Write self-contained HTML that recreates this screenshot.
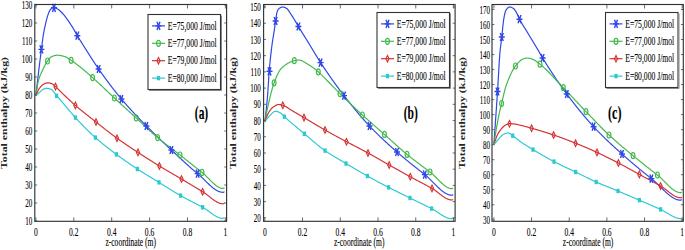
<!DOCTYPE html>
<html><head><meta charset="utf-8"><title>Total enthalpy vs z-coordinate</title>
<style>html,body{margin:0;padding:0;background:#fff;width:685px;height:250px;overflow:hidden}svg{display:block}#w{width:685px;height:250px}text{font-family:"Liberation Serif",serif;fill:#000;stroke:#000;stroke-width:0.12px}</style>
</head><body><div id="w">
<svg width="685" height="250" viewBox="0 0 685 250" font-family='"Liberation Serif", serif' >
<rect width="685" height="250" fill="#fff"/>
<path d="M35.9,95.6 36.15,93.32 36.4,91.05 36.65,88.81 36.9,86.59 37.15,84.38 37.4,82.19 37.65,80.03 37.9,77.87 38.15,75.74 38.4,73.62 38.65,71.52 38.9,69.44 39.15,67.37 39.4,65.32 39.65,63.28 39.9,61.26 40.15,59.25 40.4,57.25 40.65,55.27 40.9,53.3 41.15,51.34 41.4,49.4 41.65,47.45 41.9,45.48 42.15,43.52 42.4,41.6 42.65,39.72 42.9,37.91 43.15,36.2 43.4,34.6 43.65,33.13 43.9,31.75 44.15,30.43 44.4,29.19 44.65,27.99 44.9,26.84 45.15,25.72 45.4,24.62 45.65,23.52 45.9,22.44 46.15,21.38 46.4,20.34 46.65,19.34 46.9,18.38 47.15,17.48 47.4,16.63 47.65,15.84 47.9,15.12 48.15,14.42 48.4,13.73 48.65,13.06 48.9,12.43 49.15,11.82 49.4,11.27 49.65,10.76 49.9,10.31 50.15,9.92 50.4,9.6 50.65,9.32 50.9,9.05 51.15,8.78 51.4,8.53 51.65,8.3 51.9,8.08 52.15,7.89 52.4,7.72 52.65,7.59 52.9,7.49 53.15,7.42 53.4,7.4 53.65,7.41 53.9,7.44 54.15,7.48 54.4,7.54 54.65,7.61 54.9,7.7 55.15,7.8 55.4,7.9 55.65,8.02 55.9,8.14 56.15,8.27 56.4,8.4 56.65,8.54 56.9,8.67 57.15,8.81 57.4,8.95 57.65,9.08 57.9,9.23 58.15,9.39 58.4,9.55 58.65,9.73 58.9,9.92 59.15,10.12 59.4,10.32 59.65,10.54 59.9,10.76 60.15,10.98 60.4,11.22 60.65,11.46 60.9,11.7 61.15,11.95 61.4,12.21 61.65,12.46 61.9,12.72 62.15,12.99 62.4,13.25 62.65,13.51 62.9,13.78 63.15,14.05 63.4,14.32 63.65,14.6 63.9,14.89 64.15,15.19 64.4,15.49 64.65,15.81 64.9,16.13 65.15,16.46 65.4,16.79 65.65,17.12 65.9,17.46 66.15,17.8 66.4,18.14 66.65,18.48 66.9,18.82 67.15,19.17 67.4,19.52 67.65,19.87 67.9,20.23 68.15,20.59 68.4,20.95 68.65,21.32 68.9,21.68 69.15,22.05 69.4,22.43 69.65,22.8 69.9,23.18 70.15,23.56 70.4,23.94 70.65,24.33 70.9,24.72 71.15,25.11 71.4,25.5 71.65,25.9 71.9,26.29 72.15,26.69 72.4,27.1 72.65,27.5 72.9,27.91 73.15,28.32 73.4,28.73 73.65,29.16 73.9,29.59 74.15,30.03 74.4,30.48 74.65,30.93 74.9,31.38 75.15,31.84 75.4,32.3 75.65,32.76 75.9,33.22 76.15,33.67 76.4,34.12 76.65,34.57 76.9,35.01 77.15,35.44 77.4,35.87 77.65,36.29 77.9,36.71 78.15,37.12 78.4,37.54 78.65,37.95 78.9,38.36 79.15,38.77 79.4,39.17 79.65,39.57 79.9,39.98 80.15,40.38 80.4,40.78 80.65,41.17 80.9,41.57 81.15,41.97 81.4,42.36 81.65,42.75 81.9,43.15 82.15,43.54 82.4,43.93 82.65,44.32 82.9,44.71 83.15,45.1 83.4,45.49 83.65,45.88 83.9,46.28 84.15,46.67 84.4,47.06 84.65,47.45 84.9,47.84 85.15,48.24 85.4,48.63 85.65,49.02 85.9,49.42 86.15,49.81 86.4,50.21 86.65,50.6 86.9,51 87.15,51.4 87.4,51.79 87.65,52.19 87.9,52.58 88.15,52.98 88.4,53.38 88.65,53.77 88.9,54.17 89.15,54.57 89.4,54.96 89.65,55.36 89.9,55.75 90.15,56.15 90.4,56.54 90.65,56.94 90.9,57.33 91.15,57.72 91.4,58.11 91.65,58.51 91.9,58.9 92.15,59.29 92.4,59.68 92.65,60.07 92.9,60.46 93.15,60.84 93.4,61.23 93.65,61.62 93.9,62 94.15,62.39 94.4,62.77 94.65,63.15 94.9,63.53 95.15,63.91 95.4,64.29 95.65,64.66 95.9,65.04 96.15,65.41 96.4,65.79 96.65,66.16 96.9,66.53 97.15,66.9 97.4,67.26 97.65,67.63 97.9,67.99 98.15,68.35 98.4,68.71 98.65,69.07 98.9,69.43 99.15,69.79 99.4,70.14 99.65,70.5 99.9,70.85 100.15,71.21 100.4,71.56 100.65,71.91 100.9,72.27 101.15,72.62 101.4,72.97 101.65,73.32 101.9,73.67 102.15,74.02 102.4,74.37 102.65,74.72 102.9,75.07 103.15,75.41 103.4,75.76 103.65,76.11 103.9,76.45 104.15,76.8 104.4,77.14 104.65,77.49 104.9,77.83 105.15,78.17 105.4,78.51 105.65,78.85 105.9,79.2 106.15,79.54 106.4,79.87 106.65,80.21 106.9,80.55 107.15,80.89 107.4,81.23 107.65,81.56 107.9,81.9 108.15,82.23 108.4,82.57 108.65,82.9 108.9,83.23 109.15,83.57 109.4,83.9 109.65,84.23 109.9,84.56 110.15,84.89 110.4,85.22 110.65,85.55 110.9,85.87 111.15,86.2 111.4,86.53 111.65,86.85 111.9,87.18 112.15,87.5 112.4,87.83 112.65,88.15 112.9,88.47 113.15,88.79 113.4,89.11 113.65,89.43 113.9,89.75 114.15,90.07 114.4,90.39 114.65,90.71 114.9,91.02 115.15,91.34 115.4,91.65 115.65,91.97 115.9,92.28 116.15,92.6 116.4,92.91 116.65,93.22 116.9,93.53 117.15,93.84 117.4,94.15 117.65,94.46 117.9,94.77 118.15,95.07 118.4,95.38 118.65,95.69 118.9,95.99 119.15,96.3 119.4,96.6 119.65,96.9 119.9,97.2 120.15,97.51 120.4,97.81 120.65,98.11 120.9,98.4 121.15,98.7 121.4,99 121.65,99.3 121.9,99.59 122.15,99.89 122.4,100.18 122.65,100.48 122.9,100.77 123.15,101.06 123.4,101.35 123.65,101.64 123.9,101.93 124.15,102.22 124.4,102.51 124.65,102.8 124.9,103.09 125.15,103.37 125.4,103.66 125.65,103.94 125.9,104.23 126.15,104.51 126.4,104.8 126.65,105.08 126.9,105.36 127.15,105.64 127.4,105.92 127.65,106.2 127.9,106.48 128.15,106.76 128.4,107.04 128.65,107.32 128.9,107.6 129.15,107.87 129.4,108.15 129.65,108.43 129.9,108.7 130.15,108.98 130.4,109.25 130.65,109.52 130.9,109.8 131.15,110.07 131.4,110.34 131.65,110.61 131.9,110.88 132.15,111.15 132.4,111.43 132.65,111.69 132.9,111.96 133.15,112.23 133.4,112.5 133.65,112.77 133.9,113.04 134.15,113.3 134.4,113.57 134.65,113.84 134.9,114.1 135.15,114.37 135.4,114.63 135.65,114.9 135.9,115.16 136.15,115.42 136.4,115.69 136.65,115.95 136.9,116.21 137.15,116.48 137.4,116.74 137.65,117 137.9,117.26 138.15,117.52 138.4,117.78 138.65,118.04 138.9,118.3 139.15,118.56 139.4,118.82 139.65,119.08 139.9,119.34 140.15,119.6 140.4,119.86 140.65,120.12 140.9,120.37 141.15,120.63 141.4,120.89 141.65,121.15 141.9,121.4 142.15,121.66 142.4,121.92 142.65,122.17 142.9,122.43 143.15,122.69 143.4,122.94 143.65,123.2 143.9,123.45 144.15,123.71 144.4,123.96 144.65,124.22 144.9,124.47 145.15,124.73 145.4,124.98 145.65,125.24 145.9,125.49 146.15,125.75 146.4,126 146.65,126.25 146.9,126.51 147.15,126.76 147.4,127.01 147.65,127.27 147.9,127.52 148.15,127.77 148.4,128.02 148.65,128.27 148.9,128.52 149.15,128.77 149.4,129.02 149.65,129.27 149.9,129.52 150.15,129.77 150.4,130.02 150.65,130.26 150.9,130.51 151.15,130.76 151.4,131 151.65,131.25 151.9,131.5 152.15,131.74 152.4,131.99 152.65,132.23 152.9,132.48 153.15,132.72 153.4,132.97 153.65,133.21 153.9,133.46 154.15,133.7 154.4,133.94 154.65,134.18 154.9,134.43 155.15,134.67 155.4,134.91 155.65,135.15 155.9,135.39 156.15,135.64 156.4,135.88 156.65,136.12 156.9,136.36 157.15,136.6 157.4,136.84 157.65,137.08 157.9,137.32 158.15,137.56 158.4,137.79 158.65,138.03 158.9,138.27 159.15,138.51 159.4,138.75 159.65,138.99 159.9,139.22 160.15,139.46 160.4,139.7 160.65,139.93 160.9,140.17 161.15,140.41 161.4,140.64 161.65,140.88 161.9,141.12 162.15,141.35 162.4,141.59 162.65,141.82 162.9,142.06 163.15,142.3 163.4,142.53 163.65,142.77 163.9,143 164.15,143.24 164.4,143.47 164.65,143.7 164.9,143.94 165.15,144.17 165.4,144.41 165.65,144.64 165.9,144.87 166.15,145.11 166.4,145.34 166.65,145.58 166.9,145.81 167.15,146.04 167.4,146.28 167.65,146.51 167.9,146.74 168.15,146.98 168.4,147.21 168.65,147.44 168.9,147.67 169.15,147.91 169.4,148.14 169.65,148.37 169.9,148.6 170.15,148.84 170.4,149.07 170.65,149.3 170.9,149.54 171.15,149.77 171.4,150 171.65,150.23 171.9,150.47 172.15,150.7 172.4,150.93 172.65,151.16 172.9,151.4 173.15,151.63 173.4,151.86 173.65,152.1 173.9,152.33 174.15,152.56 174.4,152.8 174.65,153.03 174.9,153.26 175.15,153.5 175.4,153.73 175.65,153.97 175.9,154.2 176.15,154.43 176.4,154.67 176.65,154.9 176.9,155.13 177.15,155.37 177.4,155.6 177.65,155.84 177.9,156.07 178.15,156.3 178.4,156.54 178.65,156.77 178.9,157 179.15,157.24 179.4,157.47 179.65,157.7 179.9,157.93 180.15,158.17 180.4,158.4 180.65,158.63 180.9,158.86 181.15,159.1 181.4,159.33 181.65,159.56 181.9,159.79 182.15,160.02 182.4,160.25 182.65,160.49 182.9,160.72 183.15,160.95 183.4,161.18 183.65,161.41 183.9,161.64 184.15,161.87 184.4,162.1 184.65,162.32 184.9,162.55 185.15,162.78 185.4,163.01 185.65,163.24 185.9,163.46 186.15,163.69 186.4,163.92 186.65,164.14 186.9,164.37 187.15,164.6 187.4,164.82 187.65,165.05 187.9,165.27 188.15,165.5 188.4,165.72 188.65,165.94 188.9,166.17 189.15,166.39 189.4,166.61 189.65,166.83 189.9,167.05 190.15,167.27 190.4,167.49 190.65,167.71 190.9,167.93 191.15,168.15 191.4,168.37 191.65,168.59 191.9,168.81 192.15,169.02 192.4,169.24 192.65,169.45 192.9,169.67 193.15,169.88 193.4,170.1 193.65,170.31 193.9,170.52 194.15,170.74 194.4,170.95 194.65,171.16 194.9,171.37 195.15,171.58 195.4,171.79 195.65,172 195.9,172.2 196.15,172.41 196.4,172.62 196.65,172.82 196.9,173.03 197.15,173.23 197.4,173.44 197.65,173.64 197.9,173.85 198.15,174.05 198.4,174.26 198.65,174.48 198.9,174.69 199.15,174.91 199.4,175.13 199.65,175.35 199.9,175.58 200.15,175.8 200.4,176.03 200.65,176.26 200.9,176.5 201.15,176.73 201.4,176.97 201.65,177.2 201.9,177.44 202.15,177.68 202.4,177.92 202.65,178.16 202.9,178.41 203.15,178.65 203.4,178.89 203.65,179.14 203.9,179.38 204.15,179.63 204.4,179.88 204.65,180.12 204.9,180.37 205.15,180.62 205.4,180.86 205.65,181.11 205.9,181.36 206.15,181.6 206.4,181.85 206.65,182.1 206.9,182.34 207.15,182.59 207.4,182.83 207.65,183.07 207.9,183.31 208.15,183.55 208.4,183.79 208.65,184.03 208.9,184.27 209.15,184.5 209.4,184.74 209.65,184.97 209.9,185.2 210.15,185.43 210.4,185.65 210.65,185.88 210.9,186.1 211.15,186.32 211.4,186.54 211.65,186.75 211.9,186.96 212.15,187.17 212.4,187.38 212.65,187.58 212.9,187.78 213.15,187.98 213.4,188.18 213.65,188.37 213.9,188.56 214.15,188.74 214.4,188.92 214.65,189.1 214.9,189.28 215.15,189.45 215.4,189.61 215.65,189.78 215.9,189.93 216.15,190.09 216.4,190.24 216.65,190.38 216.9,190.52 217.15,190.66 217.4,190.79 217.65,190.92 217.9,191.04 218.15,191.16 218.4,191.27 218.65,191.38 218.9,191.48 219.15,191.57 219.4,191.66 219.65,191.75 219.9,191.83 220.15,191.9 220.4,191.97 220.65,192.03 220.9,192.09 221.15,192.14 221.4,192.18 221.65,192.22 221.9,192.25 222.15,192.27 222.4,192.29 222.65,192.3 222.9,192.3 223.15,192.28 223.4,192.21 223.65,192.11 223.9,191.99 224.15,191.87 224.4,191.75 224.5,191.7" stroke="#2f47e6" stroke-width="1.2" fill="none" stroke-linejoin="round"/>
<path d="M35.9,95.6 36.15,93.84 36.4,92.1 36.65,90.41 36.9,88.77 37.15,87.2 37.4,85.71 37.65,84.3 37.9,83 38.15,81.81 38.4,80.75 38.65,79.82 38.9,78.98 39.15,78.19 39.4,77.45 39.65,76.74 39.9,76.08 40.15,75.45 40.4,74.85 40.65,74.28 40.9,73.73 41.15,73.2 41.4,72.68 41.65,72.16 41.9,71.65 42.15,71.14 42.4,70.63 42.65,70.11 42.9,69.57 43.15,69.04 43.4,68.51 43.65,67.99 43.9,67.46 44.15,66.94 44.4,66.43 44.65,65.93 44.9,65.43 45.15,64.94 45.4,64.46 45.65,64 45.9,63.54 46.15,63.1 46.4,62.67 46.65,62.26 46.9,61.87 47.15,61.49 47.4,61.14 47.65,60.8 47.9,60.46 48.15,60.12 48.4,59.78 48.65,59.45 48.9,59.13 49.15,58.82 49.4,58.52 49.65,58.23 49.9,57.96 50.15,57.71 50.4,57.48 50.65,57.27 50.9,57.09 51.15,56.93 51.4,56.8 51.65,56.69 51.9,56.58 52.15,56.47 52.4,56.36 52.65,56.26 52.9,56.16 53.15,56.06 53.4,55.97 53.65,55.88 53.9,55.79 54.15,55.71 54.4,55.64 54.65,55.57 54.9,55.5 55.15,55.44 55.4,55.39 55.65,55.34 55.9,55.3 56.15,55.27 56.4,55.24 56.65,55.22 56.9,55.21 57.15,55.2 57.4,55.2 57.65,55.21 57.9,55.22 58.15,55.23 58.4,55.25 58.65,55.27 58.9,55.29 59.15,55.32 59.4,55.36 59.65,55.39 59.9,55.43 60.15,55.47 60.4,55.51 60.65,55.56 60.9,55.61 61.15,55.66 61.4,55.71 61.65,55.77 61.9,55.83 62.15,55.89 62.4,55.95 62.65,56.01 62.9,56.08 63.15,56.14 63.4,56.21 63.65,56.28 63.9,56.35 64.15,56.42 64.4,56.49 64.65,56.56 64.9,56.63 65.15,56.71 65.4,56.8 65.65,56.9 65.9,57.01 66.15,57.13 66.4,57.25 66.65,57.38 66.9,57.52 67.15,57.67 67.4,57.82 67.65,57.97 67.9,58.13 68.15,58.29 68.4,58.46 68.65,58.63 68.9,58.8 69.15,58.97 69.4,59.14 69.65,59.32 69.9,59.49 70.15,59.66 70.4,59.83 70.65,60 70.9,60.17 71.15,60.33 71.4,60.5 71.65,60.66 71.9,60.83 72.15,61 72.4,61.17 72.65,61.34 72.9,61.51 73.15,61.68 73.4,61.86 73.65,62.04 73.9,62.22 74.15,62.4 74.4,62.58 74.65,62.76 74.9,62.94 75.15,63.13 75.4,63.31 75.65,63.5 75.9,63.69 76.15,63.87 76.4,64.06 76.65,64.25 76.9,64.44 77.15,64.63 77.4,64.83 77.65,65.02 77.9,65.21 78.15,65.4 78.4,65.6 78.65,65.79 78.9,65.99 79.15,66.18 79.4,66.38 79.65,66.57 79.9,66.77 80.15,66.97 80.4,67.17 80.65,67.37 80.9,67.57 81.15,67.77 81.4,67.97 81.65,68.18 81.9,68.38 82.15,68.58 82.4,68.79 82.65,69 82.9,69.2 83.15,69.41 83.4,69.62 83.65,69.83 83.9,70.04 84.15,70.25 84.4,70.46 84.65,70.67 84.9,70.88 85.15,71.09 85.4,71.3 85.65,71.52 85.9,71.73 86.15,71.95 86.4,72.16 86.65,72.38 86.9,72.59 87.15,72.81 87.4,73.03 87.65,73.24 87.9,73.46 88.15,73.68 88.4,73.9 88.65,74.11 88.9,74.33 89.15,74.55 89.4,74.77 89.65,74.99 89.9,75.21 90.15,75.43 90.4,75.65 90.65,75.87 90.9,76.09 91.15,76.32 91.4,76.54 91.65,76.76 91.9,76.98 92.15,77.2 92.4,77.42 92.65,77.64 92.9,77.87 93.15,78.09 93.4,78.31 93.65,78.54 93.9,78.76 94.15,78.99 94.4,79.21 94.65,79.44 94.9,79.66 95.15,79.89 95.4,80.12 95.65,80.35 95.9,80.58 96.15,80.81 96.4,81.04 96.65,81.27 96.9,81.5 97.15,81.73 97.4,81.96 97.65,82.19 97.9,82.42 98.15,82.65 98.4,82.89 98.65,83.12 98.9,83.35 99.15,83.59 99.4,83.82 99.65,84.05 99.9,84.29 100.15,84.52 100.4,84.76 100.65,84.99 100.9,85.23 101.15,85.47 101.4,85.7 101.65,85.94 101.9,86.18 102.15,86.41 102.4,86.65 102.65,86.89 102.9,87.12 103.15,87.36 103.4,87.6 103.65,87.84 103.9,88.07 104.15,88.31 104.4,88.55 104.65,88.79 104.9,89.02 105.15,89.26 105.4,89.5 105.65,89.74 105.9,89.98 106.15,90.22 106.4,90.45 106.65,90.69 106.9,90.93 107.15,91.17 107.4,91.41 107.65,91.64 107.9,91.88 108.15,92.12 108.4,92.36 108.65,92.59 108.9,92.83 109.15,93.07 109.4,93.31 109.65,93.54 109.9,93.78 110.15,94.02 110.4,94.25 110.65,94.49 110.9,94.72 111.15,94.96 111.4,95.2 111.65,95.43 111.9,95.67 112.15,95.9 112.4,96.14 112.65,96.37 112.9,96.6 113.15,96.84 113.4,97.07 113.65,97.3 113.9,97.54 114.15,97.77 114.4,98 114.65,98.23 114.9,98.46 115.15,98.69 115.4,98.93 115.65,99.16 115.9,99.39 116.15,99.62 116.4,99.85 116.65,100.08 116.9,100.31 117.15,100.54 117.4,100.77 117.65,101 117.9,101.23 118.15,101.46 118.4,101.69 118.65,101.92 118.9,102.15 119.15,102.38 119.4,102.61 119.65,102.84 119.9,103.07 120.15,103.3 120.4,103.53 120.65,103.76 120.9,103.99 121.15,104.22 121.4,104.45 121.65,104.68 121.9,104.91 122.15,105.14 122.4,105.37 122.65,105.6 122.9,105.83 123.15,106.06 123.4,106.29 123.65,106.52 123.9,106.74 124.15,106.97 124.4,107.2 124.65,107.43 124.9,107.66 125.15,107.89 125.4,108.12 125.65,108.35 125.9,108.58 126.15,108.8 126.4,109.03 126.65,109.26 126.9,109.49 127.15,109.72 127.4,109.95 127.65,110.18 127.9,110.41 128.15,110.63 128.4,110.86 128.65,111.09 128.9,111.32 129.15,111.55 129.4,111.78 129.65,112.01 129.9,112.23 130.15,112.46 130.4,112.69 130.65,112.92 130.9,113.15 131.15,113.38 131.4,113.61 131.65,113.83 131.9,114.06 132.15,114.29 132.4,114.52 132.65,114.75 132.9,114.98 133.15,115.21 133.4,115.44 133.65,115.66 133.9,115.89 134.15,116.12 134.4,116.35 134.65,116.58 134.9,116.81 135.15,117.04 135.4,117.27 135.65,117.5 135.9,117.73 136.15,117.95 136.4,118.18 136.65,118.41 136.9,118.64 137.15,118.87 137.4,119.1 137.65,119.34 137.9,119.57 138.15,119.8 138.4,120.03 138.65,120.26 138.9,120.5 139.15,120.73 139.4,120.96 139.65,121.2 139.9,121.43 140.15,121.66 140.4,121.9 140.65,122.13 140.9,122.37 141.15,122.6 141.4,122.84 141.65,123.07 141.9,123.31 142.15,123.54 142.4,123.78 142.65,124.01 142.9,124.25 143.15,124.48 143.4,124.72 143.65,124.95 143.9,125.19 144.15,125.42 144.4,125.66 144.65,125.89 144.9,126.13 145.15,126.36 145.4,126.6 145.65,126.83 145.9,127.07 146.15,127.3 146.4,127.53 146.65,127.77 146.9,128 147.15,128.24 147.4,128.47 147.65,128.7 147.9,128.93 148.15,129.17 148.4,129.4 148.65,129.63 148.9,129.86 149.15,130.09 149.4,130.32 149.65,130.55 149.9,130.78 150.15,131.01 150.4,131.24 150.65,131.47 150.9,131.7 151.15,131.93 151.4,132.16 151.65,132.38 151.9,132.61 152.15,132.84 152.4,133.06 152.65,133.29 152.9,133.51 153.15,133.73 153.4,133.96 153.65,134.18 153.9,134.4 154.15,134.62 154.4,134.84 154.65,135.06 154.9,135.28 155.15,135.5 155.4,135.72 155.65,135.93 155.9,136.15 156.15,136.37 156.4,136.58 156.65,136.79 156.9,137.01 157.15,137.22 157.4,137.43 157.65,137.64 157.9,137.85 158.15,138.06 158.4,138.27 158.65,138.48 158.9,138.68 159.15,138.89 159.4,139.1 159.65,139.3 159.9,139.5 160.15,139.71 160.4,139.91 160.65,140.11 160.9,140.31 161.15,140.52 161.4,140.72 161.65,140.92 161.9,141.12 162.15,141.32 162.4,141.51 162.65,141.71 162.9,141.91 163.15,142.11 163.4,142.3 163.65,142.5 163.9,142.69 164.15,142.89 164.4,143.08 164.65,143.28 164.9,143.47 165.15,143.67 165.4,143.86 165.65,144.05 165.9,144.25 166.15,144.44 166.4,144.63 166.65,144.82 166.9,145.01 167.15,145.2 167.4,145.4 167.65,145.59 167.9,145.78 168.15,145.97 168.4,146.16 168.65,146.35 168.9,146.54 169.15,146.73 169.4,146.92 169.65,147.1 169.9,147.29 170.15,147.48 170.4,147.67 170.65,147.86 170.9,148.05 171.15,148.24 171.4,148.43 171.65,148.62 171.9,148.81 172.15,148.99 172.4,149.18 172.65,149.37 172.9,149.56 173.15,149.75 173.4,149.94 173.65,150.13 173.9,150.32 174.15,150.51 174.4,150.7 174.65,150.89 174.9,151.07 175.15,151.26 175.4,151.45 175.65,151.64 175.9,151.84 176.15,152.03 176.4,152.22 176.65,152.41 176.9,152.6 177.15,152.79 177.4,152.98 177.65,153.18 177.9,153.37 178.15,153.56 178.4,153.75 178.65,153.95 178.9,154.14 179.15,154.34 179.4,154.53 179.65,154.73 179.9,154.92 180.15,155.12 180.4,155.31 180.65,155.51 180.9,155.71 181.15,155.9 181.4,156.1 181.65,156.3 181.9,156.49 182.15,156.69 182.4,156.89 182.65,157.08 182.9,157.28 183.15,157.48 183.4,157.68 183.65,157.88 183.9,158.07 184.15,158.27 184.4,158.47 184.65,158.67 184.9,158.87 185.15,159.06 185.4,159.26 185.65,159.46 185.9,159.66 186.15,159.86 186.4,160.06 186.65,160.25 186.9,160.45 187.15,160.65 187.4,160.85 187.65,161.05 187.9,161.25 188.15,161.45 188.4,161.65 188.65,161.85 188.9,162.04 189.15,162.24 189.4,162.44 189.65,162.64 189.9,162.84 190.15,163.04 190.4,163.24 190.65,163.44 190.9,163.64 191.15,163.84 191.4,164.03 191.65,164.23 191.9,164.43 192.15,164.63 192.4,164.83 192.65,165.03 192.9,165.23 193.15,165.43 193.4,165.63 193.65,165.82 193.9,166.02 194.15,166.22 194.4,166.42 194.65,166.62 194.9,166.82 195.15,167.01 195.4,167.21 195.65,167.41 195.9,167.61 196.15,167.81 196.4,168 196.65,168.2 196.9,168.4 197.15,168.6 197.4,168.79 197.65,168.99 197.9,169.19 198.15,169.39 198.4,169.58 198.65,169.78 198.9,169.98 199.15,170.17 199.4,170.37 199.65,170.56 199.9,170.76 200.15,170.96 200.4,171.15 200.65,171.35 200.9,171.54 201.15,171.74 201.4,171.93 201.65,172.13 201.9,172.32 202.15,172.52 202.4,172.72 202.65,172.92 202.9,173.13 203.15,173.34 203.4,173.55 203.65,173.77 203.9,173.99 204.15,174.22 204.4,174.45 204.65,174.68 204.9,174.91 205.15,175.15 205.4,175.39 205.65,175.63 205.9,175.87 206.15,176.12 206.4,176.36 206.65,176.61 206.9,176.86 207.15,177.11 207.4,177.36 207.65,177.62 207.9,177.87 208.15,178.12 208.4,178.38 208.65,178.63 208.9,178.89 209.15,179.14 209.4,179.4 209.65,179.65 209.9,179.91 210.15,180.16 210.4,180.41 210.65,180.67 210.9,180.92 211.15,181.16 211.4,181.41 211.65,181.66 211.9,181.9 212.15,182.14 212.4,182.38 212.65,182.62 212.9,182.86 213.15,183.09 213.4,183.32 213.65,183.55 213.9,183.77 214.15,183.99 214.4,184.21 214.65,184.42 214.9,184.63 215.15,184.84 215.4,185.04 215.65,185.24 215.9,185.43 216.15,185.62 216.4,185.8 216.65,185.98 216.9,186.16 217.15,186.33 217.4,186.49 217.65,186.65 217.9,186.8 218.15,186.95 218.4,187.09 218.65,187.22 218.9,187.35 219.15,187.47 219.4,187.58 219.65,187.69 219.9,187.79 220.15,187.89 220.4,187.97 220.65,188.05 220.9,188.12 221.15,188.19 221.4,188.24 221.65,188.29 221.9,188.33 222.15,188.36 222.4,188.38 222.65,188.4 222.9,188.4 223.15,188.38 223.4,188.31 223.65,188.21 223.9,188.1 224.15,187.97 224.4,187.85 224.5,187.8" stroke="#43b94e" stroke-width="1.2" fill="none" stroke-linejoin="round"/>
<path d="M35.9,95.6 36.15,94.97 36.4,94.36 36.65,93.76 36.9,93.17 37.15,92.6 37.4,92.04 37.65,91.51 37.9,90.99 38.15,90.49 38.4,90.02 38.65,89.56 38.9,89.13 39.15,88.73 39.4,88.35 39.65,88 39.9,87.67 40.15,87.36 40.4,87.05 40.65,86.76 40.9,86.47 41.15,86.19 41.4,85.93 41.65,85.67 41.9,85.43 42.15,85.21 42.4,85 42.65,84.8 42.9,84.62 43.15,84.45 43.4,84.3 43.65,84.18 43.9,84.05 44.15,83.93 44.4,83.81 44.65,83.69 44.9,83.58 45.15,83.47 45.4,83.37 45.65,83.27 45.9,83.19 46.15,83.11 46.4,83.04 46.65,82.99 46.9,82.94 47.15,82.92 47.4,82.9 47.65,82.9 47.9,82.91 48.15,82.92 48.4,82.94 48.65,82.97 48.9,83.01 49.15,83.04 49.4,83.09 49.65,83.14 49.9,83.19 50.15,83.25 50.4,83.31 50.65,83.37 50.9,83.44 51.15,83.51 51.4,83.58 51.65,83.65 51.9,83.73 52.15,83.83 52.4,83.96 52.65,84.11 52.9,84.28 53.15,84.47 53.4,84.68 53.65,84.89 53.9,85.12 54.15,85.35 54.4,85.59 54.65,85.82 54.9,86.06 55.15,86.29 55.4,86.51 55.65,86.73 55.9,86.95 56.15,87.18 56.4,87.41 56.65,87.64 56.9,87.87 57.15,88.11 57.4,88.36 57.65,88.6 57.9,88.85 58.15,89.1 58.4,89.35 58.65,89.6 58.9,89.86 59.15,90.12 59.4,90.37 59.65,90.63 59.9,90.89 60.15,91.14 60.4,91.4 60.65,91.66 60.9,91.91 61.15,92.17 61.4,92.42 61.65,92.67 61.9,92.92 62.15,93.17 62.4,93.41 62.65,93.66 62.9,93.9 63.15,94.13 63.4,94.37 63.65,94.61 63.9,94.85 64.15,95.09 64.4,95.33 64.65,95.56 64.9,95.8 65.15,96.04 65.4,96.27 65.65,96.51 65.9,96.75 66.15,96.98 66.4,97.22 66.65,97.45 66.9,97.69 67.15,97.92 67.4,98.16 67.65,98.39 67.9,98.63 68.15,98.86 68.4,99.09 68.65,99.33 68.9,99.56 69.15,99.79 69.4,100.02 69.65,100.25 69.9,100.48 70.15,100.71 70.4,100.94 70.65,101.17 70.9,101.4 71.15,101.63 71.4,101.85 71.65,102.08 71.9,102.31 72.15,102.53 72.4,102.76 72.65,102.98 72.9,103.2 73.15,103.43 73.4,103.65 73.65,103.87 73.9,104.09 74.15,104.31 74.4,104.53 74.65,104.75 74.9,104.97 75.15,105.18 75.4,105.4 75.65,105.62 75.9,105.83 76.15,106.05 76.4,106.26 76.65,106.47 76.9,106.69 77.15,106.9 77.4,107.11 77.65,107.32 77.9,107.53 78.15,107.74 78.4,107.95 78.65,108.16 78.9,108.37 79.15,108.58 79.4,108.79 79.65,108.99 79.9,109.2 80.15,109.41 80.4,109.61 80.65,109.82 80.9,110.02 81.15,110.23 81.4,110.43 81.65,110.64 81.9,110.84 82.15,111.04 82.4,111.25 82.65,111.45 82.9,111.65 83.15,111.85 83.4,112.05 83.65,112.26 83.9,112.46 84.15,112.66 84.4,112.86 84.65,113.06 84.9,113.26 85.15,113.46 85.4,113.66 85.65,113.86 85.9,114.05 86.15,114.25 86.4,114.45 86.65,114.65 86.9,114.85 87.15,115.05 87.4,115.24 87.65,115.44 87.9,115.64 88.15,115.83 88.4,116.03 88.65,116.23 88.9,116.43 89.15,116.62 89.4,116.82 89.65,117.02 89.9,117.21 90.15,117.41 90.4,117.6 90.65,117.8 90.9,118 91.15,118.19 91.4,118.39 91.65,118.58 91.9,118.78 92.15,118.98 92.4,119.17 92.65,119.37 92.9,119.56 93.15,119.76 93.4,119.96 93.65,120.15 93.9,120.35 94.15,120.54 94.4,120.74 94.65,120.94 94.9,121.13 95.15,121.33 95.4,121.53 95.65,121.72 95.9,121.92 96.15,122.12 96.4,122.32 96.65,122.51 96.9,122.71 97.15,122.91 97.4,123.11 97.65,123.3 97.9,123.5 98.15,123.7 98.4,123.9 98.65,124.09 98.9,124.29 99.15,124.49 99.4,124.69 99.65,124.88 99.9,125.08 100.15,125.28 100.4,125.48 100.65,125.68 100.9,125.87 101.15,126.07 101.4,126.27 101.65,126.47 101.9,126.66 102.15,126.86 102.4,127.06 102.65,127.26 102.9,127.45 103.15,127.65 103.4,127.85 103.65,128.04 103.9,128.24 104.15,128.44 104.4,128.63 104.65,128.83 104.9,129.03 105.15,129.22 105.4,129.42 105.65,129.61 105.9,129.81 106.15,130 106.4,130.2 106.65,130.39 106.9,130.59 107.15,130.78 107.4,130.98 107.65,131.17 107.9,131.37 108.15,131.56 108.4,131.75 108.65,131.95 108.9,132.14 109.15,132.33 109.4,132.52 109.65,132.72 109.9,132.91 110.15,133.1 110.4,133.29 110.65,133.48 110.9,133.67 111.15,133.86 111.4,134.05 111.65,134.24 111.9,134.43 112.15,134.62 112.4,134.81 112.65,135 112.9,135.18 113.15,135.37 113.4,135.56 113.65,135.74 113.9,135.93 114.15,136.12 114.4,136.3 114.65,136.49 114.9,136.67 115.15,136.85 115.4,137.04 115.65,137.22 115.9,137.4 116.15,137.58 116.4,137.77 116.65,137.95 116.9,138.13 117.15,138.31 117.4,138.49 117.65,138.67 117.9,138.85 118.15,139.02 118.4,139.2 118.65,139.38 118.9,139.56 119.15,139.74 119.4,139.91 119.65,140.09 119.9,140.26 120.15,140.44 120.4,140.61 120.65,140.79 120.9,140.96 121.15,141.14 121.4,141.31 121.65,141.49 121.9,141.66 122.15,141.83 122.4,142.01 122.65,142.18 122.9,142.35 123.15,142.52 123.4,142.69 123.65,142.86 123.9,143.04 124.15,143.21 124.4,143.38 124.65,143.55 124.9,143.72 125.15,143.89 125.4,144.06 125.65,144.23 125.9,144.39 126.15,144.56 126.4,144.73 126.65,144.9 126.9,145.07 127.15,145.24 127.4,145.4 127.65,145.57 127.9,145.74 128.15,145.91 128.4,146.07 128.65,146.24 128.9,146.41 129.15,146.57 129.4,146.74 129.65,146.91 129.9,147.07 130.15,147.24 130.4,147.4 130.65,147.57 130.9,147.73 131.15,147.9 131.4,148.07 131.65,148.23 131.9,148.4 132.15,148.56 132.4,148.73 132.65,148.89 132.9,149.05 133.15,149.22 133.4,149.38 133.65,149.55 133.9,149.71 134.15,149.88 134.4,150.04 134.65,150.2 134.9,150.37 135.15,150.53 135.4,150.7 135.65,150.86 135.9,151.02 136.15,151.19 136.4,151.35 136.65,151.52 136.9,151.68 137.15,151.84 137.4,152.01 137.65,152.17 137.9,152.33 138.15,152.5 138.4,152.66 138.65,152.83 138.9,152.99 139.15,153.15 139.4,153.32 139.65,153.48 139.9,153.64 140.15,153.81 140.4,153.97 140.65,154.13 140.9,154.29 141.15,154.46 141.4,154.62 141.65,154.78 141.9,154.94 142.15,155.11 142.4,155.27 142.65,155.43 142.9,155.59 143.15,155.75 143.4,155.92 143.65,156.08 143.9,156.24 144.15,156.4 144.4,156.56 144.65,156.72 144.9,156.88 145.15,157.05 145.4,157.21 145.65,157.37 145.9,157.53 146.15,157.69 146.4,157.85 146.65,158.01 146.9,158.17 147.15,158.33 147.4,158.49 147.65,158.65 147.9,158.81 148.15,158.97 148.4,159.13 148.65,159.29 148.9,159.45 149.15,159.6 149.4,159.76 149.65,159.92 149.9,160.08 150.15,160.24 150.4,160.4 150.65,160.56 150.9,160.71 151.15,160.87 151.4,161.03 151.65,161.19 151.9,161.34 152.15,161.5 152.4,161.66 152.65,161.82 152.9,161.97 153.15,162.13 153.4,162.29 153.65,162.44 153.9,162.6 154.15,162.76 154.4,162.91 154.65,163.07 154.9,163.22 155.15,163.38 155.4,163.53 155.65,163.69 155.9,163.84 156.15,164 156.4,164.15 156.65,164.31 156.9,164.46 157.15,164.62 157.4,164.77 157.65,164.93 157.9,165.08 158.15,165.23 158.4,165.39 158.65,165.54 158.9,165.69 159.15,165.85 159.4,166 159.65,166.15 159.9,166.3 160.15,166.46 160.4,166.61 160.65,166.76 160.9,166.91 161.15,167.06 161.4,167.21 161.65,167.36 161.9,167.51 162.15,167.66 162.4,167.81 162.65,167.96 162.9,168.11 163.15,168.26 163.4,168.41 163.65,168.56 163.9,168.71 164.15,168.86 164.4,169 164.65,169.15 164.9,169.3 165.15,169.45 165.4,169.59 165.65,169.74 165.9,169.89 166.15,170.04 166.4,170.18 166.65,170.33 166.9,170.48 167.15,170.62 167.4,170.77 167.65,170.91 167.9,171.06 168.15,171.21 168.4,171.35 168.65,171.5 168.9,171.64 169.15,171.79 169.4,171.93 169.65,172.08 169.9,172.22 170.15,172.37 170.4,172.52 170.65,172.66 170.9,172.81 171.15,172.95 171.4,173.1 171.65,173.24 171.9,173.39 172.15,173.53 172.4,173.68 172.65,173.82 172.9,173.97 173.15,174.11 173.4,174.26 173.65,174.4 173.9,174.55 174.15,174.69 174.4,174.84 174.65,174.98 174.9,175.13 175.15,175.27 175.4,175.42 175.65,175.56 175.9,175.71 176.15,175.85 176.4,176 176.65,176.15 176.9,176.29 177.15,176.44 177.4,176.58 177.65,176.73 177.9,176.88 178.15,177.02 178.4,177.17 178.65,177.32 178.9,177.46 179.15,177.61 179.4,177.76 179.65,177.9 179.9,178.05 180.15,178.2 180.4,178.35 180.65,178.5 180.9,178.64 181.15,178.79 181.4,178.94 181.65,179.09 181.9,179.24 182.15,179.39 182.4,179.54 182.65,179.69 182.9,179.83 183.15,179.98 183.4,180.13 183.65,180.28 183.9,180.43 184.15,180.58 184.4,180.73 184.65,180.88 184.9,181.03 185.15,181.18 185.4,181.33 185.65,181.48 185.9,181.63 186.15,181.78 186.4,181.93 186.65,182.08 186.9,182.23 187.15,182.38 187.4,182.53 187.65,182.68 187.9,182.83 188.15,182.99 188.4,183.14 188.65,183.29 188.9,183.44 189.15,183.59 189.4,183.74 189.65,183.89 189.9,184.04 190.15,184.19 190.4,184.34 190.65,184.49 190.9,184.64 191.15,184.8 191.4,184.95 191.65,185.1 191.9,185.25 192.15,185.4 192.4,185.55 192.65,185.7 192.9,185.85 193.15,186 193.4,186.16 193.65,186.31 193.9,186.46 194.15,186.61 194.4,186.76 194.65,186.91 194.9,187.06 195.15,187.21 195.4,187.36 195.65,187.52 195.9,187.67 196.15,187.82 196.4,187.97 196.65,188.12 196.9,188.27 197.15,188.42 197.4,188.57 197.65,188.72 197.9,188.87 198.15,189.02 198.4,189.18 198.65,189.33 198.9,189.48 199.15,189.63 199.4,189.78 199.65,189.93 199.9,190.08 200.15,190.23 200.4,190.38 200.65,190.53 200.9,190.68 201.15,190.83 201.4,190.98 201.65,191.13 201.9,191.28 202.15,191.43 202.4,191.58 202.65,191.73 202.9,191.88 203.15,192.04 203.4,192.2 203.65,192.36 203.9,192.52 204.15,192.69 204.4,192.86 204.65,193.04 204.9,193.21 205.15,193.39 205.4,193.57 205.65,193.76 205.9,193.94 206.15,194.13 206.4,194.32 206.65,194.51 206.9,194.7 207.15,194.89 207.4,195.09 207.65,195.28 207.9,195.48 208.15,195.67 208.4,195.87 208.65,196.07 208.9,196.27 209.15,196.47 209.4,196.66 209.65,196.86 209.9,197.06 210.15,197.26 210.4,197.46 210.65,197.65 210.9,197.85 211.15,198.05 211.4,198.24 211.65,198.44 211.9,198.63 212.15,198.82 212.4,199.01 212.65,199.2 212.9,199.38 213.15,199.57 213.4,199.75 213.65,199.93 213.9,200.1 214.15,200.28 214.4,200.45 214.65,200.62 214.9,200.79 215.15,200.95 215.4,201.11 215.65,201.27 215.9,201.42 216.15,201.57 216.4,201.72 216.65,201.86 216.9,202 217.15,202.14 217.4,202.27 217.65,202.39 217.9,202.52 218.15,202.63 218.4,202.74 218.65,202.85 218.9,202.95 219.15,203.05 219.4,203.14 219.65,203.23 219.9,203.31 220.15,203.39 220.4,203.46 220.65,203.52 220.9,203.58 221.15,203.63 221.4,203.67 221.65,203.71 221.9,203.74 222.15,203.77 222.4,203.79 222.65,203.8 222.9,203.8 223.15,203.77 223.4,203.69 223.65,203.57 223.9,203.42 224.15,203.26 224.4,203.09 224.65,202.93 224.7,202.9" stroke="#d53030" stroke-width="1.2" fill="none" stroke-linejoin="round"/>
<path d="M35.9,95.6 36.15,95.37 36.4,95.13 36.65,94.9 36.9,94.67 37.15,94.44 37.4,94.22 37.65,93.99 37.9,93.76 38.15,93.54 38.4,93.32 38.65,93.1 38.9,92.88 39.15,92.66 39.4,92.44 39.65,92.23 39.9,92.01 40.15,91.79 40.4,91.55 40.65,91.31 40.9,91.07 41.15,90.83 41.4,90.58 41.65,90.35 41.9,90.12 42.15,89.9 42.4,89.69 42.65,89.51 42.9,89.34 43.15,89.19 43.4,89.07 43.65,88.98 43.9,88.9 44.15,88.83 44.4,88.75 44.65,88.68 44.9,88.61 45.15,88.55 45.4,88.49 45.65,88.44 45.9,88.39 46.15,88.36 46.4,88.33 46.65,88.31 46.9,88.3 47.15,88.3 47.4,88.31 47.65,88.34 47.9,88.37 48.15,88.41 48.4,88.46 48.65,88.52 48.9,88.59 49.15,88.66 49.4,88.74 49.65,88.83 49.9,88.92 50.15,89.02 50.4,89.12 50.65,89.22 50.9,89.33 51.15,89.43 51.4,89.55 51.65,89.69 51.9,89.86 52.15,90.07 52.4,90.3 52.65,90.56 52.9,90.83 53.15,91.13 53.4,91.44 53.65,91.77 53.9,92.11 54.15,92.46 54.4,92.82 54.65,93.17 54.9,93.53 55.15,93.89 55.4,94.24 55.65,94.59 55.9,94.93 56.15,95.25 56.4,95.56 56.65,95.86 56.9,96.14 57.15,96.43 57.4,96.71 57.65,96.99 57.9,97.26 58.15,97.54 58.4,97.82 58.65,98.09 58.9,98.37 59.15,98.65 59.4,98.92 59.65,99.2 59.9,99.49 60.15,99.77 60.4,100.06 60.65,100.34 60.9,100.63 61.15,100.92 61.4,101.21 61.65,101.5 61.9,101.79 62.15,102.09 62.4,102.38 62.65,102.67 62.9,102.97 63.15,103.26 63.4,103.56 63.65,103.86 63.9,104.15 64.15,104.45 64.4,104.75 64.65,105.05 64.9,105.35 65.15,105.65 65.4,105.95 65.65,106.25 65.9,106.55 66.15,106.85 66.4,107.15 66.65,107.45 66.9,107.75 67.15,108.05 67.4,108.35 67.65,108.65 67.9,108.95 68.15,109.25 68.4,109.55 68.65,109.84 68.9,110.14 69.15,110.44 69.4,110.74 69.65,111.03 69.9,111.33 70.15,111.63 70.4,111.92 70.65,112.21 70.9,112.51 71.15,112.8 71.4,113.09 71.65,113.38 71.9,113.67 72.15,113.96 72.4,114.25 72.65,114.54 72.9,114.82 73.15,115.1 73.4,115.39 73.65,115.67 73.9,115.95 74.15,116.23 74.4,116.51 74.65,116.78 74.9,117.06 75.15,117.33 75.4,117.6 75.65,117.87 75.9,118.14 76.15,118.41 76.4,118.68 76.65,118.95 76.9,119.22 77.15,119.48 77.4,119.75 77.65,120.02 77.9,120.29 78.15,120.55 78.4,120.82 78.65,121.08 78.9,121.35 79.15,121.61 79.4,121.88 79.65,122.14 79.9,122.41 80.15,122.67 80.4,122.93 80.65,123.19 80.9,123.46 81.15,123.72 81.4,123.98 81.65,124.24 81.9,124.5 82.15,124.76 82.4,125.02 82.65,125.27 82.9,125.53 83.15,125.79 83.4,126.05 83.65,126.3 83.9,126.56 84.15,126.81 84.4,127.07 84.65,127.32 84.9,127.57 85.15,127.83 85.4,128.08 85.65,128.33 85.9,128.58 86.15,128.83 86.4,129.08 86.65,129.33 86.9,129.58 87.15,129.83 87.4,130.07 87.65,130.32 87.9,130.57 88.15,130.81 88.4,131.06 88.65,131.3 88.9,131.54 89.15,131.79 89.4,132.03 89.65,132.27 89.9,132.51 90.15,132.75 90.4,132.99 90.65,133.22 90.9,133.46 91.15,133.7 91.4,133.93 91.65,134.17 91.9,134.4 92.15,134.64 92.4,134.87 92.65,135.1 92.9,135.33 93.15,135.56 93.4,135.79 93.65,136.02 93.9,136.25 94.15,136.48 94.4,136.7 94.65,136.93 94.9,137.15 95.15,137.38 95.4,137.6 95.65,137.82 95.9,138.04 96.15,138.26 96.4,138.48 96.65,138.7 96.9,138.92 97.15,139.14 97.4,139.36 97.65,139.57 97.9,139.79 98.15,140 98.4,140.22 98.65,140.43 98.9,140.65 99.15,140.86 99.4,141.07 99.65,141.28 99.9,141.49 100.15,141.7 100.4,141.91 100.65,142.12 100.9,142.33 101.15,142.54 101.4,142.74 101.65,142.95 101.9,143.16 102.15,143.36 102.4,143.57 102.65,143.77 102.9,143.97 103.15,144.18 103.4,144.38 103.65,144.58 103.9,144.78 104.15,144.99 104.4,145.19 104.65,145.39 104.9,145.59 105.15,145.79 105.4,145.99 105.65,146.18 105.9,146.38 106.15,146.58 106.4,146.78 106.65,146.97 106.9,147.17 107.15,147.37 107.4,147.56 107.65,147.76 107.9,147.95 108.15,148.15 108.4,148.34 108.65,148.53 108.9,148.73 109.15,148.92 109.4,149.11 109.65,149.31 109.9,149.5 110.15,149.69 110.4,149.88 110.65,150.07 110.9,150.26 111.15,150.45 111.4,150.64 111.65,150.83 111.9,151.02 112.15,151.21 112.4,151.4 112.65,151.59 112.9,151.78 113.15,151.97 113.4,152.16 113.65,152.34 113.9,152.53 114.15,152.72 114.4,152.91 114.65,153.09 114.9,153.28 115.15,153.47 115.4,153.65 115.65,153.84 115.9,154.03 116.15,154.21 116.4,154.4 116.65,154.59 116.9,154.77 117.15,154.96 117.4,155.14 117.65,155.33 117.9,155.51 118.15,155.69 118.4,155.88 118.65,156.06 118.9,156.24 119.15,156.43 119.4,156.61 119.65,156.79 119.9,156.97 120.15,157.15 120.4,157.33 120.65,157.51 120.9,157.69 121.15,157.87 121.4,158.05 121.65,158.23 121.9,158.41 122.15,158.59 122.4,158.77 122.65,158.95 122.9,159.12 123.15,159.3 123.4,159.48 123.65,159.66 123.9,159.83 124.15,160.01 124.4,160.19 124.65,160.36 124.9,160.54 125.15,160.71 125.4,160.89 125.65,161.06 125.9,161.24 126.15,161.41 126.4,161.58 126.65,161.76 126.9,161.93 127.15,162.1 127.4,162.28 127.65,162.45 127.9,162.62 128.15,162.79 128.4,162.97 128.65,163.14 128.9,163.31 129.15,163.48 129.4,163.65 129.65,163.82 129.9,163.99 130.15,164.16 130.4,164.33 130.65,164.5 130.9,164.67 131.15,164.84 131.4,165.01 131.65,165.18 131.9,165.35 132.15,165.51 132.4,165.68 132.65,165.85 132.9,166.02 133.15,166.19 133.4,166.35 133.65,166.52 133.9,166.69 134.15,166.85 134.4,167.02 134.65,167.19 134.9,167.35 135.15,167.52 135.4,167.68 135.65,167.85 135.9,168.01 136.15,168.18 136.4,168.34 136.65,168.51 136.9,168.67 137.15,168.84 137.4,169 137.65,169.16 137.9,169.33 138.15,169.49 138.4,169.65 138.65,169.82 138.9,169.98 139.15,170.14 139.4,170.3 139.65,170.46 139.9,170.62 140.15,170.78 140.4,170.94 140.65,171.1 140.9,171.26 141.15,171.42 141.4,171.58 141.65,171.74 141.9,171.9 142.15,172.05 142.4,172.21 142.65,172.37 142.9,172.53 143.15,172.68 143.4,172.84 143.65,173 143.9,173.15 144.15,173.31 144.4,173.46 144.65,173.62 144.9,173.77 145.15,173.93 145.4,174.08 145.65,174.24 145.9,174.39 146.15,174.55 146.4,174.7 146.65,174.86 146.9,175.01 147.15,175.16 147.4,175.32 147.65,175.47 147.9,175.62 148.15,175.78 148.4,175.93 148.65,176.08 148.9,176.24 149.15,176.39 149.4,176.54 149.65,176.7 149.9,176.85 150.15,177 150.4,177.15 150.65,177.3 150.9,177.46 151.15,177.61 151.4,177.76 151.65,177.91 151.9,178.07 152.15,178.22 152.4,178.37 152.65,178.52 152.9,178.67 153.15,178.83 153.4,178.98 153.65,179.13 153.9,179.28 154.15,179.43 154.4,179.59 154.65,179.74 154.9,179.89 155.15,180.04 155.4,180.2 155.65,180.35 155.9,180.5 156.15,180.65 156.4,180.81 156.65,180.96 156.9,181.11 157.15,181.26 157.4,181.42 157.65,181.57 157.9,181.72 158.15,181.88 158.4,182.03 158.65,182.18 158.9,182.34 159.15,182.49 159.4,182.65 159.65,182.8 159.9,182.96 160.15,183.11 160.4,183.26 160.65,183.42 160.9,183.57 161.15,183.73 161.4,183.89 161.65,184.04 161.9,184.2 162.15,184.35 162.4,184.51 162.65,184.66 162.9,184.82 163.15,184.98 163.4,185.13 163.65,185.29 163.9,185.44 164.15,185.6 164.4,185.76 164.65,185.91 164.9,186.07 165.15,186.23 165.4,186.38 165.65,186.54 165.9,186.69 166.15,186.85 166.4,187.01 166.65,187.16 166.9,187.32 167.15,187.48 167.4,187.63 167.65,187.79 167.9,187.94 168.15,188.1 168.4,188.26 168.65,188.41 168.9,188.57 169.15,188.72 169.4,188.88 169.65,189.03 169.9,189.19 170.15,189.34 170.4,189.5 170.65,189.65 170.9,189.81 171.15,189.96 171.4,190.12 171.65,190.27 171.9,190.42 172.15,190.58 172.4,190.73 172.65,190.88 172.9,191.04 173.15,191.19 173.4,191.34 173.65,191.49 173.9,191.65 174.15,191.8 174.4,191.95 174.65,192.1 174.9,192.25 175.15,192.4 175.4,192.55 175.65,192.7 175.9,192.85 176.15,193 176.4,193.15 176.65,193.3 176.9,193.45 177.15,193.6 177.4,193.74 177.65,193.89 177.9,194.04 178.15,194.19 178.4,194.33 178.65,194.48 178.9,194.62 179.15,194.77 179.4,194.91 179.65,195.06 179.9,195.2 180.15,195.34 180.4,195.49 180.65,195.63 180.9,195.77 181.15,195.91 181.4,196.05 181.65,196.19 181.9,196.33 182.15,196.47 182.4,196.61 182.65,196.75 182.9,196.89 183.15,197.03 183.4,197.17 183.65,197.3 183.9,197.44 184.15,197.58 184.4,197.71 184.65,197.85 184.9,197.98 185.15,198.12 185.4,198.26 185.65,198.39 185.9,198.52 186.15,198.66 186.4,198.79 186.65,198.93 186.9,199.06 187.15,199.19 187.4,199.33 187.65,199.46 187.9,199.59 188.15,199.72 188.4,199.86 188.65,199.99 188.9,200.12 189.15,200.25 189.4,200.38 189.65,200.51 189.9,200.64 190.15,200.77 190.4,200.91 190.65,201.04 190.9,201.17 191.15,201.3 191.4,201.43 191.65,201.56 191.9,201.69 192.15,201.82 192.4,201.95 192.65,202.08 192.9,202.21 193.15,202.34 193.4,202.47 193.65,202.6 193.9,202.73 194.15,202.86 194.4,202.99 194.65,203.12 194.9,203.25 195.15,203.38 195.4,203.51 195.65,203.64 195.9,203.77 196.15,203.9 196.4,204.03 196.65,204.16 196.9,204.29 197.15,204.42 197.4,204.55 197.65,204.68 197.9,204.81 198.15,204.94 198.4,205.07 198.65,205.2 198.9,205.33 199.15,205.46 199.4,205.6 199.65,205.73 199.9,205.86 200.15,205.99 200.4,206.12 200.65,206.26 200.9,206.39 201.15,206.52 201.4,206.66 201.65,206.79 201.9,206.92 202.15,207.06 202.4,207.19 202.65,207.33 202.9,207.46 203.15,207.6 203.4,207.75 203.65,207.9 203.9,208.04 204.15,208.2 204.4,208.35 204.65,208.51 204.9,208.67 205.15,208.83 205.4,209 205.65,209.16 205.9,209.33 206.15,209.5 206.4,209.68 206.65,209.85 206.9,210.02 207.15,210.2 207.4,210.38 207.65,210.56 207.9,210.74 208.15,210.92 208.4,211.1 208.65,211.28 208.9,211.46 209.15,211.64 209.4,211.82 209.65,212.01 209.9,212.19 210.15,212.37 210.4,212.55 210.65,212.73 210.9,212.91 211.15,213.09 211.4,213.27 211.65,213.45 211.9,213.63 212.15,213.8 212.4,213.98 212.65,214.15 212.9,214.32 213.15,214.49 213.4,214.66 213.65,214.82 213.9,214.99 214.15,215.15 214.4,215.31 214.65,215.46 214.9,215.62 215.15,215.77 215.4,215.92 215.65,216.06 215.9,216.2 216.15,216.34 216.4,216.48 216.65,216.61 216.9,216.74 217.15,216.86 217.4,216.98 217.65,217.1 217.9,217.21 218.15,217.32 218.4,217.42 218.65,217.52 218.9,217.62 219.15,217.71 219.4,217.79 219.65,217.87 219.9,217.95 220.15,218.02 220.4,218.08 220.65,218.14 220.9,218.19 221.15,218.24 221.4,218.28 221.65,218.32 221.9,218.35 222.15,218.37 222.4,218.39 222.65,218.4 222.9,218.4 223.15,218.36 223.4,218.26 223.65,218.11 223.9,217.94 224.15,217.75 224.4,217.57 224.5,217.5" stroke="#2cc9d1" stroke-width="1.2" fill="none" stroke-linejoin="round"/>
<path d="M38.4,49.4L44.4,49.4 M39.9,45.3L42.9,53.5 M39.9,53.5L42.9,45.3" stroke="#2f47e6" stroke-width="1.4" fill="none"/>
<path d="M51,7.8L57,7.8 M52.5,3.7L55.5,11.9 M52.5,11.9L55.5,3.7" stroke="#2f47e6" stroke-width="1.4" fill="none"/>
<path d="M74.3,35.7L80.3,35.7 M75.8,31.6L78.8,39.8 M75.8,39.8L78.8,31.6" stroke="#2f47e6" stroke-width="1.4" fill="none"/>
<path d="M95.6,69L101.6,69 M97.1,64.9L100.1,73.1 M97.1,73.1L100.1,64.9" stroke="#2f47e6" stroke-width="1.4" fill="none"/>
<path d="M118.4,99L124.4,99 M119.9,94.9L122.9,103.1 M119.9,103.1L122.9,94.9" stroke="#2f47e6" stroke-width="1.4" fill="none"/>
<path d="M143.4,126L149.4,126 M144.9,121.9L147.9,130.1 M144.9,130.1L147.9,121.9" stroke="#2f47e6" stroke-width="1.4" fill="none"/>
<path d="M168.4,150L174.4,150 M169.9,145.9L172.9,154.1 M169.9,154.1L172.9,145.9" stroke="#2f47e6" stroke-width="1.4" fill="none"/>
<path d="M194.6,173.6L200.6,173.6 M196.1,169.5L199.1,177.7 M196.1,177.7L199.1,169.5" stroke="#2f47e6" stroke-width="1.4" fill="none"/>
<ellipse cx="47.5" cy="61" rx="1.9" ry="3.0" stroke="#43b94e" stroke-width="1.2" fill="none"/>
<ellipse cx="71.1" cy="60.3" rx="1.9" ry="3.0" stroke="#43b94e" stroke-width="1.2" fill="none"/>
<ellipse cx="92.6" cy="77.6" rx="1.9" ry="3.0" stroke="#43b94e" stroke-width="1.2" fill="none"/>
<ellipse cx="114.4" cy="98" rx="1.9" ry="3.0" stroke="#43b94e" stroke-width="1.2" fill="none"/>
<ellipse cx="136.2" cy="118" rx="1.9" ry="3.0" stroke="#43b94e" stroke-width="1.2" fill="none"/>
<ellipse cx="157.6" cy="137.6" rx="1.9" ry="3.0" stroke="#43b94e" stroke-width="1.2" fill="none"/>
<ellipse cx="180" cy="155" rx="1.9" ry="3.0" stroke="#43b94e" stroke-width="1.2" fill="none"/>
<ellipse cx="202" cy="172.4" rx="1.9" ry="3.0" stroke="#43b94e" stroke-width="1.2" fill="none"/>
<path d="M55.5,83.3L57.1,86.6L55.5,89.9L53.9,86.6Z" stroke="#d53030" stroke-width="1.1" fill="none"/>
<path d="M75.4,102.1L77,105.4L75.4,108.7L73.8,105.4Z" stroke="#d53030" stroke-width="1.1" fill="none"/>
<path d="M96,118.7L97.6,122L96,125.3L94.4,122Z" stroke="#d53030" stroke-width="1.1" fill="none"/>
<path d="M117,134.9L118.6,138.2L117,141.5L115.4,138.2Z" stroke="#d53030" stroke-width="1.1" fill="none"/>
<path d="M138,149.1L139.6,152.4L138,155.7L136.4,152.4Z" stroke="#d53030" stroke-width="1.1" fill="none"/>
<path d="M159.4,162.7L161,166L159.4,169.3L157.8,166Z" stroke="#d53030" stroke-width="1.1" fill="none"/>
<path d="M181.5,175.7L183.1,179L181.5,182.3L179.9,179Z" stroke="#d53030" stroke-width="1.1" fill="none"/>
<path d="M202.6,188.4L204.2,191.7L202.6,195L201,191.7Z" stroke="#d53030" stroke-width="1.1" fill="none"/>
<rect x="55" y="93.6" width="3.2" height="4.4" fill="#2cc9d1"/>
<rect x="73.8" y="115.4" width="3.2" height="4.4" fill="#2cc9d1"/>
<rect x="93.8" y="135.4" width="3.2" height="4.4" fill="#2cc9d1"/>
<rect x="114.8" y="152.2" width="3.2" height="4.4" fill="#2cc9d1"/>
<rect x="135.8" y="166.8" width="3.2" height="4.4" fill="#2cc9d1"/>
<rect x="157.4" y="180.2" width="3.2" height="4.4" fill="#2cc9d1"/>
<rect x="179" y="193.4" width="3.2" height="4.4" fill="#2cc9d1"/>
<rect x="201" y="205.1" width="3.2" height="4.4" fill="#2cc9d1"/>
<path d="M34.8,221h2.4M226.6,221h-2.4M34.8,203h2.4M226.6,203h-2.4M34.8,185h2.4M226.6,185h-2.4M34.8,167h2.4M226.6,167h-2.4M34.8,149h2.4M226.6,149h-2.4M34.8,131h2.4M226.6,131h-2.4M34.8,113h2.4M226.6,113h-2.4M34.8,95h2.4M226.6,95h-2.4M34.8,77h2.4M226.6,77h-2.4M34.8,59h2.4M226.6,59h-2.4M34.8,41h2.4M226.6,41h-2.4M34.8,23h2.4M226.6,23h-2.4M34.8,5h2.4M226.6,5h-2.4M35.9,221.3v-4M35.9,4.5v4M73.8,221.3v-4M73.8,4.5v4M111.7,221.3v-4M111.7,4.5v4M149.6,221.3v-4M149.6,4.5v4M187.5,221.3v-4M187.5,4.5v4M225.4,221.3v-4M225.4,4.5v4" stroke="#666" stroke-width="0.95" fill="none"/>
<rect x="34.8" y="4.5" width="191.8" height="216.8" fill="none" stroke="#333" stroke-width="1.15"/>
<text transform="translate(32.4,225.1) scale(0.57,1)" font-size="12.4" text-anchor="end">10</text>
<text transform="translate(32.4,207.1) scale(0.57,1)" font-size="12.4" text-anchor="end">20</text>
<text transform="translate(32.4,189.1) scale(0.57,1)" font-size="12.4" text-anchor="end">30</text>
<text transform="translate(32.4,171.1) scale(0.57,1)" font-size="12.4" text-anchor="end">40</text>
<text transform="translate(32.4,153.1) scale(0.57,1)" font-size="12.4" text-anchor="end">50</text>
<text transform="translate(32.4,135.1) scale(0.57,1)" font-size="12.4" text-anchor="end">60</text>
<text transform="translate(32.4,117.1) scale(0.57,1)" font-size="12.4" text-anchor="end">70</text>
<text transform="translate(32.4,99.1) scale(0.57,1)" font-size="12.4" text-anchor="end">80</text>
<text transform="translate(32.4,81.1) scale(0.57,1)" font-size="12.4" text-anchor="end">90</text>
<text transform="translate(32.4,63.1) scale(0.57,1)" font-size="12.4" text-anchor="end">100</text>
<text transform="translate(32.4,45.1) scale(0.57,1)" font-size="12.4" text-anchor="end">110</text>
<text transform="translate(32.4,27.1) scale(0.57,1)" font-size="12.4" text-anchor="end">120</text>
<text transform="translate(32.4,9.1) scale(0.57,1)" font-size="12.4" text-anchor="end">130</text>
<text transform="translate(35.9,235.6) scale(0.61,1)" font-size="12.4" text-anchor="middle">0</text>
<text transform="translate(73.8,235.6) scale(0.61,1)" font-size="12.4" text-anchor="middle">0.2</text>
<text transform="translate(111.7,235.6) scale(0.61,1)" font-size="12.4" text-anchor="middle">0.4</text>
<text transform="translate(149.6,235.6) scale(0.61,1)" font-size="12.4" text-anchor="middle">0.6</text>
<text transform="translate(187.5,235.6) scale(0.61,1)" font-size="12.4" text-anchor="middle">0.8</text>
<text transform="translate(225.4,235.6) scale(0.61,1)" font-size="12.4" text-anchor="middle">1</text>
<text transform="translate(130.65,246) scale(0.63,1)" font-size="11.5" text-anchor="middle" textLength="80.16" lengthAdjust="spacingAndGlyphs">z-coordinate (m)</text>
<text transform="translate(7.4,169) scale(0.68,1) rotate(-90)" font-size="11.7" font-weight="bold" style="stroke-width:0;fill:#262626" textLength="112" lengthAdjust="spacingAndGlyphs">Total enthalpy (kJ/kg)</text>
<rect x="148" y="14.5" width="72.5" height="75" fill="#fff" stroke="#333" stroke-width="1.1"/>
<path d="M149,90.5h72.5v-75" stroke="#888" stroke-width="1" fill="none"/>
<path d="M152,25.9h13" stroke="#2f47e6" stroke-width="1.2"/>
<path d="M155.5,25.9L161.5,25.9 M157,21.8L160,30 M157,30L160,21.8" stroke="#2f47e6" stroke-width="1.4" fill="none"/>
<text transform="translate(167.8,29.5) scale(0.63,1)" font-size="13" textLength="77.62" lengthAdjust="spacingAndGlyphs">E=75,000 J/mol</text>
<path d="M152,43.3h13" stroke="#43b94e" stroke-width="1.2"/>
<ellipse cx="158.5" cy="43.3" rx="1.9" ry="3.0" stroke="#43b94e" stroke-width="1.2" fill="none"/>
<text transform="translate(167.8,46.9) scale(0.63,1)" font-size="13" textLength="77.62" lengthAdjust="spacingAndGlyphs">E=77,000 J/mol</text>
<path d="M152,60.7h13" stroke="#d53030" stroke-width="1.2"/>
<path d="M158.5,57.4L160.1,60.7L158.5,64L156.9,60.7Z" stroke="#d53030" stroke-width="1.1" fill="none"/>
<text transform="translate(167.8,64.3) scale(0.63,1)" font-size="13" textLength="77.62" lengthAdjust="spacingAndGlyphs">E=79,000 J/mol</text>
<path d="M152,78.1h13" stroke="#2cc9d1" stroke-width="1.2"/>
<rect x="156.9" y="75.9" width="3.2" height="4.4" fill="#2cc9d1"/>
<text transform="translate(167.8,81.7) scale(0.63,1)" font-size="13" textLength="77.62" lengthAdjust="spacingAndGlyphs">E=80,000 J/mol</text>
<text transform="translate(201.5,119.2) scale(0.7,1)" font-size="17.8" font-weight="bold" text-anchor="middle" textLength="19.14" lengthAdjust="spacingAndGlyphs">(a)</text>
<path d="M264.8,121.8 265.05,120.15 265.3,118.31 265.55,116.3 265.8,114.13 266.05,111.82 266.3,109.38 266.55,106.81 266.8,104.14 267.05,101.37 267.3,98.51 267.55,95.59 267.8,92.42 268.05,88.74 268.3,84.75 268.55,80.69 268.8,76.75 269.05,73.18 269.3,70.14 269.55,67.32 269.8,64.62 270.05,62.03 270.3,59.55 270.55,57.17 270.8,54.88 271.05,52.68 271.3,50.56 271.55,48.51 271.8,46.54 272.05,44.62 272.3,42.82 272.55,41.13 272.8,39.52 273.05,37.97 273.3,36.45 273.55,34.93 273.8,33.39 274.05,31.79 274.3,30.12 274.55,28.36 274.8,26.56 275.05,24.76 275.3,23 275.55,21.32 275.8,19.67 276.05,17.94 276.3,16.21 276.55,14.59 276.8,13.18 277.05,12.07 277.3,11.34 277.55,10.75 277.8,10.22 278.05,9.76 278.3,9.37 278.55,9.04 278.8,8.77 279.05,8.56 279.3,8.38 279.55,8.2 279.8,8.04 280.05,7.88 280.3,7.73 280.55,7.59 280.8,7.46 281.05,7.35 281.3,7.25 281.55,7.17 281.8,7.1 282.05,7.05 282.3,7.01 282.55,7 282.8,7.01 283.05,7.03 283.3,7.06 283.55,7.11 283.8,7.17 284.05,7.24 284.3,7.33 284.55,7.42 284.8,7.53 285.05,7.64 285.3,7.76 285.55,7.89 285.8,8.02 286.05,8.16 286.3,8.3 286.55,8.45 286.8,8.6 287.05,8.77 287.3,8.99 287.55,9.24 287.8,9.53 288.05,9.85 288.3,10.19 288.55,10.55 288.8,10.92 289.05,11.31 289.3,11.71 289.55,12.1 289.8,12.49 290.05,12.88 290.3,13.25 290.55,13.62 290.8,13.98 291.05,14.35 291.3,14.73 291.55,15.11 291.8,15.5 292.05,15.89 292.3,16.28 292.55,16.67 292.8,17.07 293.05,17.47 293.3,17.88 293.55,18.28 293.8,18.69 294.05,19.1 294.3,19.51 294.55,19.92 294.8,20.33 295.05,20.75 295.3,21.17 295.55,21.59 295.8,22.02 296.05,22.46 296.3,22.89 296.55,23.32 296.8,23.76 297.05,24.19 297.3,24.63 297.55,25.06 297.8,25.49 298.05,25.91 298.3,26.33 298.55,26.75 298.8,27.17 299.05,27.58 299.3,27.99 299.55,28.4 299.8,28.81 300.05,29.22 300.3,29.63 300.55,30.04 300.8,30.44 301.05,30.85 301.3,31.25 301.55,31.66 301.8,32.06 302.05,32.46 302.3,32.86 302.55,33.26 302.8,33.66 303.05,34.06 303.3,34.46 303.55,34.86 303.8,35.26 304.05,35.66 304.3,36.06 304.55,36.46 304.8,36.86 305.05,37.26 305.3,37.66 305.55,38.06 305.8,38.46 306.05,38.86 306.3,39.26 306.55,39.66 306.8,40.06 307.05,40.46 307.3,40.87 307.55,41.27 307.8,41.68 308.05,42.08 308.3,42.49 308.55,42.9 308.8,43.31 309.05,43.72 309.3,44.13 309.55,44.54 309.8,44.95 310.05,45.37 310.3,45.78 310.55,46.2 310.8,46.61 311.05,47.03 311.3,47.45 311.55,47.86 311.8,48.28 312.05,48.7 312.3,49.12 312.55,49.53 312.8,49.95 313.05,50.37 313.3,50.79 313.55,51.2 313.8,51.62 314.05,52.04 314.3,52.46 314.55,52.87 314.8,53.29 315.05,53.7 315.3,54.12 315.55,54.53 315.8,54.94 316.05,55.35 316.3,55.76 316.55,56.17 316.8,56.58 317.05,56.99 317.3,57.39 317.55,57.8 317.8,58.2 318.05,58.6 318.3,59 318.55,59.4 318.8,59.8 319.05,60.19 319.3,60.59 319.55,60.98 319.8,61.37 320.05,61.76 320.3,62.14 320.55,62.52 320.8,62.9 321.05,63.29 321.3,63.67 321.55,64.04 321.8,64.42 322.05,64.8 322.3,65.18 322.55,65.56 322.8,65.93 323.05,66.31 323.3,66.68 323.55,67.06 323.8,67.43 324.05,67.81 324.3,68.18 324.55,68.55 324.8,68.92 325.05,69.29 325.3,69.66 325.55,70.03 325.8,70.4 326.05,70.77 326.3,71.14 326.55,71.5 326.8,71.87 327.05,72.24 327.3,72.6 327.55,72.97 327.8,73.33 328.05,73.69 328.3,74.06 328.55,74.42 328.8,74.78 329.05,75.14 329.3,75.5 329.55,75.86 329.8,76.22 330.05,76.58 330.3,76.94 330.55,77.29 330.8,77.65 331.05,78.01 331.3,78.36 331.55,78.72 331.8,79.07 332.05,79.43 332.3,79.78 332.55,80.13 332.8,80.48 333.05,80.83 333.3,81.18 333.55,81.53 333.8,81.88 334.05,82.23 334.3,82.58 334.55,82.93 334.8,83.27 335.05,83.62 335.3,83.97 335.55,84.31 335.8,84.65 336.05,85 336.3,85.34 336.55,85.68 336.8,86.03 337.05,86.37 337.3,86.71 337.55,87.05 337.8,87.39 338.05,87.72 338.3,88.06 338.55,88.4 338.8,88.74 339.05,89.07 339.3,89.41 339.55,89.74 339.8,90.08 340.05,90.41 340.3,90.74 340.55,91.08 340.8,91.41 341.05,91.74 341.3,92.07 341.55,92.4 341.8,92.73 342.05,93.06 342.3,93.39 342.55,93.71 342.8,94.04 343.05,94.37 343.3,94.69 343.55,95.02 343.8,95.34 344.05,95.66 344.3,95.99 344.55,96.31 344.8,96.63 345.05,96.96 345.3,97.28 345.55,97.6 345.8,97.92 346.05,98.24 346.3,98.56 346.55,98.88 346.8,99.2 347.05,99.52 347.3,99.84 347.55,100.16 347.8,100.47 348.05,100.79 348.3,101.11 348.55,101.43 348.8,101.74 349.05,102.06 349.3,102.37 349.55,102.69 349.8,103 350.05,103.32 350.3,103.63 350.55,103.95 350.8,104.26 351.05,104.57 351.3,104.88 351.55,105.19 351.8,105.51 352.05,105.82 352.3,106.13 352.55,106.44 352.8,106.74 353.05,107.05 353.3,107.36 353.55,107.67 353.8,107.98 354.05,108.28 354.3,108.59 354.55,108.89 354.8,109.2 355.05,109.5 355.3,109.81 355.55,110.11 355.8,110.41 356.05,110.71 356.3,111.02 356.55,111.32 356.8,111.62 357.05,111.92 357.3,112.22 357.55,112.51 357.8,112.81 358.05,113.11 358.3,113.41 358.55,113.7 358.8,114 359.05,114.29 359.3,114.59 359.55,114.88 359.8,115.17 360.05,115.47 360.3,115.76 360.55,116.05 360.8,116.34 361.05,116.63 361.3,116.92 361.55,117.21 361.8,117.5 362.05,117.78 362.3,118.07 362.55,118.35 362.8,118.64 363.05,118.92 363.3,119.21 363.55,119.49 363.8,119.77 364.05,120.05 364.3,120.33 364.55,120.61 364.8,120.89 365.05,121.17 365.3,121.45 365.55,121.73 365.8,122 366.05,122.28 366.3,122.55 366.55,122.83 366.8,123.1 367.05,123.37 367.3,123.64 367.55,123.92 367.8,124.19 368.05,124.45 368.3,124.72 368.55,124.99 368.8,125.26 369.05,125.52 369.3,125.79 369.55,126.05 369.8,126.32 370.05,126.58 370.3,126.84 370.55,127.1 370.8,127.36 371.05,127.62 371.3,127.88 371.55,128.14 371.8,128.4 372.05,128.66 372.3,128.92 372.55,129.17 372.8,129.43 373.05,129.68 373.3,129.94 373.55,130.19 373.8,130.44 374.05,130.7 374.3,130.95 374.55,131.2 374.8,131.45 375.05,131.7 375.3,131.95 375.55,132.2 375.8,132.45 376.05,132.7 376.3,132.95 376.55,133.19 376.8,133.44 377.05,133.68 377.3,133.93 377.55,134.18 377.8,134.42 378.05,134.66 378.3,134.91 378.55,135.15 378.8,135.39 379.05,135.63 379.3,135.87 379.55,136.12 379.8,136.36 380.05,136.6 380.3,136.83 380.55,137.07 380.8,137.31 381.05,137.55 381.3,137.79 381.55,138.02 381.8,138.26 382.05,138.5 382.3,138.73 382.55,138.97 382.8,139.2 383.05,139.44 383.3,139.67 383.55,139.91 383.8,140.14 384.05,140.37 384.3,140.6 384.55,140.84 384.8,141.07 385.05,141.3 385.3,141.53 385.55,141.76 385.8,141.99 386.05,142.22 386.3,142.45 386.55,142.68 386.8,142.91 387.05,143.14 387.3,143.36 387.55,143.59 387.8,143.82 388.05,144.05 388.3,144.27 388.55,144.5 388.8,144.72 389.05,144.95 389.3,145.18 389.55,145.4 389.8,145.63 390.05,145.85 390.3,146.07 390.55,146.3 390.8,146.52 391.05,146.75 391.3,146.97 391.55,147.19 391.8,147.42 392.05,147.64 392.3,147.86 392.55,148.08 392.8,148.3 393.05,148.53 393.3,148.75 393.55,148.97 393.8,149.19 394.05,149.41 394.3,149.63 394.55,149.85 394.8,150.07 395.05,150.29 395.3,150.51 395.55,150.73 395.8,150.95 396.05,151.17 396.3,151.39 396.55,151.61 396.8,151.83 397.05,152.04 397.3,152.26 397.55,152.48 397.8,152.7 398.05,152.91 398.3,153.13 398.55,153.35 398.8,153.56 399.05,153.78 399.3,153.99 399.55,154.21 399.8,154.42 400.05,154.64 400.3,154.85 400.55,155.06 400.8,155.27 401.05,155.49 401.3,155.7 401.55,155.91 401.8,156.12 402.05,156.33 402.3,156.54 402.55,156.75 402.8,156.96 403.05,157.17 403.3,157.38 403.55,157.59 403.8,157.8 404.05,158.01 404.3,158.21 404.55,158.42 404.8,158.63 405.05,158.84 405.3,159.04 405.55,159.25 405.8,159.46 406.05,159.66 406.3,159.87 406.55,160.07 406.8,160.28 407.05,160.48 407.3,160.69 407.55,160.89 407.8,161.09 408.05,161.3 408.3,161.5 408.55,161.7 408.8,161.91 409.05,162.11 409.3,162.31 409.55,162.51 409.8,162.72 410.05,162.92 410.3,163.12 410.55,163.32 410.8,163.52 411.05,163.72 411.3,163.92 411.55,164.13 411.8,164.33 412.05,164.53 412.3,164.73 412.55,164.93 412.8,165.13 413.05,165.33 413.3,165.52 413.55,165.72 413.8,165.92 414.05,166.12 414.3,166.32 414.55,166.52 414.8,166.72 415.05,166.92 415.3,167.11 415.55,167.31 415.8,167.51 416.05,167.71 416.3,167.91 416.55,168.1 416.8,168.3 417.05,168.5 417.3,168.7 417.55,168.89 417.8,169.09 418.05,169.29 418.3,169.49 418.55,169.68 418.8,169.88 419.05,170.08 419.3,170.27 419.55,170.47 419.8,170.67 420.05,170.86 420.3,171.06 420.55,171.26 420.8,171.45 421.05,171.65 421.3,171.85 421.55,172.04 421.8,172.24 422.05,172.44 422.3,172.63 422.55,172.83 422.8,173.03 423.05,173.22 423.3,173.42 423.55,173.62 423.8,173.81 424.05,174.01 424.3,174.21 424.55,174.4 424.8,174.6 425.05,174.8 425.3,175 425.55,175.2 425.8,175.41 426.05,175.62 426.3,175.84 426.55,176.05 426.8,176.27 427.05,176.49 427.3,176.72 427.55,176.94 427.8,177.17 428.05,177.4 428.3,177.64 428.55,177.87 428.8,178.11 429.05,178.35 429.3,178.59 429.55,178.83 429.8,179.07 430.05,179.32 430.3,179.56 430.55,179.81 430.8,180.06 431.05,180.31 431.3,180.56 431.55,180.81 431.8,181.06 432.05,181.31 432.3,181.56 432.55,181.82 432.8,182.07 433.05,182.33 433.3,182.58 433.55,182.83 433.8,183.09 434.05,183.34 434.3,183.6 434.55,183.85 434.8,184.1 435.05,184.36 435.3,184.61 435.55,184.86 435.8,185.11 436.05,185.36 436.3,185.61 436.55,185.86 436.8,186.11 437.05,186.35 437.3,186.6 437.55,186.84 437.8,187.08 438.05,187.32 438.3,187.56 438.55,187.79 438.8,188.03 439.05,188.26 439.3,188.49 439.55,188.72 439.8,188.94 440.05,189.16 440.3,189.39 440.55,189.6 440.8,189.82 441.05,190.03 441.3,190.24 441.55,190.45 441.8,190.65 442.05,190.85 442.3,191.05 442.55,191.24 442.8,191.43 443.05,191.62 443.3,191.8 443.55,191.98 443.8,192.16 444.05,192.33 444.3,192.5 444.55,192.66 444.8,192.82 445.05,192.98 445.3,193.13 445.55,193.27 445.8,193.42 446.05,193.55 446.3,193.69 446.55,193.81 446.8,193.94 447.05,194.05 447.3,194.17 447.55,194.27 447.8,194.37 448.05,194.47 448.3,194.56 448.55,194.65 448.8,194.73 449.05,194.8 449.3,194.87 449.55,194.93 449.8,194.99 450.05,195.04 450.3,195.08 450.55,195.12 450.8,195.15 451.05,195.17 451.3,195.19 451.55,195.2 451.8,195.2 452.05,195.17 452.3,195.1 452.55,195 452.8,194.88 453.05,194.77 453.2,194.7" stroke="#2f47e6" stroke-width="1.2" fill="none" stroke-linejoin="round"/>
<path d="M264.8,121.8 265.05,120.47 265.3,119.16 265.55,117.87 265.8,116.58 266.05,115.31 266.3,114.06 266.55,112.82 266.8,111.6 267.05,110.4 267.3,109.2 267.55,108.03 267.8,106.87 268.05,105.73 268.3,104.6 268.55,103.49 268.8,102.4 269.05,101.32 269.3,100.26 269.55,99.22 269.8,98.2 270.05,97.19 270.3,96.17 270.55,95.17 270.8,94.17 271.05,93.18 271.3,92.2 271.55,91.23 271.8,90.29 272.05,89.36 272.3,88.45 272.55,87.57 272.8,86.72 273.05,85.89 273.3,85.1 273.55,84.34 273.8,83.62 274.05,82.93 274.3,82.28 274.55,81.63 274.8,80.98 275.05,80.35 275.3,79.72 275.55,79.09 275.8,78.48 276.05,77.87 276.3,77.27 276.55,76.69 276.8,76.11 277.05,75.55 277.3,74.99 277.55,74.45 277.8,73.93 278.05,73.42 278.3,72.92 278.55,72.44 278.8,71.98 279.05,71.53 279.3,71.1 279.55,70.69 279.8,70.3 280.05,69.93 280.3,69.58 280.55,69.25 280.8,68.94 281.05,68.66 281.3,68.4 281.55,68.16 281.8,67.92 282.05,67.69 282.3,67.46 282.55,67.24 282.8,67.02 283.05,66.8 283.3,66.59 283.55,66.38 283.8,66.17 284.05,65.97 284.3,65.77 284.55,65.57 284.8,65.38 285.05,65.19 285.3,65.01 285.55,64.83 285.8,64.65 286.05,64.48 286.3,64.3 286.55,64.14 286.8,63.97 287.05,63.81 287.3,63.66 287.55,63.51 287.8,63.36 288.05,63.21 288.3,63.07 288.55,62.93 288.8,62.79 289.05,62.66 289.3,62.53 289.55,62.41 289.8,62.29 290.05,62.17 290.3,62.06 290.55,61.95 290.8,61.84 291.05,61.73 291.3,61.63 291.55,61.54 291.8,61.44 292.05,61.35 292.3,61.27 292.55,61.18 292.8,61.11 293.05,61.03 293.3,60.96 293.55,60.89 293.8,60.82 294.05,60.76 294.3,60.7 294.55,60.64 294.8,60.58 295.05,60.53 295.3,60.47 295.55,60.42 295.8,60.36 296.05,60.31 296.3,60.26 296.55,60.22 296.8,60.17 297.05,60.13 297.3,60.1 297.55,60.07 297.8,60.04 298.05,60.02 298.3,60.01 298.55,60 298.8,60 299.05,60.01 299.3,60.03 299.55,60.06 299.8,60.1 300.05,60.15 300.3,60.21 300.55,60.27 300.8,60.35 301.05,60.43 301.3,60.52 301.55,60.62 301.8,60.72 302.05,60.83 302.3,60.94 302.55,61.06 302.8,61.19 303.05,61.32 303.3,61.46 303.55,61.59 303.8,61.74 304.05,61.88 304.3,62.03 304.55,62.18 304.8,62.34 305.05,62.49 305.3,62.65 305.55,62.81 305.8,62.96 306.05,63.12 306.3,63.28 306.55,63.44 306.8,63.6 307.05,63.75 307.3,63.91 307.55,64.06 307.8,64.21 308.05,64.36 308.3,64.5 308.55,64.64 308.8,64.79 309.05,64.94 309.3,65.09 309.55,65.24 309.8,65.4 310.05,65.56 310.3,65.72 310.55,65.88 310.8,66.05 311.05,66.21 311.3,66.38 311.55,66.55 311.8,66.73 312.05,66.9 312.3,67.08 312.55,67.26 312.8,67.44 313.05,67.62 313.3,67.81 313.55,67.99 313.8,68.18 314.05,68.37 314.3,68.56 314.55,68.75 314.8,68.95 315.05,69.14 315.3,69.34 315.55,69.54 315.8,69.74 316.05,69.94 316.3,70.14 316.55,70.34 316.8,70.55 317.05,70.76 317.3,70.96 317.55,71.17 317.8,71.38 318.05,71.59 318.3,71.8 318.55,72.01 318.8,72.23 319.05,72.45 319.3,72.68 319.55,72.91 319.8,73.14 320.05,73.38 320.3,73.62 320.55,73.86 320.8,74.11 321.05,74.35 321.3,74.6 321.55,74.85 321.8,75.11 322.05,75.36 322.3,75.62 322.55,75.87 322.8,76.13 323.05,76.39 323.3,76.65 323.55,76.91 323.8,77.17 324.05,77.42 324.3,77.68 324.55,77.94 324.8,78.19 325.05,78.45 325.3,78.7 325.55,78.95 325.8,79.2 326.05,79.45 326.3,79.7 326.55,79.95 326.8,80.2 327.05,80.46 327.3,80.71 327.55,80.96 327.8,81.21 328.05,81.47 328.3,81.72 328.55,81.98 328.8,82.23 329.05,82.48 329.3,82.74 329.55,82.99 329.8,83.25 330.05,83.51 330.3,83.76 330.55,84.02 330.8,84.27 331.05,84.53 331.3,84.79 331.55,85.04 331.8,85.3 332.05,85.55 332.3,85.81 332.55,86.07 332.8,86.32 333.05,86.58 333.3,86.83 333.55,87.09 333.8,87.35 334.05,87.6 334.3,87.86 334.55,88.11 334.8,88.37 335.05,88.62 335.3,88.88 335.55,89.13 335.8,89.39 336.05,89.64 336.3,89.89 336.55,90.15 336.8,90.4 337.05,90.65 337.3,90.91 337.55,91.16 337.8,91.41 338.05,91.66 338.3,91.91 338.55,92.16 338.8,92.41 339.05,92.66 339.3,92.91 339.55,93.16 339.8,93.4 340.05,93.65 340.3,93.9 340.55,94.14 340.8,94.39 341.05,94.63 341.3,94.88 341.55,95.13 341.8,95.37 342.05,95.62 342.3,95.86 342.55,96.11 342.8,96.35 343.05,96.6 343.3,96.84 343.55,97.09 343.8,97.33 344.05,97.58 344.3,97.82 344.55,98.06 344.8,98.31 345.05,98.55 345.3,98.79 345.55,99.04 345.8,99.28 346.05,99.52 346.3,99.77 346.55,100.01 346.8,100.25 347.05,100.49 347.3,100.74 347.55,100.98 347.8,101.22 348.05,101.46 348.3,101.7 348.55,101.95 348.8,102.19 349.05,102.43 349.3,102.67 349.55,102.91 349.8,103.15 350.05,103.39 350.3,103.63 350.55,103.87 350.8,104.11 351.05,104.35 351.3,104.59 351.55,104.83 351.8,105.07 352.05,105.31 352.3,105.54 352.55,105.78 352.8,106.02 353.05,106.26 353.3,106.5 353.55,106.73 353.8,106.97 354.05,107.21 354.3,107.45 354.55,107.68 354.8,107.92 355.05,108.15 355.3,108.39 355.55,108.63 355.8,108.86 356.05,109.1 356.3,109.33 356.55,109.57 356.8,109.8 357.05,110.04 357.3,110.27 357.55,110.51 357.8,110.74 358.05,110.97 358.3,111.21 358.55,111.44 358.8,111.67 359.05,111.91 359.3,112.14 359.55,112.37 359.8,112.6 360.05,112.83 360.3,113.07 360.55,113.3 360.8,113.53 361.05,113.76 361.3,113.99 361.55,114.22 361.8,114.45 362.05,114.68 362.3,114.91 362.55,115.14 362.8,115.37 363.05,115.59 363.3,115.82 363.55,116.05 363.8,116.28 364.05,116.5 364.3,116.73 364.55,116.96 364.8,117.18 365.05,117.41 365.3,117.63 365.55,117.86 365.8,118.08 366.05,118.31 366.3,118.53 366.55,118.75 366.8,118.98 367.05,119.2 367.3,119.42 367.55,119.65 367.8,119.87 368.05,120.09 368.3,120.31 368.55,120.53 368.8,120.75 369.05,120.98 369.3,121.2 369.55,121.42 369.8,121.64 370.05,121.86 370.3,122.08 370.55,122.3 370.8,122.52 371.05,122.74 371.3,122.96 371.55,123.18 371.8,123.39 372.05,123.61 372.3,123.83 372.55,124.05 372.8,124.27 373.05,124.49 373.3,124.71 373.55,124.92 373.8,125.14 374.05,125.36 374.3,125.58 374.55,125.8 374.8,126.01 375.05,126.23 375.3,126.45 375.55,126.67 375.8,126.88 376.05,127.1 376.3,127.32 376.55,127.54 376.8,127.75 377.05,127.97 377.3,128.19 377.55,128.41 377.8,128.62 378.05,128.84 378.3,129.06 378.55,129.28 378.8,129.49 379.05,129.71 379.3,129.93 379.55,130.15 379.8,130.37 380.05,130.58 380.3,130.8 380.55,131.02 380.8,131.24 381.05,131.46 381.3,131.68 381.55,131.89 381.8,132.11 382.05,132.33 382.3,132.55 382.55,132.77 382.8,132.99 383.05,133.21 383.3,133.43 383.55,133.65 383.8,133.87 384.05,134.09 384.3,134.31 384.55,134.53 384.8,134.75 385.05,134.98 385.3,135.2 385.55,135.42 385.8,135.64 386.05,135.87 386.3,136.09 386.55,136.31 386.8,136.54 387.05,136.76 387.3,136.98 387.55,137.21 387.8,137.43 388.05,137.66 388.3,137.88 388.55,138.11 388.8,138.33 389.05,138.56 389.3,138.78 389.55,139.01 389.8,139.24 390.05,139.46 390.3,139.69 390.55,139.92 390.8,140.14 391.05,140.37 391.3,140.59 391.55,140.82 391.8,141.05 392.05,141.27 392.3,141.5 392.55,141.73 392.8,141.95 393.05,142.18 393.3,142.41 393.55,142.63 393.8,142.86 394.05,143.09 394.3,143.31 394.55,143.54 394.8,143.76 395.05,143.99 395.3,144.22 395.55,144.44 395.8,144.67 396.05,144.89 396.3,145.12 396.55,145.34 396.8,145.57 397.05,145.79 397.3,146.01 397.55,146.24 397.8,146.46 398.05,146.69 398.3,146.91 398.55,147.13 398.8,147.35 399.05,147.58 399.3,147.8 399.55,148.02 399.8,148.24 400.05,148.46 400.3,148.68 400.55,148.9 400.8,149.12 401.05,149.34 401.3,149.56 401.55,149.78 401.8,149.99 402.05,150.21 402.3,150.43 402.55,150.64 402.8,150.86 403.05,151.08 403.3,151.29 403.55,151.5 403.8,151.72 404.05,151.93 404.3,152.14 404.55,152.36 404.8,152.57 405.05,152.78 405.3,152.99 405.55,153.2 405.8,153.41 406.05,153.62 406.3,153.82 406.55,154.03 406.8,154.24 407.05,154.44 407.3,154.65 407.55,154.85 407.8,155.05 408.05,155.26 408.3,155.46 408.55,155.66 408.8,155.86 409.05,156.06 409.3,156.26 409.55,156.46 409.8,156.66 410.05,156.86 410.3,157.06 410.55,157.26 410.8,157.46 411.05,157.65 411.3,157.85 411.55,158.05 411.8,158.24 412.05,158.44 412.3,158.63 412.55,158.83 412.8,159.02 413.05,159.21 413.3,159.41 413.55,159.6 413.8,159.79 414.05,159.99 414.3,160.18 414.55,160.37 414.8,160.56 415.05,160.75 415.3,160.94 415.55,161.13 415.8,161.32 416.05,161.51 416.3,161.7 416.55,161.89 416.8,162.08 417.05,162.27 417.3,162.46 417.55,162.65 417.8,162.84 418.05,163.03 418.3,163.22 418.55,163.4 418.8,163.59 419.05,163.78 419.3,163.97 419.55,164.15 419.8,164.34 420.05,164.53 420.3,164.72 420.55,164.9 420.8,165.09 421.05,165.28 421.3,165.46 421.55,165.65 421.8,165.84 422.05,166.02 422.3,166.21 422.55,166.4 422.8,166.58 423.05,166.77 423.3,166.96 423.55,167.14 423.8,167.33 424.05,167.52 424.3,167.7 424.55,167.89 424.8,168.08 425.05,168.26 425.3,168.45 425.55,168.64 425.8,168.83 426.05,169.01 426.3,169.2 426.55,169.39 426.8,169.58 427.05,169.77 427.3,169.95 427.55,170.14 427.8,170.33 428.05,170.52 428.3,170.71 428.55,170.9 428.8,171.09 429.05,171.28 429.3,171.47 429.55,171.66 429.8,171.85 430.05,172.04 430.3,172.23 430.55,172.43 430.8,172.63 431.05,172.84 431.3,173.05 431.55,173.26 431.8,173.48 432.05,173.7 432.3,173.92 432.55,174.15 432.8,174.37 433.05,174.61 433.3,174.84 433.55,175.08 433.8,175.31 434.05,175.56 434.3,175.8 434.55,176.04 434.8,176.29 435.05,176.54 435.3,176.78 435.55,177.03 435.8,177.28 436.05,177.54 436.3,177.79 436.55,178.04 436.8,178.3 437.05,178.55 437.3,178.8 437.55,179.06 437.8,179.31 438.05,179.56 438.3,179.82 438.55,180.07 438.8,180.32 439.05,180.57 439.3,180.82 439.55,181.07 439.8,181.31 440.05,181.56 440.3,181.8 440.55,182.04 440.8,182.28 441.05,182.52 441.3,182.76 441.55,182.99 441.8,183.22 442.05,183.45 442.3,183.67 442.55,183.89 442.8,184.11 443.05,184.33 443.3,184.54 443.55,184.75 443.8,184.95 444.05,185.15 444.3,185.35 444.55,185.54 444.8,185.73 445.05,185.91 445.3,186.09 445.55,186.26 445.8,186.43 446.05,186.6 446.3,186.76 446.55,186.91 446.8,187.06 447.05,187.2 447.3,187.33 447.55,187.46 447.8,187.59 448.05,187.7 448.3,187.81 448.55,187.92 448.8,188.02 449.05,188.11 449.3,188.19 449.55,188.26 449.8,188.33 450.05,188.39 450.3,188.45 450.55,188.49 450.8,188.53 451.05,188.56 451.3,188.58 451.55,188.6 451.8,188.6 452.05,188.57 452.3,188.5 452.55,188.4 452.8,188.29 453.05,188.17 453.2,188.1" stroke="#43b94e" stroke-width="1.2" fill="none" stroke-linejoin="round"/>
<path d="M264.8,121.8 265.05,121.08 265.3,120.38 265.55,119.68 265.8,119.01 266.05,118.34 266.3,117.7 266.55,117.07 266.8,116.45 267.05,115.86 267.3,115.29 267.55,114.73 267.8,114.2 268.05,113.69 268.3,113.2 268.55,112.74 268.8,112.3 269.05,111.89 269.3,111.5 269.55,111.13 269.8,110.77 270.05,110.42 270.3,110.08 270.55,109.75 270.8,109.43 271.05,109.12 271.3,108.83 271.55,108.55 271.8,108.28 272.05,108.03 272.3,107.78 272.55,107.56 272.8,107.35 273.05,107.15 273.3,106.97 273.55,106.8 273.8,106.63 274.05,106.47 274.3,106.3 274.55,106.14 274.8,105.97 275.05,105.82 275.3,105.66 275.55,105.52 275.8,105.38 276.05,105.24 276.3,105.12 276.55,105 276.8,104.89 277.05,104.8 277.3,104.71 277.55,104.64 277.8,104.58 278.05,104.54 278.3,104.51 278.55,104.5 278.8,104.5 279.05,104.51 279.3,104.53 279.55,104.56 279.8,104.59 280.05,104.63 280.3,104.68 280.55,104.73 280.8,104.78 281.05,104.84 281.3,104.9 281.55,104.96 281.8,105.03 282.05,105.1 282.3,105.16 282.55,105.23 282.8,105.3 283.05,105.37 283.3,105.45 283.55,105.53 283.8,105.63 284.05,105.73 284.3,105.83 284.55,105.94 284.8,106.06 285.05,106.18 285.3,106.31 285.55,106.44 285.8,106.58 286.05,106.72 286.3,106.86 286.55,107.01 286.8,107.16 287.05,107.32 287.3,107.47 287.55,107.63 287.8,107.8 288.05,107.96 288.3,108.13 288.55,108.29 288.8,108.46 289.05,108.63 289.3,108.8 289.55,108.97 289.8,109.14 290.05,109.31 290.3,109.48 290.55,109.64 290.8,109.81 291.05,109.97 291.3,110.14 291.55,110.3 291.8,110.46 292.05,110.61 292.3,110.76 292.55,110.91 292.8,111.06 293.05,111.2 293.3,111.35 293.55,111.49 293.8,111.64 294.05,111.78 294.3,111.93 294.55,112.07 294.8,112.22 295.05,112.37 295.3,112.51 295.55,112.66 295.8,112.8 296.05,112.95 296.3,113.09 296.55,113.24 296.8,113.38 297.05,113.53 297.3,113.68 297.55,113.82 297.8,113.97 298.05,114.11 298.3,114.26 298.55,114.41 298.8,114.55 299.05,114.7 299.3,114.85 299.55,114.99 299.8,115.14 300.05,115.28 300.3,115.43 300.55,115.58 300.8,115.72 301.05,115.87 301.3,116.02 301.55,116.16 301.8,116.31 302.05,116.46 302.3,116.6 302.55,116.75 302.8,116.9 303.05,117.04 303.3,117.19 303.55,117.34 303.8,117.48 304.05,117.63 304.3,117.78 304.55,117.92 304.8,118.07 305.05,118.22 305.3,118.37 305.55,118.51 305.8,118.66 306.05,118.81 306.3,118.96 306.55,119.11 306.8,119.25 307.05,119.4 307.3,119.55 307.55,119.7 307.8,119.85 308.05,120 308.3,120.15 308.55,120.3 308.8,120.44 309.05,120.59 309.3,120.74 309.55,120.89 309.8,121.04 310.05,121.19 310.3,121.34 310.55,121.49 310.8,121.64 311.05,121.79 311.3,121.94 311.55,122.09 311.8,122.24 312.05,122.39 312.3,122.54 312.55,122.69 312.8,122.84 313.05,122.99 313.3,123.14 313.55,123.29 313.8,123.44 314.05,123.58 314.3,123.73 314.55,123.88 314.8,124.03 315.05,124.18 315.3,124.33 315.55,124.48 315.8,124.63 316.05,124.78 316.3,124.93 316.55,125.08 316.8,125.22 317.05,125.37 317.3,125.52 317.55,125.67 317.8,125.82 318.05,125.97 318.3,126.11 318.55,126.26 318.8,126.41 319.05,126.56 319.3,126.7 319.55,126.85 319.8,127 320.05,127.14 320.3,127.29 320.55,127.44 320.8,127.58 321.05,127.73 321.3,127.87 321.55,128.02 321.8,128.16 322.05,128.31 322.3,128.45 322.55,128.6 322.8,128.74 323.05,128.89 323.3,129.03 323.55,129.17 323.8,129.32 324.05,129.46 324.3,129.6 324.55,129.74 324.8,129.89 325.05,130.03 325.3,130.17 325.55,130.31 325.8,130.45 326.05,130.59 326.3,130.73 326.55,130.87 326.8,131.01 327.05,131.15 327.3,131.29 327.55,131.43 327.8,131.57 328.05,131.71 328.3,131.85 328.55,131.99 328.8,132.13 329.05,132.27 329.3,132.41 329.55,132.55 329.8,132.68 330.05,132.82 330.3,132.96 330.55,133.1 330.8,133.24 331.05,133.37 331.3,133.51 331.55,133.65 331.8,133.79 332.05,133.92 332.3,134.06 332.55,134.2 332.8,134.33 333.05,134.47 333.3,134.61 333.55,134.74 333.8,134.88 334.05,135.01 334.3,135.15 334.55,135.29 334.8,135.42 335.05,135.56 335.3,135.69 335.55,135.83 335.8,135.96 336.05,136.1 336.3,136.23 336.55,136.37 336.8,136.5 337.05,136.64 337.3,136.77 337.55,136.91 337.8,137.04 338.05,137.18 338.3,137.31 338.55,137.44 338.8,137.58 339.05,137.71 339.3,137.85 339.55,137.98 339.8,138.12 340.05,138.25 340.3,138.38 340.55,138.52 340.8,138.65 341.05,138.79 341.3,138.92 341.55,139.05 341.8,139.19 342.05,139.32 342.3,139.45 342.55,139.59 342.8,139.72 343.05,139.86 343.3,139.99 343.55,140.12 343.8,140.26 344.05,140.39 344.3,140.52 344.55,140.66 344.8,140.79 345.05,140.92 345.3,141.06 345.55,141.19 345.8,141.33 346.05,141.46 346.3,141.59 346.55,141.73 346.8,141.86 347.05,141.99 347.3,142.13 347.55,142.26 347.8,142.39 348.05,142.52 348.3,142.66 348.55,142.79 348.8,142.92 349.05,143.05 349.3,143.18 349.55,143.32 349.8,143.45 350.05,143.58 350.3,143.71 350.55,143.84 350.8,143.97 351.05,144.1 351.3,144.23 351.55,144.36 351.8,144.49 352.05,144.62 352.3,144.75 352.55,144.88 352.8,145.01 353.05,145.14 353.3,145.27 353.55,145.4 353.8,145.53 354.05,145.66 354.3,145.79 354.55,145.92 354.8,146.05 355.05,146.18 355.3,146.31 355.55,146.44 355.8,146.57 356.05,146.7 356.3,146.83 356.55,146.96 356.8,147.09 357.05,147.22 357.3,147.35 357.55,147.48 357.8,147.61 358.05,147.74 358.3,147.87 358.55,148 358.8,148.13 359.05,148.26 359.3,148.39 359.55,148.52 359.8,148.65 360.05,148.78 360.3,148.91 360.55,149.04 360.8,149.17 361.05,149.3 361.3,149.43 361.55,149.56 361.8,149.69 362.05,149.82 362.3,149.95 362.55,150.09 362.8,150.22 363.05,150.35 363.3,150.48 363.55,150.61 363.8,150.75 364.05,150.88 364.3,151.01 364.55,151.14 364.8,151.28 365.05,151.41 365.3,151.54 365.55,151.68 365.8,151.81 366.05,151.95 366.3,152.08 366.55,152.21 366.8,152.35 367.05,152.48 367.3,152.62 367.55,152.76 367.8,152.89 368.05,153.03 368.3,153.16 368.55,153.3 368.8,153.44 369.05,153.57 369.3,153.71 369.55,153.85 369.8,153.99 370.05,154.13 370.3,154.26 370.55,154.4 370.8,154.54 371.05,154.68 371.3,154.82 371.55,154.96 371.8,155.1 372.05,155.24 372.3,155.38 372.55,155.52 372.8,155.66 373.05,155.8 373.3,155.94 373.55,156.08 373.8,156.22 374.05,156.36 374.3,156.51 374.55,156.65 374.8,156.79 375.05,156.93 375.3,157.07 375.55,157.21 375.8,157.36 376.05,157.5 376.3,157.64 376.55,157.78 376.8,157.93 377.05,158.07 377.3,158.21 377.55,158.35 377.8,158.5 378.05,158.64 378.3,158.78 378.55,158.92 378.8,159.07 379.05,159.21 379.3,159.35 379.55,159.5 379.8,159.64 380.05,159.78 380.3,159.93 380.55,160.07 380.8,160.21 381.05,160.36 381.3,160.5 381.55,160.64 381.8,160.79 382.05,160.93 382.3,161.07 382.55,161.22 382.8,161.36 383.05,161.5 383.3,161.65 383.55,161.79 383.8,161.93 384.05,162.08 384.3,162.22 384.55,162.36 384.8,162.5 385.05,162.65 385.3,162.79 385.55,162.93 385.8,163.07 386.05,163.22 386.3,163.36 386.55,163.5 386.8,163.64 387.05,163.78 387.3,163.93 387.55,164.07 387.8,164.21 388.05,164.35 388.3,164.49 388.55,164.63 388.8,164.77 389.05,164.92 389.3,165.06 389.55,165.2 389.8,165.34 390.05,165.48 390.3,165.62 390.55,165.76 390.8,165.9 391.05,166.04 391.3,166.18 391.55,166.32 391.8,166.46 392.05,166.61 392.3,166.75 392.55,166.89 392.8,167.03 393.05,167.17 393.3,167.31 393.55,167.45 393.8,167.59 394.05,167.73 394.3,167.87 394.55,168.01 394.8,168.16 395.05,168.3 395.3,168.44 395.55,168.58 395.8,168.72 396.05,168.86 396.3,169 396.55,169.14 396.8,169.28 397.05,169.42 397.3,169.56 397.55,169.71 397.8,169.85 398.05,169.99 398.3,170.13 398.55,170.27 398.8,170.41 399.05,170.55 399.3,170.69 399.55,170.83 399.8,170.97 400.05,171.11 400.3,171.25 400.55,171.39 400.8,171.53 401.05,171.67 401.3,171.81 401.55,171.95 401.8,172.09 402.05,172.23 402.3,172.37 402.55,172.51 402.8,172.65 403.05,172.79 403.3,172.93 403.55,173.07 403.8,173.21 404.05,173.35 404.3,173.49 404.55,173.63 404.8,173.77 405.05,173.9 405.3,174.04 405.55,174.18 405.8,174.32 406.05,174.46 406.3,174.6 406.55,174.74 406.8,174.87 407.05,175.01 407.3,175.15 407.55,175.29 407.8,175.43 408.05,175.56 408.3,175.7 408.55,175.84 408.8,175.98 409.05,176.12 409.3,176.25 409.55,176.39 409.8,176.53 410.05,176.66 410.3,176.8 410.55,176.94 410.8,177.07 411.05,177.21 411.3,177.34 411.55,177.48 411.8,177.62 412.05,177.75 412.3,177.88 412.55,178.02 412.8,178.15 413.05,178.29 413.3,178.42 413.55,178.56 413.8,178.69 414.05,178.82 414.3,178.96 414.55,179.09 414.8,179.22 415.05,179.35 415.3,179.49 415.55,179.62 415.8,179.75 416.05,179.88 416.3,180.02 416.55,180.15 416.8,180.28 417.05,180.41 417.3,180.54 417.55,180.67 417.8,180.81 418.05,180.94 418.3,181.07 418.55,181.2 418.8,181.33 419.05,181.46 419.3,181.59 419.55,181.73 419.8,181.86 420.05,181.99 420.3,182.12 420.55,182.25 420.8,182.38 421.05,182.51 421.3,182.64 421.55,182.78 421.8,182.91 422.05,183.04 422.3,183.17 422.55,183.3 422.8,183.43 423.05,183.57 423.3,183.7 423.55,183.83 423.8,183.96 424.05,184.09 424.3,184.23 424.55,184.36 424.8,184.49 425.05,184.62 425.3,184.76 425.55,184.89 425.8,185.02 426.05,185.16 426.3,185.29 426.55,185.42 426.8,185.56 427.05,185.69 427.3,185.83 427.55,185.96 427.8,186.09 428.05,186.23 428.3,186.37 428.55,186.5 428.8,186.64 429.05,186.77 429.3,186.91 429.55,187.05 429.8,187.18 430.05,187.32 430.3,187.46 430.55,187.59 430.8,187.73 431.05,187.87 431.3,188.01 431.55,188.15 431.8,188.29 432.05,188.43 432.3,188.57 432.55,188.72 432.8,188.87 433.05,189.02 433.3,189.18 433.55,189.34 433.8,189.5 434.05,189.67 434.3,189.84 434.55,190.01 434.8,190.19 435.05,190.36 435.3,190.54 435.55,190.72 435.8,190.91 436.05,191.09 436.3,191.28 436.55,191.47 436.8,191.66 437.05,191.85 437.3,192.04 437.55,192.23 437.8,192.43 438.05,192.62 438.3,192.81 438.55,193.01 438.8,193.2 439.05,193.4 439.3,193.6 439.55,193.79 439.8,193.98 440.05,194.18 440.3,194.37 440.55,194.57 440.8,194.76 441.05,194.95 441.3,195.14 441.55,195.32 441.8,195.51 442.05,195.7 442.3,195.88 442.55,196.06 442.8,196.24 443.05,196.41 443.3,196.59 443.55,196.76 443.8,196.93 444.05,197.09 444.3,197.26 444.55,197.41 444.8,197.57 445.05,197.72 445.3,197.87 445.55,198.02 445.8,198.16 446.05,198.3 446.3,198.43 446.55,198.56 446.8,198.68 447.05,198.8 447.3,198.92 447.55,199.03 447.8,199.13 448.05,199.23 448.3,199.33 448.55,199.41 448.8,199.5 449.05,199.57 449.3,199.65 449.55,199.71 449.8,199.77 450.05,199.82 450.3,199.87 450.55,199.91 450.8,199.94 451.05,199.97 451.3,199.99 451.55,200 451.8,200 452.05,199.97 452.3,199.9 452.55,199.8 452.8,199.68 453.05,199.57 453.2,199.5" stroke="#d53030" stroke-width="1.2" fill="none" stroke-linejoin="round"/>
<path d="M264.8,121.8 265.05,121.44 265.3,121.09 265.55,120.74 265.8,120.39 266.05,120.05 266.3,119.72 266.55,119.39 266.8,119.06 267.05,118.74 267.3,118.43 267.55,118.12 267.8,117.83 268.05,117.53 268.3,117.25 268.55,116.97 268.8,116.71 269.05,116.45 269.3,116.2 269.55,115.95 269.8,115.7 270.05,115.44 270.3,115.17 270.55,114.9 270.8,114.64 271.05,114.37 271.3,114.1 271.55,113.84 271.8,113.58 272.05,113.33 272.3,113.09 272.55,112.85 272.8,112.63 273.05,112.42 273.3,112.22 273.55,112.04 273.8,111.87 274.05,111.72 274.3,111.6 274.55,111.49 274.8,111.4 275.05,111.34 275.3,111.31 275.55,111.3 275.8,111.31 276.05,111.33 276.3,111.36 276.55,111.4 276.8,111.45 277.05,111.51 277.3,111.58 277.55,111.66 277.8,111.75 278.05,111.84 278.3,111.94 278.55,112.04 278.8,112.15 279.05,112.27 279.3,112.39 279.55,112.51 279.8,112.63 280.05,112.76 280.3,112.89 280.55,113.02 280.8,113.15 281.05,113.31 281.3,113.5 281.55,113.71 281.8,113.94 282.05,114.18 282.3,114.44 282.55,114.71 282.8,114.99 283.05,115.27 283.3,115.55 283.55,115.83 283.8,116.1 284.05,116.36 284.3,116.61 284.55,116.84 284.8,117.07 285.05,117.3 285.3,117.52 285.55,117.75 285.8,117.97 286.05,118.2 286.3,118.42 286.55,118.64 286.8,118.86 287.05,119.08 287.3,119.3 287.55,119.52 287.8,119.73 288.05,119.95 288.3,120.17 288.55,120.38 288.8,120.59 289.05,120.81 289.3,121.02 289.55,121.24 289.8,121.45 290.05,121.66 290.3,121.88 290.55,122.09 290.8,122.3 291.05,122.52 291.3,122.73 291.55,122.94 291.8,123.16 292.05,123.37 292.3,123.59 292.55,123.8 292.8,124.01 293.05,124.23 293.3,124.44 293.55,124.66 293.8,124.87 294.05,125.08 294.3,125.3 294.55,125.51 294.8,125.72 295.05,125.94 295.3,126.15 295.55,126.36 295.8,126.58 296.05,126.79 296.3,127 296.55,127.21 296.8,127.42 297.05,127.64 297.3,127.85 297.55,128.06 297.8,128.27 298.05,128.48 298.3,128.69 298.55,128.9 298.8,129.11 299.05,129.32 299.3,129.54 299.55,129.75 299.8,129.96 300.05,130.17 300.3,130.38 300.55,130.59 300.8,130.8 301.05,131.01 301.3,131.21 301.55,131.42 301.8,131.63 302.05,131.84 302.3,132.05 302.55,132.26 302.8,132.47 303.05,132.68 303.3,132.88 303.55,133.09 303.8,133.3 304.05,133.51 304.3,133.72 304.55,133.92 304.8,134.13 305.05,134.34 305.3,134.55 305.55,134.76 305.8,134.97 306.05,135.18 306.3,135.39 306.55,135.6 306.8,135.81 307.05,136.03 307.3,136.24 307.55,136.45 307.8,136.66 308.05,136.88 308.3,137.09 308.55,137.3 308.8,137.51 309.05,137.73 309.3,137.94 309.55,138.15 309.8,138.37 310.05,138.58 310.3,138.8 310.55,139.01 310.8,139.22 311.05,139.44 311.3,139.65 311.55,139.86 311.8,140.08 312.05,140.29 312.3,140.5 312.55,140.72 312.8,140.93 313.05,141.14 313.3,141.35 313.55,141.56 313.8,141.78 314.05,141.99 314.3,142.2 314.55,142.41 314.8,142.62 315.05,142.83 315.3,143.04 315.55,143.25 315.8,143.45 316.05,143.66 316.3,143.87 316.55,144.08 316.8,144.28 317.05,144.49 317.3,144.69 317.55,144.9 317.8,145.1 318.05,145.31 318.3,145.51 318.55,145.71 318.8,145.91 319.05,146.11 319.3,146.31 319.55,146.51 319.8,146.71 320.05,146.9 320.3,147.1 320.55,147.3 320.8,147.49 321.05,147.68 321.3,147.88 321.55,148.07 321.8,148.26 322.05,148.45 322.3,148.64 322.55,148.82 322.8,149.01 323.05,149.2 323.3,149.38 323.55,149.56 323.8,149.74 324.05,149.92 324.3,150.1 324.55,150.28 324.8,150.46 325.05,150.64 325.3,150.81 325.55,150.98 325.8,151.16 326.05,151.33 326.3,151.5 326.55,151.67 326.8,151.84 327.05,152.01 327.3,152.17 327.55,152.34 327.8,152.51 328.05,152.67 328.3,152.84 328.55,153 328.8,153.16 329.05,153.33 329.3,153.49 329.55,153.65 329.8,153.81 330.05,153.97 330.3,154.13 330.55,154.29 330.8,154.44 331.05,154.6 331.3,154.76 331.55,154.91 331.8,155.07 332.05,155.22 332.3,155.38 332.55,155.53 332.8,155.69 333.05,155.84 333.3,155.99 333.55,156.14 333.8,156.3 334.05,156.45 334.3,156.6 334.55,156.75 334.8,156.9 335.05,157.05 335.3,157.2 335.55,157.35 335.8,157.5 336.05,157.65 336.3,157.79 336.55,157.94 336.8,158.09 337.05,158.24 337.3,158.38 337.55,158.53 337.8,158.68 338.05,158.83 338.3,158.97 338.55,159.12 338.8,159.27 339.05,159.41 339.3,159.56 339.55,159.7 339.8,159.85 340.05,160 340.3,160.14 340.55,160.29 340.8,160.44 341.05,160.58 341.3,160.73 341.55,160.87 341.8,161.02 342.05,161.17 342.3,161.31 342.55,161.46 342.8,161.61 343.05,161.75 343.3,161.9 343.55,162.05 343.8,162.19 344.05,162.34 344.3,162.49 344.55,162.64 344.8,162.78 345.05,162.93 345.3,163.08 345.55,163.23 345.8,163.38 346.05,163.53 346.3,163.68 346.55,163.83 346.8,163.98 347.05,164.13 347.3,164.28 347.55,164.43 347.8,164.58 348.05,164.73 348.3,164.88 348.55,165.03 348.8,165.17 349.05,165.32 349.3,165.47 349.55,165.62 349.8,165.77 350.05,165.92 350.3,166.07 350.55,166.22 350.8,166.37 351.05,166.52 351.3,166.66 351.55,166.81 351.8,166.96 352.05,167.11 352.3,167.26 352.55,167.41 352.8,167.55 353.05,167.7 353.3,167.85 353.55,168 353.8,168.15 354.05,168.29 354.3,168.44 354.55,168.59 354.8,168.74 355.05,168.88 355.3,169.03 355.55,169.18 355.8,169.33 356.05,169.47 356.3,169.62 356.55,169.77 356.8,169.91 357.05,170.06 357.3,170.21 357.55,170.35 357.8,170.5 358.05,170.64 358.3,170.79 358.55,170.94 358.8,171.08 359.05,171.23 359.3,171.37 359.55,171.52 359.8,171.66 360.05,171.81 360.3,171.95 360.55,172.1 360.8,172.24 361.05,172.39 361.3,172.53 361.55,172.67 361.8,172.82 362.05,172.96 362.3,173.11 362.55,173.25 362.8,173.39 363.05,173.54 363.3,173.68 363.55,173.82 363.8,173.96 364.05,174.11 364.3,174.25 364.55,174.39 364.8,174.53 365.05,174.68 365.3,174.82 365.55,174.96 365.8,175.1 366.05,175.24 366.3,175.38 366.55,175.52 366.8,175.66 367.05,175.8 367.3,175.94 367.55,176.08 367.8,176.22 368.05,176.36 368.3,176.5 368.55,176.64 368.8,176.78 369.05,176.92 369.3,177.06 369.55,177.2 369.8,177.34 370.05,177.48 370.3,177.61 370.55,177.75 370.8,177.89 371.05,178.03 371.3,178.17 371.55,178.31 371.8,178.44 372.05,178.58 372.3,178.72 372.55,178.86 372.8,178.99 373.05,179.13 373.3,179.27 373.55,179.4 373.8,179.54 374.05,179.68 374.3,179.81 374.55,179.95 374.8,180.09 375.05,180.22 375.3,180.36 375.55,180.49 375.8,180.63 376.05,180.76 376.3,180.9 376.55,181.04 376.8,181.17 377.05,181.31 377.3,181.44 377.55,181.58 377.8,181.71 378.05,181.84 378.3,181.98 378.55,182.11 378.8,182.25 379.05,182.38 379.3,182.51 379.55,182.65 379.8,182.78 380.05,182.92 380.3,183.05 380.55,183.18 380.8,183.31 381.05,183.45 381.3,183.58 381.55,183.71 381.8,183.85 382.05,183.98 382.3,184.11 382.55,184.24 382.8,184.37 383.05,184.51 383.3,184.64 383.55,184.77 383.8,184.9 384.05,185.03 384.3,185.16 384.55,185.29 384.8,185.43 385.05,185.56 385.3,185.69 385.55,185.82 385.8,185.95 386.05,186.08 386.3,186.21 386.55,186.34 386.8,186.47 387.05,186.6 387.3,186.73 387.55,186.86 387.8,186.99 388.05,187.12 388.3,187.25 388.55,187.37 388.8,187.5 389.05,187.63 389.3,187.76 389.55,187.89 389.8,188.02 390.05,188.14 390.3,188.27 390.55,188.4 390.8,188.53 391.05,188.65 391.3,188.78 391.55,188.91 391.8,189.03 392.05,189.16 392.3,189.29 392.55,189.41 392.8,189.54 393.05,189.66 393.3,189.79 393.55,189.91 393.8,190.04 394.05,190.16 394.3,190.29 394.55,190.41 394.8,190.54 395.05,190.66 395.3,190.79 395.55,190.91 395.8,191.03 396.05,191.16 396.3,191.28 396.55,191.41 396.8,191.53 397.05,191.65 397.3,191.78 397.55,191.9 397.8,192.02 398.05,192.15 398.3,192.27 398.55,192.39 398.8,192.52 399.05,192.64 399.3,192.76 399.55,192.88 399.8,193.01 400.05,193.13 400.3,193.25 400.55,193.37 400.8,193.5 401.05,193.62 401.3,193.74 401.55,193.86 401.8,193.98 402.05,194.11 402.3,194.23 402.55,194.35 402.8,194.47 403.05,194.6 403.3,194.72 403.55,194.84 403.8,194.96 404.05,195.08 404.3,195.21 404.55,195.33 404.8,195.45 405.05,195.57 405.3,195.69 405.55,195.82 405.8,195.94 406.05,196.06 406.3,196.18 406.55,196.31 406.8,196.43 407.05,196.55 407.3,196.67 407.55,196.8 407.8,196.92 408.05,197.04 408.3,197.16 408.55,197.29 408.8,197.41 409.05,197.53 409.3,197.66 409.55,197.78 409.8,197.9 410.05,198.02 410.3,198.15 410.55,198.27 410.8,198.39 411.05,198.52 411.3,198.64 411.55,198.76 411.8,198.89 412.05,199.01 412.3,199.13 412.55,199.25 412.8,199.38 413.05,199.5 413.3,199.62 413.55,199.74 413.8,199.87 414.05,199.99 414.3,200.11 414.55,200.23 414.8,200.36 415.05,200.48 415.3,200.6 415.55,200.72 415.8,200.84 416.05,200.97 416.3,201.09 416.55,201.21 416.8,201.33 417.05,201.45 417.3,201.58 417.55,201.7 417.8,201.82 418.05,201.94 418.3,202.06 418.55,202.19 418.8,202.31 419.05,202.43 419.3,202.55 419.55,202.67 419.8,202.8 420.05,202.92 420.3,203.04 420.55,203.16 420.8,203.28 421.05,203.41 421.3,203.53 421.55,203.65 421.8,203.77 422.05,203.89 422.3,204.02 422.55,204.14 422.8,204.26 423.05,204.38 423.3,204.5 423.55,204.63 423.8,204.75 424.05,204.87 424.3,204.99 424.55,205.12 424.8,205.24 425.05,205.36 425.3,205.48 425.55,205.61 425.8,205.73 426.05,205.85 426.3,205.98 426.55,206.1 426.8,206.22 427.05,206.35 427.3,206.47 427.55,206.59 427.8,206.71 428.05,206.84 428.3,206.96 428.55,207.09 428.8,207.21 429.05,207.33 429.3,207.46 429.55,207.58 429.8,207.7 430.05,207.83 430.3,207.95 430.55,208.08 430.8,208.2 431.05,208.33 431.3,208.45 431.55,208.58 431.8,208.7 432.05,208.83 432.3,208.96 432.55,209.1 432.8,209.23 433.05,209.38 433.3,209.52 433.55,209.66 433.8,209.81 434.05,209.96 434.3,210.11 434.55,210.27 434.8,210.42 435.05,210.58 435.3,210.74 435.55,210.9 435.8,211.06 436.05,211.23 436.3,211.39 436.55,211.56 436.8,211.72 437.05,211.89 437.3,212.06 437.55,212.23 437.8,212.4 438.05,212.57 438.3,212.74 438.55,212.9 438.8,213.07 439.05,213.24 439.3,213.41 439.55,213.58 439.8,213.75 440.05,213.91 440.3,214.08 440.55,214.24 440.8,214.41 441.05,214.57 441.3,214.73 441.55,214.89 441.8,215.05 442.05,215.21 442.3,215.36 442.55,215.51 442.8,215.67 443.05,215.81 443.3,215.96 443.55,216.1 443.8,216.25 444.05,216.38 444.3,216.52 444.55,216.65 444.8,216.78 445.05,216.91 445.3,217.03 445.55,217.15 445.8,217.27 446.05,217.38 446.3,217.49 446.55,217.6 446.8,217.7 447.05,217.8 447.3,217.89 447.55,217.98 447.8,218.06 448.05,218.14 448.3,218.22 448.55,218.29 448.8,218.35 449.05,218.41 449.3,218.46 449.55,218.51 449.8,218.56 450.05,218.6 450.3,218.63 450.55,218.65 450.8,218.68 451.05,218.69 451.3,218.7 451.55,218.7 451.8,218.67 452.05,218.6 452.3,218.5 452.55,218.38 452.8,218.25 453.05,218.12 453.3,218" stroke="#2cc9d1" stroke-width="1.2" fill="none" stroke-linejoin="round"/>
<path d="M266.5,71.3L272.5,71.3 M268,67.2L271,75.4 M268,75.4L271,67.2" stroke="#2f47e6" stroke-width="1.4" fill="none"/>
<path d="M272.6,21L278.6,21 M274.1,16.9L277.1,25.1 M274.1,25.1L277.1,16.9" stroke="#2f47e6" stroke-width="1.4" fill="none"/>
<path d="M295.4,26.5L301.4,26.5 M296.9,22.4L299.9,30.6 M296.9,30.6L299.9,22.4" stroke="#2f47e6" stroke-width="1.4" fill="none"/>
<path d="M317.6,62.6L323.6,62.6 M319.1,58.5L322.1,66.7 M319.1,66.7L322.1,58.5" stroke="#2f47e6" stroke-width="1.4" fill="none"/>
<path d="M341,95.6L347,95.6 M342.5,91.5L345.5,99.7 M342.5,99.7L345.5,91.5" stroke="#2f47e6" stroke-width="1.4" fill="none"/>
<path d="M366.5,126L372.5,126 M368,121.9L371,130.1 M368,130.1L371,121.9" stroke="#2f47e6" stroke-width="1.4" fill="none"/>
<path d="M394,152L400,152 M395.5,147.9L398.5,156.1 M395.5,156.1L398.5,147.9" stroke="#2f47e6" stroke-width="1.4" fill="none"/>
<path d="M421.8,174.6L427.8,174.6 M423.3,170.5L426.3,178.7 M423.3,178.7L426.3,170.5" stroke="#2f47e6" stroke-width="1.4" fill="none"/>
<ellipse cx="274.1" cy="82.8" rx="1.9" ry="3.0" stroke="#43b94e" stroke-width="1.2" fill="none"/>
<ellipse cx="294.3" cy="60.7" rx="1.9" ry="3.0" stroke="#43b94e" stroke-width="1.2" fill="none"/>
<ellipse cx="318.3" cy="71.8" rx="1.9" ry="3.0" stroke="#43b94e" stroke-width="1.2" fill="none"/>
<ellipse cx="340" cy="93.6" rx="1.9" ry="3.0" stroke="#43b94e" stroke-width="1.2" fill="none"/>
<ellipse cx="362.4" cy="115" rx="1.9" ry="3.0" stroke="#43b94e" stroke-width="1.2" fill="none"/>
<ellipse cx="384.4" cy="134.4" rx="1.9" ry="3.0" stroke="#43b94e" stroke-width="1.2" fill="none"/>
<ellipse cx="407" cy="154.4" rx="1.9" ry="3.0" stroke="#43b94e" stroke-width="1.2" fill="none"/>
<ellipse cx="430" cy="172" rx="1.9" ry="3.0" stroke="#43b94e" stroke-width="1.2" fill="none"/>
<path d="M282.8,102L284.4,105.3L282.8,108.6L281.2,105.3Z" stroke="#d53030" stroke-width="1.1" fill="none"/>
<path d="M304,114.3L305.6,117.6L304,120.9L302.4,117.6Z" stroke="#d53030" stroke-width="1.1" fill="none"/>
<path d="M325,126.7L326.6,130L325,133.3L323.4,130Z" stroke="#d53030" stroke-width="1.1" fill="none"/>
<path d="M346.5,138.4L348.1,141.7L346.5,145L344.9,141.7Z" stroke="#d53030" stroke-width="1.1" fill="none"/>
<path d="M368,149.7L369.6,153L368,156.3L366.4,153Z" stroke="#d53030" stroke-width="1.1" fill="none"/>
<path d="M389.2,161.7L390.8,165L389.2,168.3L387.6,165Z" stroke="#d53030" stroke-width="1.1" fill="none"/>
<path d="M410.3,173.5L411.9,176.8L410.3,180.1L408.7,176.8Z" stroke="#d53030" stroke-width="1.1" fill="none"/>
<path d="M432,185.1L433.6,188.4L432,191.7L430.4,188.4Z" stroke="#d53030" stroke-width="1.1" fill="none"/>
<rect x="282.8" y="114.5" width="3.2" height="4.4" fill="#2cc9d1"/>
<rect x="302.8" y="131.6" width="3.2" height="4.4" fill="#2cc9d1"/>
<rect x="323.4" y="148.4" width="3.2" height="4.4" fill="#2cc9d1"/>
<rect x="344.4" y="161.3" width="3.2" height="4.4" fill="#2cc9d1"/>
<rect x="365.8" y="173.8" width="3.2" height="4.4" fill="#2cc9d1"/>
<rect x="387" y="185.2" width="3.2" height="4.4" fill="#2cc9d1"/>
<rect x="408.4" y="195.8" width="3.2" height="4.4" fill="#2cc9d1"/>
<rect x="430" y="206.4" width="3.2" height="4.4" fill="#2cc9d1"/>
<path d="M263.6,217.86h2.4M455.1,217.86h-2.4M263.6,201.64h2.4M455.1,201.64h-2.4M263.6,185.42h2.4M455.1,185.42h-2.4M263.6,169.2h2.4M455.1,169.2h-2.4M263.6,152.98h2.4M455.1,152.98h-2.4M263.6,136.76h2.4M455.1,136.76h-2.4M263.6,120.54h2.4M455.1,120.54h-2.4M263.6,104.32h2.4M455.1,104.32h-2.4M263.6,88.1h2.4M455.1,88.1h-2.4M263.6,71.88h2.4M455.1,71.88h-2.4M263.6,55.66h2.4M455.1,55.66h-2.4M263.6,39.44h2.4M455.1,39.44h-2.4M263.6,23.22h2.4M455.1,23.22h-2.4M263.6,7h2.4M455.1,7h-2.4M264.8,221.3v-4M264.8,4.5v4M302.54,221.3v-4M302.54,4.5v4M340.28,221.3v-4M340.28,4.5v4M378.02,221.3v-4M378.02,4.5v4M415.76,221.3v-4M415.76,4.5v4M453.5,221.3v-4M453.5,4.5v4" stroke="#666" stroke-width="0.95" fill="none"/>
<rect x="263.6" y="4.5" width="191.5" height="216.8" fill="none" stroke="#333" stroke-width="1.15"/>
<text transform="translate(260.8,221.96) scale(0.57,1)" font-size="12.4" text-anchor="end">20</text>
<text transform="translate(260.8,205.74) scale(0.57,1)" font-size="12.4" text-anchor="end">30</text>
<text transform="translate(260.8,189.52) scale(0.57,1)" font-size="12.4" text-anchor="end">40</text>
<text transform="translate(260.8,173.3) scale(0.57,1)" font-size="12.4" text-anchor="end">50</text>
<text transform="translate(260.8,157.08) scale(0.57,1)" font-size="12.4" text-anchor="end">60</text>
<text transform="translate(260.8,140.86) scale(0.57,1)" font-size="12.4" text-anchor="end">70</text>
<text transform="translate(260.8,124.64) scale(0.57,1)" font-size="12.4" text-anchor="end">80</text>
<text transform="translate(260.8,108.42) scale(0.57,1)" font-size="12.4" text-anchor="end">90</text>
<text transform="translate(260.8,92.2) scale(0.57,1)" font-size="12.4" text-anchor="end">100</text>
<text transform="translate(260.8,75.98) scale(0.57,1)" font-size="12.4" text-anchor="end">110</text>
<text transform="translate(260.8,59.76) scale(0.57,1)" font-size="12.4" text-anchor="end">120</text>
<text transform="translate(260.8,43.54) scale(0.57,1)" font-size="12.4" text-anchor="end">130</text>
<text transform="translate(260.8,27.32) scale(0.57,1)" font-size="12.4" text-anchor="end">140</text>
<text transform="translate(260.8,11.1) scale(0.57,1)" font-size="12.4" text-anchor="end">150</text>
<text transform="translate(264.8,235.6) scale(0.61,1)" font-size="12.4" text-anchor="middle">0</text>
<text transform="translate(302.54,235.6) scale(0.61,1)" font-size="12.4" text-anchor="middle">0.2</text>
<text transform="translate(340.28,235.6) scale(0.61,1)" font-size="12.4" text-anchor="middle">0.4</text>
<text transform="translate(378.02,235.6) scale(0.61,1)" font-size="12.4" text-anchor="middle">0.6</text>
<text transform="translate(415.76,235.6) scale(0.61,1)" font-size="12.4" text-anchor="middle">0.8</text>
<text transform="translate(453.5,235.6) scale(0.61,1)" font-size="12.4" text-anchor="middle">1</text>
<text transform="translate(359.15,246) scale(0.63,1)" font-size="11.5" text-anchor="middle" textLength="80.16" lengthAdjust="spacingAndGlyphs">z-coordinate (m)</text>
<text transform="translate(236,169) scale(0.68,1) rotate(-90)" font-size="11.7" font-weight="bold" style="stroke-width:0;fill:#262626" textLength="112" lengthAdjust="spacingAndGlyphs">Total enthalpy (kJ/kg)</text>
<rect x="377" y="12.5" width="72.5" height="75" fill="#fff" stroke="#333" stroke-width="1.1"/>
<path d="M378,88.5h72.5v-75" stroke="#888" stroke-width="1" fill="none"/>
<path d="M381,23.9h13" stroke="#2f47e6" stroke-width="1.2"/>
<path d="M384.5,23.9L390.5,23.9 M386,19.8L389,28 M386,28L389,19.8" stroke="#2f47e6" stroke-width="1.4" fill="none"/>
<text transform="translate(396.8,27.5) scale(0.63,1)" font-size="13" textLength="77.62" lengthAdjust="spacingAndGlyphs">E=75,000 J/mol</text>
<path d="M381,41.3h13" stroke="#43b94e" stroke-width="1.2"/>
<ellipse cx="387.5" cy="41.3" rx="1.9" ry="3.0" stroke="#43b94e" stroke-width="1.2" fill="none"/>
<text transform="translate(396.8,44.9) scale(0.63,1)" font-size="13" textLength="77.62" lengthAdjust="spacingAndGlyphs">E=77,000 J/mol</text>
<path d="M381,58.7h13" stroke="#d53030" stroke-width="1.2"/>
<path d="M387.5,55.4L389.1,58.7L387.5,62L385.9,58.7Z" stroke="#d53030" stroke-width="1.1" fill="none"/>
<text transform="translate(396.8,62.3) scale(0.63,1)" font-size="13" textLength="77.62" lengthAdjust="spacingAndGlyphs">E=79,000 J/mol</text>
<path d="M381,76.1h13" stroke="#2cc9d1" stroke-width="1.2"/>
<rect x="385.9" y="73.9" width="3.2" height="4.4" fill="#2cc9d1"/>
<text transform="translate(396.8,79.7) scale(0.63,1)" font-size="13" textLength="77.62" lengthAdjust="spacingAndGlyphs">E=80,000 J/mol</text>
<text transform="translate(410.75,119.2) scale(0.7,1)" font-size="17.8" font-weight="bold" text-anchor="middle" textLength="20.14" lengthAdjust="spacingAndGlyphs">(b)</text>
<path d="M493.8,145 494.05,141.57 494.3,138.11 494.55,134.62 494.8,131.1 495.05,127.56 495.3,123.98 495.55,120.38 495.8,116.76 496.05,113.11 496.3,109.44 496.55,105.74 496.8,102.02 497.05,98.28 497.3,94.52 497.55,90.74 497.8,86.75 498.05,82.55 498.3,78.22 498.55,73.85 498.8,69.51 499.05,65.31 499.3,61.31 499.55,57.62 499.8,54.31 500.05,51.47 500.3,49.03 500.55,46.88 500.8,44.9 501.05,43.02 501.3,41.14 501.55,39.16 501.8,37 502.05,34.57 502.3,31.96 502.55,29.32 502.8,26.81 503.05,24.58 503.3,22.49 503.55,20.53 503.8,18.78 504.05,17.33 504.3,16.02 504.55,14.75 504.8,13.58 505.05,12.52 505.3,11.62 505.55,10.9 505.8,10.4 506.05,10.03 506.3,9.67 506.55,9.33 506.8,9.01 507.05,8.71 507.3,8.43 507.55,8.17 507.8,7.94 508.05,7.73 508.3,7.54 508.55,7.38 508.8,7.24 509.05,7.14 509.3,7.06 509.55,7.02 509.8,7 510.05,7.01 510.3,7.04 510.55,7.08 510.8,7.15 511.05,7.22 511.3,7.31 511.55,7.42 511.8,7.53 512.05,7.66 512.3,7.79 512.55,7.94 512.8,8.09 513.05,8.24 513.3,8.4 513.55,8.57 513.8,8.75 514.05,8.97 514.3,9.24 514.55,9.54 514.8,9.87 515.05,10.23 515.3,10.61 515.55,11.01 515.8,11.43 516.05,11.85 516.3,12.28 516.55,12.71 516.8,13.16 517.05,13.65 517.3,14.18 517.55,14.74 517.8,15.32 518.05,15.92 518.3,16.52 518.55,17.11 518.8,17.7 519.05,18.26 519.3,18.8 519.55,19.3 519.8,19.78 520.05,20.25 520.3,20.71 520.55,21.16 520.8,21.61 521.05,22.05 521.3,22.49 521.55,22.91 521.8,23.34 522.05,23.76 522.3,24.17 522.55,24.58 522.8,24.99 523.05,25.39 523.3,25.79 523.55,26.19 523.8,26.59 524.05,26.98 524.3,27.38 524.55,27.77 524.8,28.17 525.05,28.57 525.3,28.96 525.55,29.36 525.8,29.76 526.05,30.17 526.3,30.58 526.55,30.99 526.8,31.4 527.05,31.82 527.3,32.23 527.55,32.65 527.8,33.06 528.05,33.48 528.3,33.89 528.55,34.3 528.8,34.72 529.05,35.13 529.3,35.54 529.55,35.95 529.8,36.37 530.05,36.78 530.3,37.19 530.55,37.6 530.8,38.01 531.05,38.42 531.3,38.83 531.55,39.25 531.8,39.66 532.05,40.07 532.3,40.48 532.55,40.89 532.8,41.31 533.05,41.72 533.3,42.13 533.55,42.55 533.8,42.96 534.05,43.37 534.3,43.79 534.55,44.2 534.8,44.62 535.05,45.03 535.3,45.45 535.55,45.87 535.8,46.29 536.05,46.7 536.3,47.12 536.55,47.54 536.8,47.97 537.05,48.39 537.3,48.81 537.55,49.23 537.8,49.66 538.05,50.09 538.3,50.51 538.55,50.95 538.8,51.38 539.05,51.82 539.3,52.27 539.55,52.71 539.8,53.15 540.05,53.6 540.3,54.04 540.55,54.48 540.8,54.93 541.05,55.37 541.3,55.8 541.55,56.23 541.8,56.66 542.05,57.09 542.3,57.51 542.55,57.92 542.8,58.33 543.05,58.73 543.3,59.14 543.55,59.55 543.8,59.95 544.05,60.35 544.3,60.76 544.55,61.16 544.8,61.56 545.05,61.96 545.3,62.36 545.55,62.76 545.8,63.16 546.05,63.56 546.3,63.96 546.55,64.35 546.8,64.75 547.05,65.15 547.3,65.54 547.55,65.93 547.8,66.33 548.05,66.72 548.3,67.11 548.55,67.5 548.8,67.89 549.05,68.28 549.3,68.67 549.55,69.06 549.8,69.44 550.05,69.83 550.3,70.21 550.55,70.6 550.8,70.98 551.05,71.37 551.3,71.75 551.55,72.13 551.8,72.51 552.05,72.89 552.3,73.27 552.55,73.65 552.8,74.03 553.05,74.4 553.3,74.78 553.55,75.16 553.8,75.53 554.05,75.91 554.3,76.28 554.55,76.65 554.8,77.02 555.05,77.4 555.3,77.77 555.55,78.14 555.8,78.5 556.05,78.87 556.3,79.24 556.55,79.61 556.8,79.97 557.05,80.34 557.3,80.7 557.55,81.07 557.8,81.43 558.05,81.79 558.3,82.15 558.55,82.51 558.8,82.87 559.05,83.23 559.3,83.59 559.55,83.95 559.8,84.31 560.05,84.66 560.3,85.02 560.55,85.37 560.8,85.73 561.05,86.08 561.3,86.43 561.55,86.79 561.8,87.14 562.05,87.49 562.3,87.84 562.55,88.18 562.8,88.53 563.05,88.88 563.3,89.23 563.55,89.57 563.8,89.92 564.05,90.26 564.3,90.61 564.55,90.95 564.8,91.29 565.05,91.63 565.3,91.97 565.55,92.31 565.8,92.65 566.05,92.99 566.3,93.33 566.55,93.66 566.8,94 567.05,94.34 567.3,94.67 567.55,95.01 567.8,95.34 568.05,95.67 568.3,96.01 568.55,96.34 568.8,96.67 569.05,97 569.3,97.33 569.55,97.66 569.8,97.99 570.05,98.32 570.3,98.65 570.55,98.98 570.8,99.31 571.05,99.64 571.3,99.96 571.55,100.29 571.8,100.62 572.05,100.94 572.3,101.27 572.55,101.59 572.8,101.91 573.05,102.24 573.3,102.56 573.55,102.88 573.8,103.2 574.05,103.53 574.3,103.85 574.55,104.17 574.8,104.49 575.05,104.8 575.3,105.12 575.55,105.44 575.8,105.76 576.05,106.07 576.3,106.39 576.55,106.7 576.8,107.02 577.05,107.33 577.3,107.65 577.55,107.96 577.8,108.27 578.05,108.59 578.3,108.9 578.55,109.21 578.8,109.52 579.05,109.83 579.3,110.14 579.55,110.44 579.8,110.75 580.05,111.06 580.3,111.36 580.55,111.67 580.8,111.98 581.05,112.28 581.3,112.58 581.55,112.89 581.8,113.19 582.05,113.49 582.3,113.79 582.55,114.09 582.8,114.39 583.05,114.69 583.3,114.99 583.55,115.29 583.8,115.59 584.05,115.88 584.3,116.18 584.55,116.48 584.8,116.77 585.05,117.06 585.3,117.36 585.55,117.65 585.8,117.94 586.05,118.23 586.3,118.53 586.55,118.82 586.8,119.1 587.05,119.39 587.3,119.68 587.55,119.97 587.8,120.26 588.05,120.54 588.3,120.83 588.55,121.11 588.8,121.39 589.05,121.68 589.3,121.96 589.55,122.24 589.8,122.52 590.05,122.8 590.3,123.08 590.55,123.36 590.8,123.64 591.05,123.92 591.3,124.19 591.55,124.47 591.8,124.74 592.05,125.02 592.3,125.29 592.55,125.56 592.8,125.83 593.05,126.11 593.3,126.38 593.55,126.65 593.8,126.92 594.05,127.18 594.3,127.45 594.55,127.72 594.8,127.98 595.05,128.25 595.3,128.51 595.55,128.78 595.8,129.04 596.05,129.3 596.3,129.57 596.55,129.83 596.8,130.09 597.05,130.35 597.3,130.61 597.55,130.87 597.8,131.12 598.05,131.38 598.3,131.64 598.55,131.89 598.8,132.15 599.05,132.41 599.3,132.66 599.55,132.91 599.8,133.17 600.05,133.42 600.3,133.67 600.55,133.92 600.8,134.17 601.05,134.42 601.3,134.67 601.55,134.92 601.8,135.17 602.05,135.42 602.3,135.67 602.55,135.92 602.8,136.16 603.05,136.41 603.3,136.65 603.55,136.9 603.8,137.14 604.05,137.39 604.3,137.63 604.55,137.87 604.8,138.12 605.05,138.36 605.3,138.6 605.55,138.84 605.8,139.08 606.05,139.32 606.3,139.56 606.55,139.8 606.8,140.04 607.05,140.28 607.3,140.52 607.55,140.76 607.8,140.99 608.05,141.23 608.3,141.47 608.55,141.7 608.8,141.94 609.05,142.18 609.3,142.41 609.55,142.65 609.8,142.88 610.05,143.11 610.3,143.35 610.55,143.58 610.8,143.81 611.05,144.05 611.3,144.28 611.55,144.51 611.8,144.74 612.05,144.97 612.3,145.21 612.55,145.44 612.8,145.67 613.05,145.9 613.3,146.13 613.55,146.36 613.8,146.59 614.05,146.82 614.3,147.04 614.55,147.27 614.8,147.5 615.05,147.73 615.3,147.96 615.55,148.19 615.8,148.41 616.05,148.64 616.3,148.87 616.55,149.09 616.8,149.32 617.05,149.55 617.3,149.77 617.55,150 617.8,150.23 618.05,150.45 618.3,150.68 618.55,150.9 618.8,151.13 619.05,151.35 619.3,151.58 619.55,151.8 619.8,152.03 620.05,152.25 620.3,152.48 620.55,152.7 620.8,152.92 621.05,153.15 621.3,153.37 621.55,153.6 621.8,153.82 622.05,154.04 622.3,154.27 622.55,154.49 622.8,154.71 623.05,154.94 623.3,155.16 623.55,155.38 623.8,155.6 624.05,155.83 624.3,156.05 624.55,156.27 624.8,156.49 625.05,156.71 625.3,156.93 625.55,157.15 625.8,157.37 626.05,157.59 626.3,157.81 626.55,158.03 626.8,158.25 627.05,158.46 627.3,158.68 627.55,158.9 627.8,159.12 628.05,159.34 628.3,159.55 628.55,159.77 628.8,159.99 629.05,160.2 629.3,160.42 629.55,160.63 629.8,160.85 630.05,161.07 630.3,161.28 630.55,161.5 630.8,161.71 631.05,161.92 631.3,162.14 631.55,162.35 631.8,162.57 632.05,162.78 632.3,162.99 632.55,163.21 632.8,163.42 633.05,163.63 633.3,163.84 633.55,164.05 633.8,164.27 634.05,164.48 634.3,164.69 634.55,164.9 634.8,165.11 635.05,165.32 635.3,165.53 635.55,165.74 635.8,165.95 636.05,166.16 636.3,166.37 636.55,166.58 636.8,166.79 637.05,167 637.3,167.2 637.55,167.41 637.8,167.62 638.05,167.83 638.3,168.04 638.55,168.24 638.8,168.45 639.05,168.66 639.3,168.86 639.55,169.07 639.8,169.27 640.05,169.48 640.3,169.69 640.55,169.89 640.8,170.1 641.05,170.3 641.3,170.51 641.55,170.71 641.8,170.91 642.05,171.12 642.3,171.32 642.55,171.53 642.8,171.73 643.05,171.93 643.3,172.14 643.55,172.34 643.8,172.54 644.05,172.74 644.3,172.95 644.55,173.15 644.8,173.35 645.05,173.55 645.3,173.75 645.55,173.95 645.8,174.15 646.05,174.35 646.3,174.55 646.55,174.76 646.8,174.96 647.05,175.15 647.3,175.35 647.55,175.55 647.8,175.75 648.05,175.95 648.3,176.15 648.55,176.35 648.8,176.55 649.05,176.75 649.3,176.94 649.55,177.14 649.8,177.34 650.05,177.54 650.3,177.73 650.55,177.93 650.8,178.13 651.05,178.32 651.3,178.52 651.55,178.72 651.8,178.92 652.05,179.12 652.3,179.32 652.55,179.53 652.8,179.74 653.05,179.95 653.3,180.17 653.55,180.38 653.8,180.6 654.05,180.82 654.3,181.04 654.55,181.27 654.8,181.49 655.05,181.72 655.3,181.95 655.55,182.18 655.8,182.42 656.05,182.65 656.3,182.89 656.55,183.12 656.8,183.36 657.05,183.6 657.3,183.84 657.55,184.08 657.8,184.32 658.05,184.56 658.3,184.81 658.55,185.05 658.8,185.3 659.05,185.54 659.3,185.79 659.55,186.03 659.8,186.28 660.05,186.53 660.3,186.77 660.55,187.02 660.8,187.27 661.05,187.51 661.3,187.76 661.55,188.01 661.8,188.25 662.05,188.5 662.3,188.74 662.55,188.99 662.8,189.23 663.05,189.48 663.3,189.72 663.55,189.96 663.8,190.2 664.05,190.44 664.3,190.68 664.55,190.92 664.8,191.15 665.05,191.39 665.3,191.62 665.55,191.85 665.8,192.08 666.05,192.31 666.3,192.54 666.55,192.76 666.8,192.99 667.05,193.21 667.3,193.43 667.55,193.65 667.8,193.86 668.05,194.07 668.3,194.29 668.55,194.49 668.8,194.7 669.05,194.9 669.3,195.1 669.55,195.3 669.8,195.5 670.05,195.69 670.3,195.88 670.55,196.07 670.8,196.25 671.05,196.43 671.3,196.61 671.55,196.78 671.8,196.95 672.05,197.12 672.3,197.28 672.55,197.44 672.8,197.6 673.05,197.75 673.3,197.9 673.55,198.04 673.8,198.19 674.05,198.32 674.3,198.45 674.55,198.58 674.8,198.71 675.05,198.83 675.3,198.94 675.55,199.05 675.8,199.16 676.05,199.26 676.3,199.36 676.55,199.45 676.8,199.54 677.05,199.62 677.3,199.69 677.55,199.77 677.8,199.83 678.05,199.89 678.3,199.95 678.55,200 678.8,200.05 679.05,200.09 679.3,200.12 679.55,200.15 679.8,200.17 680.05,200.19 680.3,200.2 680.55,200.2 680.8,200.17 681.05,200.05 681.3,199.87 681.55,199.68 681.8,199.5" stroke="#2f47e6" stroke-width="1.2" fill="none" stroke-linejoin="round"/>
<path d="M493.8,145 494.05,143.28 494.3,141.59 494.55,139.92 494.8,138.28 495.05,136.66 495.3,135.08 495.55,133.51 495.8,131.97 496.05,130.46 496.3,128.98 496.55,127.51 496.8,126.08 497.05,124.67 497.3,123.29 497.55,121.93 497.8,120.59 498.05,119.28 498.3,118 498.55,116.74 498.8,115.51 499.05,114.32 499.3,113.16 499.55,112.04 499.8,110.95 500.05,109.88 500.3,108.83 500.55,107.79 500.8,106.77 501.05,105.75 501.3,104.73 501.55,103.71 501.8,102.67 502.05,101.63 502.3,100.57 502.55,99.5 502.8,98.43 503.05,97.36 503.3,96.29 503.55,95.24 503.8,94.19 504.05,93.15 504.3,92.13 504.55,91.14 504.8,90.17 505.05,89.23 505.3,88.32 505.55,87.45 505.8,86.61 506.05,85.83 506.3,85.08 506.55,84.38 506.8,83.7 507.05,83.02 507.3,82.35 507.55,81.69 507.8,81.04 508.05,80.4 508.3,79.76 508.55,79.14 508.8,78.53 509.05,77.92 509.3,77.33 509.55,76.75 509.8,76.17 510.05,75.61 510.3,75.05 510.55,74.51 510.8,73.98 511.05,73.46 511.3,72.94 511.55,72.44 511.8,71.95 512.05,71.47 512.3,71 512.55,70.54 512.8,70.1 513.05,69.66 513.3,69.24 513.55,68.82 513.8,68.42 514.05,68.03 514.3,67.65 514.55,67.29 514.8,66.93 515.05,66.59 515.3,66.26 515.55,65.94 515.8,65.62 516.05,65.31 516.3,65 516.55,64.69 516.8,64.39 517.05,64.09 517.3,63.79 517.55,63.49 517.8,63.21 518.05,62.92 518.3,62.64 518.55,62.37 518.8,62.11 519.05,61.85 519.3,61.6 519.55,61.35 519.8,61.11 520.05,60.89 520.3,60.67 520.55,60.46 520.8,60.26 521.05,60.07 521.3,59.89 521.55,59.72 521.8,59.56 522.05,59.41 522.3,59.28 522.55,59.16 522.8,59.05 523.05,58.95 523.3,58.87 523.55,58.79 523.8,58.71 524.05,58.63 524.3,58.56 524.55,58.48 524.8,58.42 525.05,58.35 525.3,58.29 525.55,58.23 525.8,58.18 526.05,58.13 526.3,58.09 526.55,58.06 526.8,58.03 527.05,58.01 527.3,58 527.55,58 527.8,58.01 528.05,58.02 528.3,58.05 528.55,58.08 528.8,58.12 529.05,58.17 529.3,58.23 529.55,58.29 529.8,58.35 530.05,58.43 530.3,58.5 530.55,58.58 530.8,58.67 531.05,58.76 531.3,58.85 531.55,58.94 531.8,59.04 532.05,59.13 532.3,59.23 532.55,59.33 532.8,59.42 533.05,59.52 533.3,59.62 533.55,59.73 533.8,59.85 534.05,59.97 534.3,60.1 534.55,60.24 534.8,60.38 535.05,60.53 535.3,60.69 535.55,60.85 535.8,61.02 536.05,61.19 536.3,61.36 536.55,61.54 536.8,61.72 537.05,61.91 537.3,62.09 537.55,62.28 537.8,62.47 538.05,62.67 538.3,62.86 538.55,63.06 538.8,63.26 539.05,63.45 539.3,63.65 539.55,63.85 539.8,64.04 540.05,64.24 540.3,64.44 540.55,64.63 540.8,64.83 541.05,65.04 541.3,65.24 541.55,65.45 541.8,65.66 542.05,65.87 542.3,66.08 542.55,66.3 542.8,66.52 543.05,66.74 543.3,66.96 543.55,67.18 543.8,67.41 544.05,67.64 544.3,67.86 544.55,68.09 544.8,68.33 545.05,68.56 545.3,68.8 545.55,69.03 545.8,69.27 546.05,69.51 546.3,69.75 546.55,70 546.8,70.24 547.05,70.49 547.3,70.74 547.55,70.98 547.8,71.23 548.05,71.48 548.3,71.74 548.55,71.99 548.8,72.25 549.05,72.5 549.3,72.76 549.55,73.02 549.8,73.27 550.05,73.53 550.3,73.79 550.55,74.06 550.8,74.32 551.05,74.58 551.3,74.84 551.55,75.11 551.8,75.37 552.05,75.64 552.3,75.91 552.55,76.17 552.8,76.44 553.05,76.71 553.3,76.98 553.55,77.25 553.8,77.52 554.05,77.79 554.3,78.06 554.55,78.33 554.8,78.6 555.05,78.87 555.3,79.14 555.55,79.41 555.8,79.68 556.05,79.95 556.3,80.23 556.55,80.5 556.8,80.77 557.05,81.04 557.3,81.31 557.55,81.58 557.8,81.85 558.05,82.13 558.3,82.4 558.55,82.67 558.8,82.94 559.05,83.21 559.3,83.47 559.55,83.74 559.8,84.01 560.05,84.28 560.3,84.55 560.55,84.81 560.8,85.08 561.05,85.35 561.3,85.61 561.55,85.87 561.8,86.14 562.05,86.4 562.3,86.66 562.55,86.92 562.8,87.18 563.05,87.44 563.3,87.7 563.55,87.96 563.8,88.22 564.05,88.47 564.3,88.73 564.55,88.99 564.8,89.25 565.05,89.51 565.3,89.77 565.55,90.03 565.8,90.29 566.05,90.55 566.3,90.81 566.55,91.08 566.8,91.34 567.05,91.6 567.3,91.86 567.55,92.12 567.8,92.39 568.05,92.65 568.3,92.91 568.55,93.17 568.8,93.44 569.05,93.7 569.3,93.97 569.55,94.23 569.8,94.49 570.05,94.76 570.3,95.02 570.55,95.29 570.8,95.55 571.05,95.82 571.3,96.08 571.55,96.35 571.8,96.61 572.05,96.88 572.3,97.14 572.55,97.41 572.8,97.67 573.05,97.94 573.3,98.2 573.55,98.47 573.8,98.73 574.05,99 574.3,99.27 574.55,99.53 574.8,99.8 575.05,100.06 575.3,100.33 575.55,100.59 575.8,100.86 576.05,101.13 576.3,101.39 576.55,101.66 576.8,101.92 577.05,102.19 577.3,102.45 577.55,102.72 577.8,102.98 578.05,103.25 578.3,103.51 578.55,103.78 578.8,104.04 579.05,104.31 579.3,104.57 579.55,104.84 579.8,105.1 580.05,105.37 580.3,105.63 580.55,105.9 580.8,106.16 581.05,106.42 581.3,106.69 581.55,106.95 581.8,107.21 582.05,107.48 582.3,107.74 582.55,108 582.8,108.26 583.05,108.53 583.3,108.79 583.55,109.05 583.8,109.31 584.05,109.57 584.3,109.83 584.55,110.09 584.8,110.35 585.05,110.61 585.3,110.87 585.55,111.13 585.8,111.39 586.05,111.65 586.3,111.91 586.55,112.17 586.8,112.43 587.05,112.69 587.3,112.95 587.55,113.21 587.8,113.47 588.05,113.73 588.3,113.99 588.55,114.25 588.8,114.51 589.05,114.77 589.3,115.03 589.55,115.3 589.8,115.56 590.05,115.82 590.3,116.08 590.55,116.34 590.8,116.6 591.05,116.87 591.3,117.13 591.55,117.39 591.8,117.65 592.05,117.91 592.3,118.17 592.55,118.44 592.8,118.7 593.05,118.96 593.3,119.22 593.55,119.48 593.8,119.75 594.05,120.01 594.3,120.27 594.55,120.53 594.8,120.79 595.05,121.05 595.3,121.31 595.55,121.57 595.8,121.83 596.05,122.09 596.3,122.35 596.55,122.61 596.8,122.87 597.05,123.13 597.3,123.39 597.55,123.65 597.8,123.91 598.05,124.16 598.3,124.42 598.55,124.68 598.8,124.94 599.05,125.19 599.3,125.45 599.55,125.71 599.8,125.96 600.05,126.22 600.3,126.47 600.55,126.73 600.8,126.98 601.05,127.23 601.3,127.49 601.55,127.74 601.8,127.99 602.05,128.24 602.3,128.5 602.55,128.75 602.8,129 603.05,129.25 603.3,129.5 603.55,129.74 603.8,129.99 604.05,130.24 604.3,130.49 604.55,130.73 604.8,130.98 605.05,131.22 605.3,131.47 605.55,131.71 605.8,131.95 606.05,132.2 606.3,132.44 606.55,132.68 606.8,132.92 607.05,133.16 607.3,133.4 607.55,133.64 607.8,133.87 608.05,134.11 608.3,134.34 608.55,134.58 608.8,134.81 609.05,135.05 609.3,135.28 609.55,135.51 609.8,135.74 610.05,135.97 610.3,136.2 610.55,136.43 610.8,136.66 611.05,136.89 611.3,137.12 611.55,137.35 611.8,137.57 612.05,137.8 612.3,138.03 612.55,138.25 612.8,138.48 613.05,138.7 613.3,138.92 613.55,139.15 613.8,139.37 614.05,139.59 614.3,139.82 614.55,140.04 614.8,140.26 615.05,140.48 615.3,140.7 615.55,140.92 615.8,141.14 616.05,141.36 616.3,141.58 616.55,141.79 616.8,142.01 617.05,142.23 617.3,142.45 617.55,142.66 617.8,142.88 618.05,143.1 618.3,143.31 618.55,143.53 618.8,143.74 619.05,143.96 619.3,144.17 619.55,144.38 619.8,144.6 620.05,144.81 620.3,145.02 620.55,145.24 620.8,145.45 621.05,145.66 621.3,145.87 621.55,146.08 621.8,146.3 622.05,146.51 622.3,146.72 622.55,146.93 622.8,147.14 623.05,147.35 623.3,147.56 623.55,147.77 623.8,147.98 624.05,148.19 624.3,148.4 624.55,148.6 624.8,148.81 625.05,149.02 625.3,149.23 625.55,149.44 625.8,149.65 626.05,149.85 626.3,150.06 626.55,150.27 626.8,150.48 627.05,150.68 627.3,150.89 627.55,151.1 627.8,151.31 628.05,151.51 628.3,151.72 628.55,151.93 628.8,152.13 629.05,152.34 629.3,152.55 629.55,152.75 629.8,152.96 630.05,153.17 630.3,153.37 630.55,153.58 630.8,153.78 631.05,153.99 631.3,154.2 631.55,154.4 631.8,154.61 632.05,154.82 632.3,155.02 632.55,155.23 632.8,155.43 633.05,155.64 633.3,155.85 633.55,156.05 633.8,156.26 634.05,156.46 634.3,156.67 634.55,156.88 634.8,157.08 635.05,157.29 635.3,157.49 635.55,157.69 635.8,157.9 636.05,158.1 636.3,158.31 636.55,158.51 636.8,158.71 637.05,158.92 637.3,159.12 637.55,159.32 637.8,159.53 638.05,159.73 638.3,159.93 638.55,160.13 638.8,160.33 639.05,160.54 639.3,160.74 639.55,160.94 639.8,161.14 640.05,161.34 640.3,161.54 640.55,161.74 640.8,161.94 641.05,162.14 641.3,162.34 641.55,162.54 641.8,162.74 642.05,162.94 642.3,163.14 642.55,163.34 642.8,163.54 643.05,163.74 643.3,163.94 643.55,164.14 643.8,164.34 644.05,164.54 644.3,164.74 644.55,164.94 644.8,165.13 645.05,165.33 645.3,165.53 645.55,165.73 645.8,165.93 646.05,166.12 646.3,166.32 646.55,166.52 646.8,166.72 647.05,166.91 647.3,167.11 647.55,167.31 647.8,167.5 648.05,167.7 648.3,167.9 648.55,168.09 648.8,168.29 649.05,168.49 649.3,168.68 649.55,168.88 649.8,169.07 650.05,169.27 650.3,169.47 650.55,169.66 650.8,169.86 651.05,170.05 651.3,170.25 651.55,170.44 651.8,170.64 652.05,170.84 652.3,171.03 652.55,171.23 652.8,171.42 653.05,171.62 653.3,171.81 653.55,172.01 653.8,172.2 654.05,172.4 654.3,172.59 654.55,172.78 654.8,172.98 655.05,173.17 655.3,173.37 655.55,173.56 655.8,173.76 656.05,173.95 656.3,174.15 656.55,174.34 656.8,174.53 657.05,174.73 657.3,174.92 657.55,175.12 657.8,175.32 658.05,175.52 658.3,175.72 658.55,175.93 658.8,176.14 659.05,176.36 659.3,176.58 659.55,176.8 659.8,177.02 660.05,177.25 660.3,177.48 660.55,177.71 660.8,177.95 661.05,178.18 661.3,178.42 661.55,178.66 661.8,178.9 662.05,179.15 662.3,179.39 662.55,179.64 662.8,179.88 663.05,180.13 663.3,180.38 663.55,180.63 663.8,180.88 664.05,181.14 664.3,181.39 664.55,181.64 664.8,181.89 665.05,182.15 665.3,182.4 665.55,182.65 665.8,182.9 666.05,183.16 666.3,183.41 666.55,183.66 666.8,183.91 667.05,184.16 667.3,184.41 667.55,184.65 667.8,184.9 668.05,185.14 668.3,185.38 668.55,185.62 668.8,185.86 669.05,186.1 669.3,186.33 669.55,186.57 669.8,186.79 670.05,187.02 670.3,187.25 670.55,187.47 670.8,187.69 671.05,187.9 671.3,188.12 671.55,188.33 671.8,188.53 672.05,188.74 672.3,188.93 672.55,189.13 672.8,189.32 673.05,189.51 673.3,189.69 673.55,189.87 673.8,190.04 674.05,190.21 674.3,190.38 674.55,190.54 674.8,190.69 675.05,190.84 675.3,190.99 675.55,191.13 675.8,191.26 676.05,191.39 676.3,191.51 676.55,191.63 676.8,191.74 677.05,191.85 677.3,191.95 677.55,192.04 677.8,192.12 678.05,192.2 678.3,192.27 678.55,192.34 678.8,192.4 679.05,192.45 679.3,192.49 679.55,192.53 679.8,192.56 680.05,192.58 680.3,192.59 680.55,192.6 680.8,192.57 681.05,192.47 681.3,192.32 681.55,192.16 681.8,192" stroke="#43b94e" stroke-width="1.2" fill="none" stroke-linejoin="round"/>
<path d="M493.8,145 494.05,144.18 494.3,143.36 494.55,142.57 494.8,141.79 495.05,141.03 495.3,140.29 495.55,139.57 495.8,138.87 496.05,138.19 496.3,137.54 496.55,136.92 496.8,136.32 497.05,135.75 497.3,135.21 497.55,134.7 497.8,134.21 498.05,133.75 498.3,133.29 498.55,132.85 498.8,132.42 499.05,132.01 499.3,131.61 499.55,131.22 499.8,130.84 500.05,130.48 500.3,130.13 500.55,129.79 500.8,129.47 501.05,129.16 501.3,128.86 501.55,128.57 501.8,128.3 502.05,128.03 502.3,127.77 502.55,127.51 502.8,127.26 503.05,127.01 503.3,126.77 503.55,126.54 503.8,126.31 504.05,126.1 504.3,125.89 504.55,125.69 504.8,125.51 505.05,125.33 505.3,125.17 505.55,125.03 505.8,124.9 506.05,124.78 506.3,124.66 506.55,124.55 506.8,124.44 507.05,124.33 507.3,124.23 507.55,124.13 507.8,124.04 508.05,123.95 508.3,123.88 508.55,123.81 508.8,123.76 509.05,123.73 509.3,123.71 509.55,123.7 509.8,123.7 510.05,123.71 510.3,123.71 510.55,123.72 510.8,123.73 511.05,123.74 511.3,123.76 511.55,123.77 511.8,123.79 512.05,123.81 512.3,123.83 512.55,123.85 512.8,123.87 513.05,123.89 513.3,123.91 513.55,123.94 513.8,123.96 514.05,123.99 514.3,124.01 514.55,124.04 514.8,124.07 515.05,124.09 515.3,124.12 515.55,124.15 515.8,124.19 516.05,124.23 516.3,124.27 516.55,124.32 516.8,124.37 517.05,124.42 517.3,124.47 517.55,124.53 517.8,124.59 518.05,124.65 518.3,124.71 518.55,124.77 518.8,124.83 519.05,124.9 519.3,124.96 519.55,125.03 519.8,125.09 520.05,125.16 520.3,125.22 520.55,125.29 520.8,125.35 521.05,125.41 521.3,125.48 521.55,125.54 521.8,125.6 522.05,125.66 522.3,125.72 522.55,125.78 522.8,125.84 523.05,125.9 523.3,125.97 523.55,126.03 523.8,126.09 524.05,126.16 524.3,126.22 524.55,126.28 524.8,126.35 525.05,126.41 525.3,126.48 525.55,126.54 525.8,126.61 526.05,126.68 526.3,126.74 526.55,126.81 526.8,126.88 527.05,126.94 527.3,127.01 527.55,127.08 527.8,127.15 528.05,127.21 528.3,127.28 528.55,127.35 528.8,127.42 529.05,127.49 529.3,127.56 529.55,127.63 529.8,127.7 530.05,127.76 530.3,127.83 530.55,127.9 530.8,127.97 531.05,128.04 531.3,128.12 531.55,128.19 531.8,128.26 532.05,128.33 532.3,128.4 532.55,128.47 532.8,128.54 533.05,128.61 533.3,128.68 533.55,128.76 533.8,128.83 534.05,128.9 534.3,128.97 534.55,129.04 534.8,129.12 535.05,129.19 535.3,129.26 535.55,129.33 535.8,129.41 536.05,129.48 536.3,129.55 536.55,129.63 536.8,129.7 537.05,129.77 537.3,129.85 537.55,129.92 537.8,130 538.05,130.07 538.3,130.14 538.55,130.22 538.8,130.29 539.05,130.37 539.3,130.44 539.55,130.52 539.8,130.59 540.05,130.67 540.3,130.74 540.55,130.82 540.8,130.9 541.05,130.97 541.3,131.05 541.55,131.13 541.8,131.2 542.05,131.28 542.3,131.36 542.55,131.43 542.8,131.51 543.05,131.59 543.3,131.66 543.55,131.74 543.8,131.82 544.05,131.9 544.3,131.98 544.55,132.05 544.8,132.13 545.05,132.21 545.3,132.29 545.55,132.37 545.8,132.45 546.05,132.53 546.3,132.61 546.55,132.69 546.8,132.77 547.05,132.85 547.3,132.93 547.55,133.01 547.8,133.09 548.05,133.17 548.3,133.25 548.55,133.33 548.8,133.41 549.05,133.49 549.3,133.57 549.55,133.65 549.8,133.74 550.05,133.82 550.3,133.9 550.55,133.98 550.8,134.06 551.05,134.15 551.3,134.23 551.55,134.31 551.8,134.4 552.05,134.48 552.3,134.56 552.55,134.65 552.8,134.73 553.05,134.81 553.3,134.9 553.55,134.98 553.8,135.07 554.05,135.15 554.3,135.24 554.55,135.32 554.8,135.41 555.05,135.49 555.3,135.58 555.55,135.67 555.8,135.75 556.05,135.84 556.3,135.93 556.55,136.01 556.8,136.1 557.05,136.19 557.3,136.28 557.55,136.36 557.8,136.45 558.05,136.54 558.3,136.63 558.55,136.72 558.8,136.81 559.05,136.9 559.3,136.99 559.55,137.08 559.8,137.17 560.05,137.26 560.3,137.35 560.55,137.44 560.8,137.53 561.05,137.62 561.3,137.71 561.55,137.8 561.8,137.89 562.05,137.98 562.3,138.08 562.55,138.17 562.8,138.26 563.05,138.35 563.3,138.45 563.55,138.54 563.8,138.63 564.05,138.73 564.3,138.82 564.55,138.91 564.8,139.01 565.05,139.1 565.3,139.19 565.55,139.29 565.8,139.38 566.05,139.48 566.3,139.57 566.55,139.67 566.8,139.76 567.05,139.86 567.3,139.95 567.55,140.05 567.8,140.14 568.05,140.24 568.3,140.34 568.55,140.43 568.8,140.53 569.05,140.62 569.3,140.72 569.55,140.82 569.8,140.92 570.05,141.01 570.3,141.11 570.55,141.21 570.8,141.3 571.05,141.4 571.3,141.5 571.55,141.6 571.8,141.7 572.05,141.79 572.3,141.89 572.55,141.99 572.8,142.09 573.05,142.19 573.3,142.29 573.55,142.38 573.8,142.48 574.05,142.58 574.3,142.68 574.55,142.78 574.8,142.88 575.05,142.98 575.3,143.08 575.55,143.18 575.8,143.28 576.05,143.38 576.3,143.48 576.55,143.58 576.8,143.68 577.05,143.78 577.3,143.88 577.55,143.98 577.8,144.09 578.05,144.19 578.3,144.29 578.55,144.39 578.8,144.49 579.05,144.59 579.3,144.7 579.55,144.8 579.8,144.9 580.05,145.01 580.3,145.11 580.55,145.21 580.8,145.32 581.05,145.42 581.3,145.52 581.55,145.63 581.8,145.73 582.05,145.84 582.3,145.94 582.55,146.04 582.8,146.15 583.05,146.25 583.3,146.36 583.55,146.47 583.8,146.57 584.05,146.68 584.3,146.78 584.55,146.89 584.8,147 585.05,147.1 585.3,147.21 585.55,147.32 585.8,147.42 586.05,147.53 586.3,147.64 586.55,147.74 586.8,147.85 587.05,147.96 587.3,148.07 587.55,148.18 587.8,148.29 588.05,148.39 588.3,148.5 588.55,148.61 588.8,148.72 589.05,148.83 589.3,148.94 589.55,149.05 589.8,149.16 590.05,149.27 590.3,149.38 590.55,149.49 590.8,149.6 591.05,149.71 591.3,149.82 591.55,149.93 591.8,150.04 592.05,150.16 592.3,150.27 592.55,150.38 592.8,150.49 593.05,150.6 593.3,150.72 593.55,150.83 593.8,150.94 594.05,151.05 594.3,151.17 594.55,151.28 594.8,151.39 595.05,151.51 595.3,151.62 595.55,151.74 595.8,151.85 596.05,151.96 596.3,152.08 596.55,152.19 596.8,152.31 597.05,152.42 597.3,152.54 597.55,152.65 597.8,152.77 598.05,152.89 598.3,153 598.55,153.12 598.8,153.24 599.05,153.35 599.3,153.47 599.55,153.59 599.8,153.71 600.05,153.82 600.3,153.94 600.55,154.06 600.8,154.18 601.05,154.3 601.3,154.42 601.55,154.54 601.8,154.66 602.05,154.78 602.3,154.9 602.55,155.02 602.8,155.14 603.05,155.26 603.3,155.38 603.55,155.5 603.8,155.62 604.05,155.75 604.3,155.87 604.55,155.99 604.8,156.11 605.05,156.23 605.3,156.36 605.55,156.48 605.8,156.6 606.05,156.73 606.3,156.85 606.55,156.97 606.8,157.1 607.05,157.22 607.3,157.35 607.55,157.47 607.8,157.6 608.05,157.72 608.3,157.84 608.55,157.97 608.8,158.1 609.05,158.22 609.3,158.35 609.55,158.47 609.8,158.6 610.05,158.72 610.3,158.85 610.55,158.98 610.8,159.1 611.05,159.23 611.3,159.36 611.55,159.48 611.8,159.61 612.05,159.74 612.3,159.86 612.55,159.99 612.8,160.12 613.05,160.25 613.3,160.37 613.55,160.5 613.8,160.63 614.05,160.76 614.3,160.89 614.55,161.01 614.8,161.14 615.05,161.27 615.3,161.4 615.55,161.53 615.8,161.66 616.05,161.79 616.3,161.91 616.55,162.04 616.8,162.17 617.05,162.3 617.3,162.43 617.55,162.56 617.8,162.69 618.05,162.82 618.3,162.95 618.55,163.08 618.8,163.21 619.05,163.34 619.3,163.47 619.55,163.6 619.8,163.73 620.05,163.86 620.3,163.99 620.55,164.12 620.8,164.26 621.05,164.39 621.3,164.52 621.55,164.65 621.8,164.79 622.05,164.92 622.3,165.05 622.55,165.19 622.8,165.32 623.05,165.45 623.3,165.59 623.55,165.72 623.8,165.86 624.05,165.99 624.3,166.12 624.55,166.26 624.8,166.39 625.05,166.53 625.3,166.67 625.55,166.8 625.8,166.94 626.05,167.07 626.3,167.21 626.55,167.34 626.8,167.48 627.05,167.62 627.3,167.75 627.55,167.89 627.8,168.03 628.05,168.16 628.3,168.3 628.55,168.44 628.8,168.57 629.05,168.71 629.3,168.85 629.55,168.99 629.8,169.12 630.05,169.26 630.3,169.4 630.55,169.54 630.8,169.67 631.05,169.81 631.3,169.95 631.55,170.09 631.8,170.22 632.05,170.36 632.3,170.5 632.55,170.64 632.8,170.78 633.05,170.91 633.3,171.05 633.55,171.19 633.8,171.33 634.05,171.46 634.3,171.6 634.55,171.74 634.8,171.88 635.05,172.02 635.3,172.15 635.55,172.29 635.8,172.43 636.05,172.57 636.3,172.7 636.55,172.84 636.8,172.98 637.05,173.11 637.3,173.25 637.55,173.39 637.8,173.53 638.05,173.66 638.3,173.8 638.55,173.94 638.8,174.07 639.05,174.21 639.3,174.35 639.55,174.48 639.8,174.62 640.05,174.75 640.3,174.89 640.55,175.03 640.8,175.16 641.05,175.3 641.3,175.43 641.55,175.57 641.8,175.7 642.05,175.84 642.3,175.97 642.55,176.11 642.8,176.25 643.05,176.38 643.3,176.52 643.55,176.65 643.8,176.79 644.05,176.92 644.3,177.06 644.55,177.19 644.8,177.33 645.05,177.46 645.3,177.6 645.55,177.73 645.8,177.87 646.05,178 646.3,178.14 646.55,178.27 646.8,178.41 647.05,178.54 647.3,178.68 647.55,178.81 647.8,178.95 648.05,179.08 648.3,179.22 648.55,179.35 648.8,179.49 649.05,179.62 649.3,179.76 649.55,179.9 649.8,180.03 650.05,180.17 650.3,180.3 650.55,180.44 650.8,180.57 651.05,180.71 651.3,180.85 651.55,180.98 651.8,181.12 652.05,181.25 652.3,181.39 652.55,181.53 652.8,181.66 653.05,181.8 653.3,181.94 653.55,182.07 653.8,182.21 654.05,182.35 654.3,182.49 654.55,182.62 654.8,182.76 655.05,182.9 655.3,183.04 655.55,183.17 655.8,183.31 656.05,183.45 656.3,183.59 656.55,183.73 656.8,183.87 657.05,184.01 657.3,184.14 657.55,184.28 657.8,184.42 658.05,184.56 658.3,184.7 658.55,184.84 658.8,184.98 659.05,185.12 659.3,185.26 659.55,185.41 659.8,185.55 660.05,185.69 660.3,185.83 660.55,185.97 660.8,186.11 661.05,186.26 661.3,186.41 661.55,186.57 661.8,186.72 662.05,186.89 662.3,187.05 662.55,187.22 662.8,187.39 663.05,187.56 663.3,187.73 663.55,187.91 663.8,188.09 664.05,188.27 664.3,188.46 664.55,188.64 664.8,188.83 665.05,189.02 665.3,189.21 665.55,189.4 665.8,189.6 666.05,189.79 666.3,189.98 666.55,190.18 666.8,190.38 667.05,190.57 667.3,190.77 667.55,190.97 667.8,191.16 668.05,191.36 668.3,191.55 668.55,191.75 668.8,191.95 669.05,192.14 669.3,192.33 669.55,192.53 669.8,192.72 670.05,192.91 670.3,193.1 670.55,193.28 670.8,193.47 671.05,193.65 671.3,193.83 671.55,194.01 671.8,194.19 672.05,194.36 672.3,194.53 672.55,194.7 672.8,194.87 673.05,195.03 673.3,195.19 673.55,195.35 673.8,195.5 674.05,195.65 674.3,195.8 674.55,195.94 674.8,196.08 675.05,196.21 675.3,196.34 675.55,196.46 675.8,196.58 676.05,196.7 676.3,196.81 676.55,196.92 676.8,197.02 677.05,197.11 677.3,197.2 677.55,197.28 677.8,197.36 678.05,197.43 678.3,197.5 678.55,197.56 678.8,197.61 679.05,197.66 679.3,197.7 679.55,197.74 679.8,197.76 680.05,197.78 680.3,197.79 680.55,197.8 680.8,197.77 681.05,197.65 681.3,197.47 681.55,197.28 681.8,197.1" stroke="#d53030" stroke-width="1.2" fill="none" stroke-linejoin="round"/>
<path d="M493.8,145 494.05,144.66 494.3,144.32 494.55,143.98 494.8,143.65 495.05,143.32 495.3,143 495.55,142.68 495.8,142.36 496.05,142.04 496.3,141.73 496.55,141.43 496.8,141.13 497.05,140.83 497.3,140.54 497.55,140.26 497.8,139.97 498.05,139.69 498.3,139.4 498.55,139.1 498.8,138.81 499.05,138.51 499.3,138.22 499.55,137.93 499.8,137.64 500.05,137.36 500.3,137.08 500.55,136.81 500.8,136.54 501.05,136.29 501.3,136.04 501.55,135.8 501.8,135.58 502.05,135.37 502.3,135.17 502.55,134.99 502.8,134.83 503.05,134.68 503.3,134.55 503.55,134.42 503.8,134.29 504.05,134.17 504.3,134.04 504.55,133.92 504.8,133.8 505.05,133.69 505.3,133.58 505.55,133.48 505.8,133.38 506.05,133.29 506.3,133.21 506.55,133.13 506.8,133.07 507.05,133.01 507.3,132.97 507.55,132.93 507.8,132.91 508.05,132.9 508.3,132.91 508.55,132.95 508.8,133.01 509.05,133.1 509.3,133.22 509.55,133.35 509.8,133.5 510.05,133.66 510.3,133.84 510.55,134.03 510.8,134.22 511.05,134.42 511.3,134.63 511.55,134.83 511.8,135.03 512.05,135.23 512.3,135.42 512.55,135.6 512.8,135.77 513.05,135.94 513.3,136.11 513.55,136.29 513.8,136.47 514.05,136.65 514.3,136.83 514.55,137.02 514.8,137.21 515.05,137.4 515.3,137.59 515.55,137.79 515.8,137.98 516.05,138.18 516.3,138.38 516.55,138.58 516.8,138.78 517.05,138.97 517.3,139.17 517.55,139.37 517.8,139.57 518.05,139.77 518.3,139.97 518.55,140.17 518.8,140.36 519.05,140.56 519.3,140.75 519.55,140.95 519.8,141.14 520.05,141.32 520.3,141.51 520.55,141.7 520.8,141.88 521.05,142.06 521.3,142.23 521.55,142.4 521.8,142.58 522.05,142.75 522.3,142.92 522.55,143.08 522.8,143.25 523.05,143.42 523.3,143.58 523.55,143.75 523.8,143.91 524.05,144.08 524.3,144.24 524.55,144.4 524.8,144.56 525.05,144.72 525.3,144.88 525.55,145.04 525.8,145.2 526.05,145.36 526.3,145.52 526.55,145.67 526.8,145.83 527.05,145.99 527.3,146.14 527.55,146.3 527.8,146.45 528.05,146.6 528.3,146.76 528.55,146.91 528.8,147.06 529.05,147.22 529.3,147.37 529.55,147.52 529.8,147.67 530.05,147.82 530.3,147.97 530.55,148.13 530.8,148.28 531.05,148.43 531.3,148.58 531.55,148.73 531.8,148.88 532.05,149.03 532.3,149.18 532.55,149.33 532.8,149.48 533.05,149.63 533.3,149.78 533.55,149.93 533.8,150.08 534.05,150.23 534.3,150.38 534.55,150.53 534.8,150.68 535.05,150.83 535.3,150.98 535.55,151.13 535.8,151.28 536.05,151.43 536.3,151.58 536.55,151.73 536.8,151.88 537.05,152.02 537.3,152.17 537.55,152.32 537.8,152.47 538.05,152.62 538.3,152.77 538.55,152.92 538.8,153.06 539.05,153.21 539.3,153.36 539.55,153.51 539.8,153.65 540.05,153.8 540.3,153.95 540.55,154.09 540.8,154.24 541.05,154.39 541.3,154.53 541.55,154.68 541.8,154.82 542.05,154.97 542.3,155.11 542.55,155.26 542.8,155.4 543.05,155.55 543.3,155.69 543.55,155.84 543.8,155.98 544.05,156.12 544.3,156.27 544.55,156.41 544.8,156.55 545.05,156.7 545.3,156.84 545.55,156.98 545.8,157.12 546.05,157.26 546.3,157.4 546.55,157.55 546.8,157.69 547.05,157.83 547.3,157.97 547.55,158.11 547.8,158.25 548.05,158.39 548.3,158.52 548.55,158.66 548.8,158.8 549.05,158.94 549.3,159.08 549.55,159.21 549.8,159.35 550.05,159.49 550.3,159.62 550.55,159.76 550.8,159.9 551.05,160.03 551.3,160.17 551.55,160.3 551.8,160.43 552.05,160.57 552.3,160.7 552.55,160.84 552.8,160.97 553.05,161.1 553.3,161.23 553.55,161.36 553.8,161.5 554.05,161.63 554.3,161.76 554.55,161.89 554.8,162.02 555.05,162.14 555.3,162.27 555.55,162.4 555.8,162.53 556.05,162.66 556.3,162.78 556.55,162.91 556.8,163.04 557.05,163.16 557.3,163.29 557.55,163.41 557.8,163.54 558.05,163.66 558.3,163.78 558.55,163.91 558.8,164.03 559.05,164.15 559.3,164.27 559.55,164.4 559.8,164.52 560.05,164.64 560.3,164.76 560.55,164.88 560.8,165 561.05,165.12 561.3,165.24 561.55,165.36 561.8,165.48 562.05,165.6 562.3,165.72 562.55,165.84 562.8,165.96 563.05,166.08 563.3,166.2 563.55,166.32 563.8,166.43 564.05,166.55 564.3,166.67 564.55,166.79 564.8,166.91 565.05,167.02 565.3,167.14 565.55,167.26 565.8,167.38 566.05,167.49 566.3,167.61 566.55,167.73 566.8,167.84 567.05,167.96 567.3,168.08 567.55,168.2 567.8,168.31 568.05,168.43 568.3,168.55 568.55,168.66 568.8,168.78 569.05,168.9 569.3,169.01 569.55,169.13 569.8,169.25 570.05,169.37 570.3,169.48 570.55,169.6 570.8,169.72 571.05,169.83 571.3,169.95 571.55,170.07 571.8,170.19 572.05,170.31 572.3,170.42 572.55,170.54 572.8,170.66 573.05,170.78 573.3,170.9 573.55,171.02 573.8,171.14 574.05,171.26 574.3,171.37 574.55,171.49 574.8,171.61 575.05,171.73 575.3,171.86 575.55,171.98 575.8,172.1 576.05,172.22 576.3,172.34 576.55,172.46 576.8,172.58 577.05,172.71 577.3,172.83 577.55,172.95 577.8,173.07 578.05,173.2 578.3,173.32 578.55,173.44 578.8,173.57 579.05,173.69 579.3,173.81 579.55,173.94 579.8,174.06 580.05,174.18 580.3,174.31 580.55,174.43 580.8,174.56 581.05,174.68 581.3,174.81 581.55,174.93 581.8,175.05 582.05,175.18 582.3,175.3 582.55,175.43 582.8,175.55 583.05,175.68 583.3,175.8 583.55,175.93 583.8,176.05 584.05,176.18 584.3,176.3 584.55,176.42 584.8,176.55 585.05,176.67 585.3,176.8 585.55,176.92 585.8,177.05 586.05,177.17 586.3,177.29 586.55,177.42 586.8,177.54 587.05,177.66 587.3,177.79 587.55,177.91 587.8,178.03 588.05,178.16 588.3,178.28 588.55,178.4 588.8,178.52 589.05,178.64 589.3,178.77 589.55,178.89 589.8,179.01 590.05,179.13 590.3,179.25 590.55,179.37 590.8,179.49 591.05,179.61 591.3,179.73 591.55,179.85 591.8,179.97 592.05,180.09 592.3,180.21 592.55,180.32 592.8,180.44 593.05,180.56 593.3,180.67 593.55,180.79 593.8,180.91 594.05,181.02 594.3,181.14 594.55,181.25 594.8,181.37 595.05,181.48 595.3,181.6 595.55,181.71 595.8,181.82 596.05,181.93 596.3,182.04 596.55,182.16 596.8,182.27 597.05,182.38 597.3,182.49 597.55,182.6 597.8,182.71 598.05,182.81 598.3,182.92 598.55,183.03 598.8,183.14 599.05,183.25 599.3,183.35 599.55,183.46 599.8,183.57 600.05,183.67 600.3,183.78 600.55,183.88 600.8,183.99 601.05,184.09 601.3,184.2 601.55,184.3 601.8,184.41 602.05,184.51 602.3,184.61 602.55,184.72 602.8,184.82 603.05,184.92 603.3,185.03 603.55,185.13 603.8,185.23 604.05,185.33 604.3,185.44 604.55,185.54 604.8,185.64 605.05,185.74 605.3,185.84 605.55,185.94 605.8,186.04 606.05,186.15 606.3,186.25 606.55,186.35 606.8,186.45 607.05,186.55 607.3,186.65 607.55,186.75 607.8,186.85 608.05,186.95 608.3,187.05 608.55,187.15 608.8,187.25 609.05,187.35 609.3,187.45 609.55,187.55 609.8,187.65 610.05,187.75 610.3,187.85 610.55,187.95 610.8,188.05 611.05,188.15 611.3,188.26 611.55,188.36 611.8,188.46 612.05,188.56 612.3,188.66 612.55,188.76 612.8,188.86 613.05,188.96 613.3,189.06 613.55,189.16 613.8,189.27 614.05,189.37 614.3,189.47 614.55,189.57 614.8,189.67 615.05,189.78 615.3,189.88 615.55,189.98 615.8,190.08 616.05,190.19 616.3,190.29 616.55,190.39 616.8,190.5 617.05,190.6 617.3,190.71 617.55,190.81 617.8,190.92 618.05,191.02 618.3,191.13 618.55,191.23 618.8,191.34 619.05,191.44 619.3,191.55 619.55,191.65 619.8,191.76 620.05,191.87 620.3,191.97 620.55,192.08 620.8,192.18 621.05,192.29 621.3,192.4 621.55,192.5 621.8,192.61 622.05,192.72 622.3,192.82 622.55,192.93 622.8,193.04 623.05,193.14 623.3,193.25 623.55,193.36 623.8,193.46 624.05,193.57 624.3,193.68 624.55,193.79 624.8,193.89 625.05,194 625.3,194.11 625.55,194.21 625.8,194.32 626.05,194.43 626.3,194.54 626.55,194.64 626.8,194.75 627.05,194.86 627.3,194.97 627.55,195.08 627.8,195.18 628.05,195.29 628.3,195.4 628.55,195.51 628.8,195.61 629.05,195.72 629.3,195.83 629.55,195.94 629.8,196.05 630.05,196.15 630.3,196.26 630.55,196.37 630.8,196.48 631.05,196.59 631.3,196.69 631.55,196.8 631.8,196.91 632.05,197.02 632.3,197.13 632.55,197.24 632.8,197.34 633.05,197.45 633.3,197.56 633.55,197.67 633.8,197.78 634.05,197.89 634.3,197.99 634.55,198.1 634.8,198.21 635.05,198.32 635.3,198.43 635.55,198.53 635.8,198.64 636.05,198.75 636.3,198.86 636.55,198.97 636.8,199.08 637.05,199.18 637.3,199.29 637.55,199.4 637.8,199.51 638.05,199.62 638.3,199.72 638.55,199.83 638.8,199.94 639.05,200.05 639.3,200.16 639.55,200.26 639.8,200.37 640.05,200.48 640.3,200.59 640.55,200.7 640.8,200.8 641.05,200.91 641.3,201.02 641.55,201.13 641.8,201.23 642.05,201.34 642.3,201.45 642.55,201.56 642.8,201.66 643.05,201.77 643.3,201.88 643.55,201.99 643.8,202.09 644.05,202.2 644.3,202.31 644.55,202.42 644.8,202.52 645.05,202.63 645.3,202.74 645.55,202.85 645.8,202.95 646.05,203.06 646.3,203.17 646.55,203.28 646.8,203.38 647.05,203.49 647.3,203.6 647.55,203.71 647.8,203.81 648.05,203.92 648.3,204.03 648.55,204.14 648.8,204.24 649.05,204.35 649.3,204.46 649.55,204.57 649.8,204.67 650.05,204.78 650.3,204.89 650.55,205 650.8,205.11 651.05,205.21 651.3,205.32 651.55,205.43 651.8,205.54 652.05,205.65 652.3,205.75 652.55,205.86 652.8,205.97 653.05,206.08 653.3,206.19 653.55,206.3 653.8,206.41 654.05,206.51 654.3,206.62 654.55,206.73 654.8,206.84 655.05,206.95 655.3,207.06 655.55,207.17 655.8,207.28 656.05,207.39 656.3,207.5 656.55,207.61 656.8,207.72 657.05,207.83 657.3,207.94 657.55,208.05 657.8,208.16 658.05,208.27 658.3,208.38 658.55,208.49 658.8,208.6 659.05,208.71 659.3,208.82 659.55,208.93 659.8,209.04 660.05,209.15 660.3,209.27 660.55,209.38 660.8,209.49 661.05,209.61 661.3,209.72 661.55,209.85 661.8,209.97 662.05,210.1 662.3,210.22 662.55,210.35 662.8,210.49 663.05,210.62 663.3,210.76 663.55,210.9 663.8,211.04 664.05,211.18 664.3,211.33 664.55,211.47 664.8,211.62 665.05,211.77 665.3,211.91 665.55,212.06 665.8,212.21 666.05,212.37 666.3,212.52 666.55,212.67 666.8,212.82 667.05,212.98 667.3,213.13 667.55,213.28 667.8,213.44 668.05,213.59 668.3,213.74 668.55,213.89 668.8,214.05 669.05,214.2 669.3,214.35 669.55,214.5 669.8,214.65 670.05,214.8 670.3,214.94 670.55,215.09 670.8,215.23 671.05,215.37 671.3,215.52 671.55,215.66 671.8,215.79 672.05,215.93 672.3,216.06 672.55,216.19 672.8,216.32 673.05,216.45 673.3,216.57 673.55,216.7 673.8,216.81 674.05,216.93 674.3,217.04 674.55,217.15 674.8,217.26 675.05,217.36 675.3,217.47 675.55,217.56 675.8,217.66 676.05,217.75 676.3,217.83 676.55,217.91 676.8,217.99 677.05,218.06 677.3,218.13 677.55,218.2 677.8,218.26 678.05,218.32 678.3,218.37 678.55,218.41 678.8,218.46 679.05,218.49 679.3,218.52 679.55,218.55 679.8,218.57 680.05,218.59 680.3,218.6 680.55,218.6 680.8,218.57 681.05,218.47 681.3,218.32 681.55,218.15 681.8,218" stroke="#2cc9d1" stroke-width="1.2" fill="none" stroke-linejoin="round"/>
<path d="M494.5,91.5L500.5,91.5 M496,87.4L499,95.6 M496,95.6L499,87.4" stroke="#2f47e6" stroke-width="1.4" fill="none"/>
<path d="M498.8,37L504.8,37 M500.3,32.9L503.3,41.1 M500.3,41.1L503.3,32.9" stroke="#2f47e6" stroke-width="1.4" fill="none"/>
<path d="M516.5,19.2L522.5,19.2 M518,15.1L521,23.3 M518,23.3L521,15.1" stroke="#2f47e6" stroke-width="1.4" fill="none"/>
<path d="M539.6,58L545.6,58 M541.1,53.9L544.1,62.1 M541.1,62.1L544.1,53.9" stroke="#2f47e6" stroke-width="1.4" fill="none"/>
<path d="M563.8,94L569.8,94 M565.3,89.9L568.3,98.1 M565.3,98.1L568.3,89.9" stroke="#2f47e6" stroke-width="1.4" fill="none"/>
<path d="M590.6,126.7L596.6,126.7 M592.1,122.6L595.1,130.8 M592.1,130.8L595.1,122.6" stroke="#2f47e6" stroke-width="1.4" fill="none"/>
<path d="M619,154L625,154 M620.5,149.9L623.5,158.1 M620.5,158.1L623.5,149.9" stroke="#2f47e6" stroke-width="1.4" fill="none"/>
<path d="M648.4,178.6L654.4,178.6 M649.9,174.5L652.9,182.7 M649.9,182.7L652.9,174.5" stroke="#2f47e6" stroke-width="1.4" fill="none"/>
<ellipse cx="501.6" cy="103.5" rx="1.9" ry="3.0" stroke="#43b94e" stroke-width="1.2" fill="none"/>
<ellipse cx="515.5" cy="66" rx="1.9" ry="3.0" stroke="#43b94e" stroke-width="1.2" fill="none"/>
<ellipse cx="540" cy="64.2" rx="1.9" ry="3.0" stroke="#43b94e" stroke-width="1.2" fill="none"/>
<ellipse cx="563.3" cy="87.7" rx="1.9" ry="3.0" stroke="#43b94e" stroke-width="1.2" fill="none"/>
<ellipse cx="586" cy="111.6" rx="1.9" ry="3.0" stroke="#43b94e" stroke-width="1.2" fill="none"/>
<ellipse cx="609" cy="135" rx="1.9" ry="3.0" stroke="#43b94e" stroke-width="1.2" fill="none"/>
<ellipse cx="633" cy="155.6" rx="1.9" ry="3.0" stroke="#43b94e" stroke-width="1.2" fill="none"/>
<ellipse cx="657.4" cy="175" rx="1.9" ry="3.0" stroke="#43b94e" stroke-width="1.2" fill="none"/>
<path d="M509.5,120.4L511.1,123.7L509.5,127L507.9,123.7Z" stroke="#d53030" stroke-width="1.1" fill="none"/>
<path d="M531.6,124.9L533.2,128.2L531.6,131.5L530,128.2Z" stroke="#d53030" stroke-width="1.1" fill="none"/>
<path d="M553.6,131.7L555.2,135L553.6,138.3L552,135Z" stroke="#d53030" stroke-width="1.1" fill="none"/>
<path d="M575.6,139.9L577.2,143.2L575.6,146.5L574,143.2Z" stroke="#d53030" stroke-width="1.1" fill="none"/>
<path d="M597,149.1L598.6,152.4L597,155.7L595.4,152.4Z" stroke="#d53030" stroke-width="1.1" fill="none"/>
<path d="M618.4,159.7L620,163L618.4,166.3L616.8,163Z" stroke="#d53030" stroke-width="1.1" fill="none"/>
<path d="M639.4,171.1L641,174.4L639.4,177.7L637.8,174.4Z" stroke="#d53030" stroke-width="1.1" fill="none"/>
<path d="M660.6,182.7L662.2,186L660.6,189.3L659,186Z" stroke="#d53030" stroke-width="1.1" fill="none"/>
<rect x="511.1" y="133.5" width="3.2" height="4.4" fill="#2cc9d1"/>
<rect x="531.4" y="147.4" width="3.2" height="4.4" fill="#2cc9d1"/>
<rect x="552.4" y="159.4" width="3.2" height="4.4" fill="#2cc9d1"/>
<rect x="574" y="169.8" width="3.2" height="4.4" fill="#2cc9d1"/>
<rect x="594.6" y="179.8" width="3.2" height="4.4" fill="#2cc9d1"/>
<rect x="616.4" y="188.8" width="3.2" height="4.4" fill="#2cc9d1"/>
<rect x="637.8" y="198" width="3.2" height="4.4" fill="#2cc9d1"/>
<rect x="659" y="207.2" width="3.2" height="4.4" fill="#2cc9d1"/>
<path d="M492,219.78h2.4M683.3,219.78h-2.4M492,204.76h2.4M683.3,204.76h-2.4M492,189.74h2.4M683.3,189.74h-2.4M492,174.72h2.4M683.3,174.72h-2.4M492,159.7h2.4M683.3,159.7h-2.4M492,144.68h2.4M683.3,144.68h-2.4M492,129.66h2.4M683.3,129.66h-2.4M492,114.64h2.4M683.3,114.64h-2.4M492,99.62h2.4M683.3,99.62h-2.4M492,84.6h2.4M683.3,84.6h-2.4M492,69.58h2.4M683.3,69.58h-2.4M492,54.56h2.4M683.3,54.56h-2.4M492,39.54h2.4M683.3,39.54h-2.4M492,24.52h2.4M683.3,24.52h-2.4M492,9.5h2.4M683.3,9.5h-2.4M493.9,221.3v-4M493.9,4.5v4M531.56,221.3v-4M531.56,4.5v4M569.22,221.3v-4M569.22,4.5v4M606.88,221.3v-4M606.88,4.5v4M644.54,221.3v-4M644.54,4.5v4M682.2,221.3v-4M682.2,4.5v4" stroke="#666" stroke-width="0.95" fill="none"/>
<rect x="492" y="4.5" width="191.3" height="216.8" fill="none" stroke="#333" stroke-width="1.15"/>
<text transform="translate(490,223.88) scale(0.57,1)" font-size="12.4" text-anchor="end">30</text>
<text transform="translate(490,208.86) scale(0.57,1)" font-size="12.4" text-anchor="end">40</text>
<text transform="translate(490,193.84) scale(0.57,1)" font-size="12.4" text-anchor="end">50</text>
<text transform="translate(490,178.82) scale(0.57,1)" font-size="12.4" text-anchor="end">60</text>
<text transform="translate(490,163.8) scale(0.57,1)" font-size="12.4" text-anchor="end">70</text>
<text transform="translate(490,148.78) scale(0.57,1)" font-size="12.4" text-anchor="end">80</text>
<text transform="translate(490,133.76) scale(0.57,1)" font-size="12.4" text-anchor="end">90</text>
<text transform="translate(490,118.74) scale(0.57,1)" font-size="12.4" text-anchor="end">100</text>
<text transform="translate(490,103.72) scale(0.57,1)" font-size="12.4" text-anchor="end">110</text>
<text transform="translate(490,88.7) scale(0.57,1)" font-size="12.4" text-anchor="end">120</text>
<text transform="translate(490,73.68) scale(0.57,1)" font-size="12.4" text-anchor="end">130</text>
<text transform="translate(490,58.66) scale(0.57,1)" font-size="12.4" text-anchor="end">140</text>
<text transform="translate(490,43.64) scale(0.57,1)" font-size="12.4" text-anchor="end">150</text>
<text transform="translate(490,28.62) scale(0.57,1)" font-size="12.4" text-anchor="end">160</text>
<text transform="translate(490,13.6) scale(0.57,1)" font-size="12.4" text-anchor="end">170</text>
<text transform="translate(493.9,235.6) scale(0.61,1)" font-size="12.4" text-anchor="middle">0</text>
<text transform="translate(531.56,235.6) scale(0.61,1)" font-size="12.4" text-anchor="middle">0.2</text>
<text transform="translate(569.22,235.6) scale(0.61,1)" font-size="12.4" text-anchor="middle">0.4</text>
<text transform="translate(606.88,235.6) scale(0.61,1)" font-size="12.4" text-anchor="middle">0.6</text>
<text transform="translate(644.54,235.6) scale(0.61,1)" font-size="12.4" text-anchor="middle">0.8</text>
<text transform="translate(682.2,235.6) scale(0.61,1)" font-size="12.4" text-anchor="middle">1</text>
<text transform="translate(588.05,246) scale(0.63,1)" font-size="11.5" text-anchor="middle" textLength="80.16" lengthAdjust="spacingAndGlyphs">z-coordinate (m)</text>
<text transform="translate(464.6,169) scale(0.68,1) rotate(-90)" font-size="11.7" font-weight="bold" style="stroke-width:0;fill:#262626" textLength="112" lengthAdjust="spacingAndGlyphs">Total enthalpy (kJ/kg)</text>
<rect x="605.5" y="12.5" width="72.5" height="75" fill="#fff" stroke="#333" stroke-width="1.1"/>
<path d="M606.5,88.5h72.5v-75" stroke="#888" stroke-width="1" fill="none"/>
<path d="M609.5,23.9h13" stroke="#2f47e6" stroke-width="1.2"/>
<path d="M613,23.9L619,23.9 M614.5,19.8L617.5,28 M614.5,28L617.5,19.8" stroke="#2f47e6" stroke-width="1.4" fill="none"/>
<text transform="translate(625.3,27.5) scale(0.63,1)" font-size="13" textLength="77.62" lengthAdjust="spacingAndGlyphs">E=75,000 J/mol</text>
<path d="M609.5,41.3h13" stroke="#43b94e" stroke-width="1.2"/>
<ellipse cx="616" cy="41.3" rx="1.9" ry="3.0" stroke="#43b94e" stroke-width="1.2" fill="none"/>
<text transform="translate(625.3,44.9) scale(0.63,1)" font-size="13" textLength="77.62" lengthAdjust="spacingAndGlyphs">E=77,000 J/mol</text>
<path d="M609.5,58.7h13" stroke="#d53030" stroke-width="1.2"/>
<path d="M616,55.4L617.6,58.7L616,62L614.4,58.7Z" stroke="#d53030" stroke-width="1.1" fill="none"/>
<text transform="translate(625.3,62.3) scale(0.63,1)" font-size="13" textLength="77.62" lengthAdjust="spacingAndGlyphs">E=79,000 J/mol</text>
<path d="M609.5,76.1h13" stroke="#2cc9d1" stroke-width="1.2"/>
<rect x="614.4" y="73.9" width="3.2" height="4.4" fill="#2cc9d1"/>
<text transform="translate(625.3,79.7) scale(0.63,1)" font-size="13" textLength="77.62" lengthAdjust="spacingAndGlyphs">E=80,000 J/mol</text>
<text transform="translate(614.7,119.2) scale(0.7,1)" font-size="17.8" font-weight="bold" text-anchor="middle" textLength="19.14" lengthAdjust="spacingAndGlyphs">(c)</text>
</svg>
</div></body></html>
